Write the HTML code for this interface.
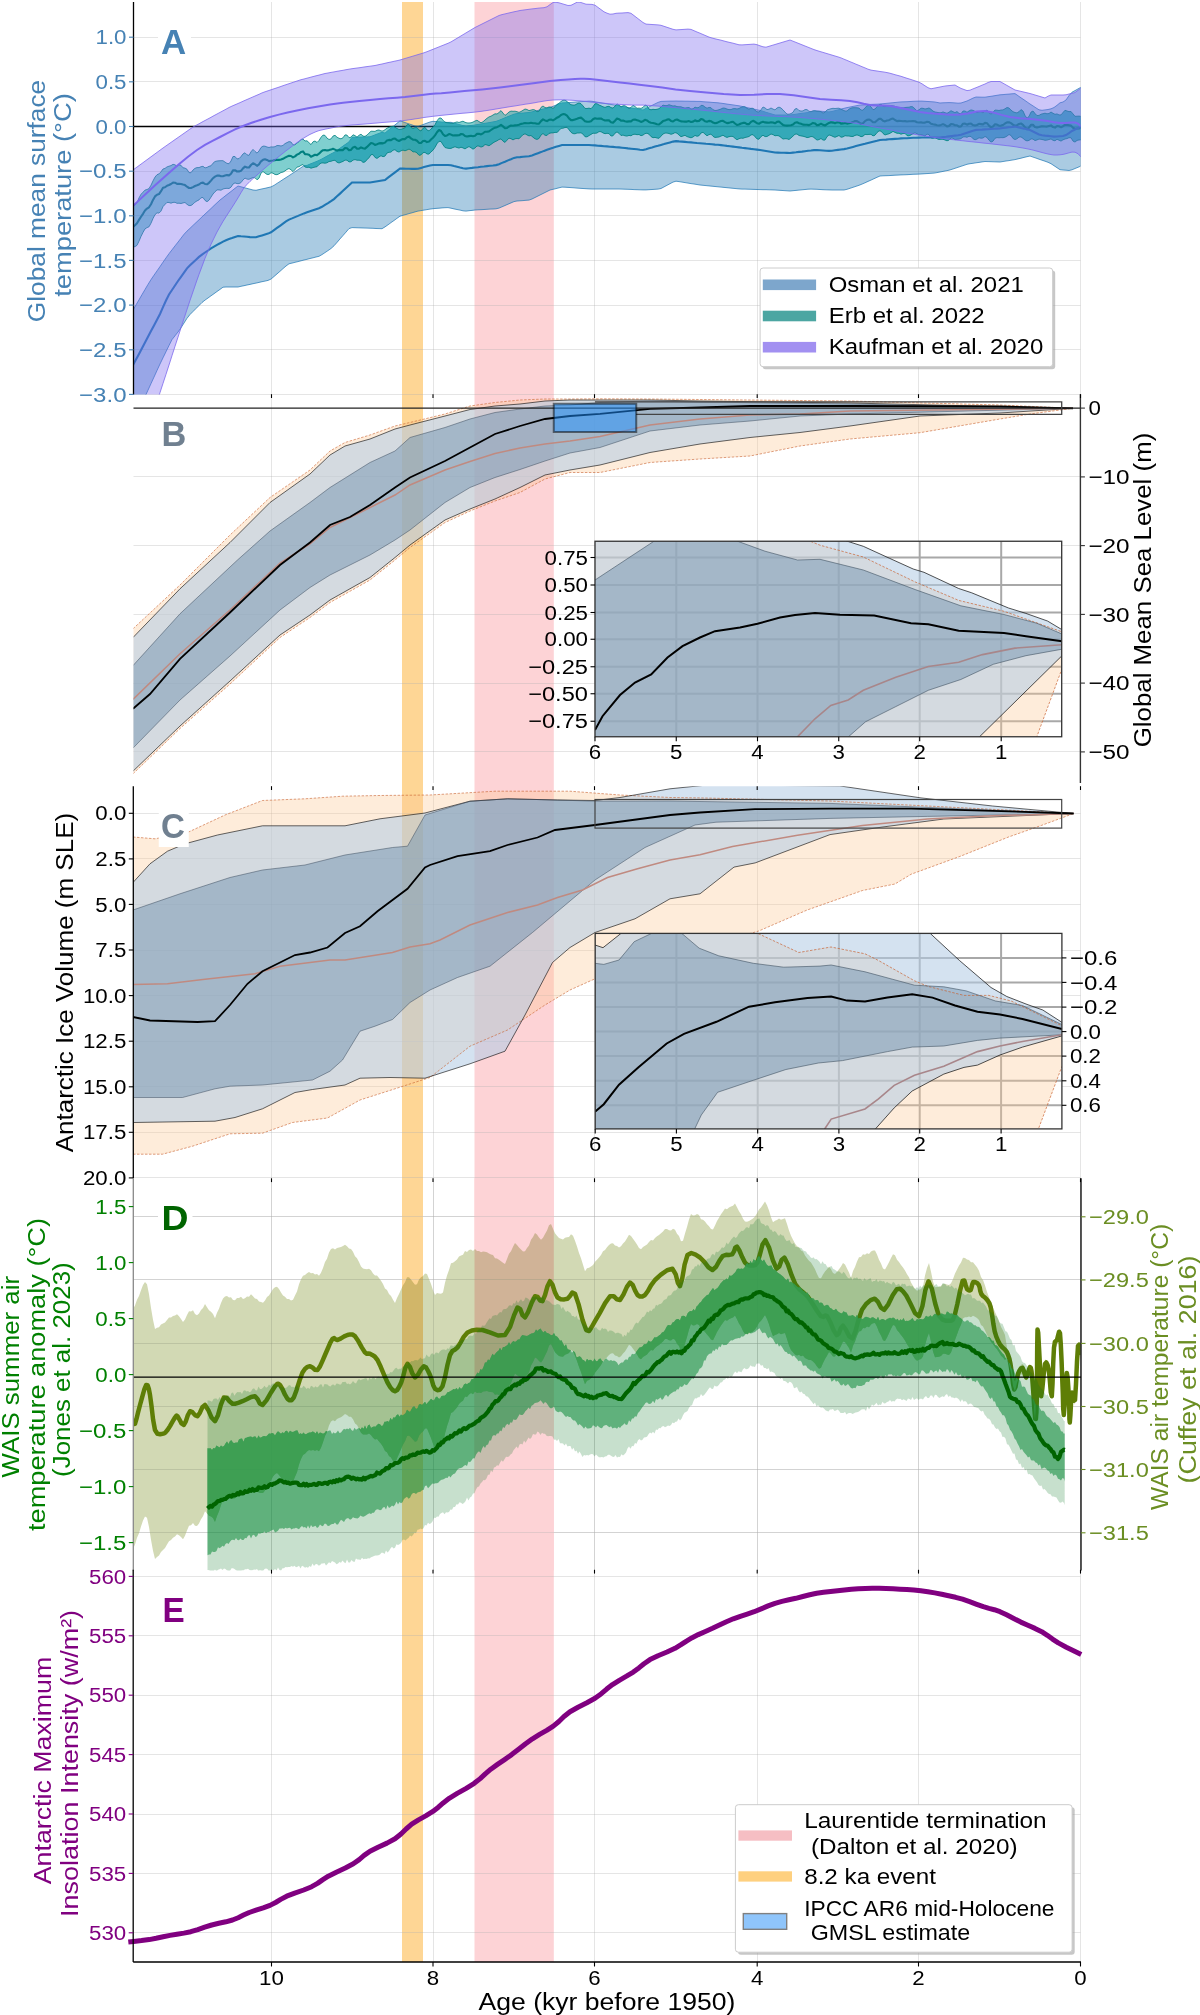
<!DOCTYPE html><html><head><meta charset="utf-8"><title>Holocene climate figure</title><style>html,body{margin:0;padding:0;background:#fff;overflow:hidden;}svg{display:block;will-change:transform;}text{font-family:'Liberation Sans', sans-serif;}</style></head><body>
<svg width="1200" height="2015" viewBox="0 0 1200 2015">
<rect width="1200" height="2015" fill="#fff"/>
<defs>
<clipPath id="clipA"><rect x="133.5" y="2" width="947.0" height="392.5"/></clipPath>
<clipPath id="clipB"><rect x="133.5" y="394.2" width="947.0" height="388.8"/></clipPath>
<clipPath id="clipC"><rect x="133.5" y="786.2" width="947.0" height="392.0999999999999"/></clipPath>
<clipPath id="clipD"><rect x="133.5" y="1178.3" width="947.0" height="392.20000000000005"/></clipPath>
<clipPath id="clipE"><rect x="133.5" y="1569.8" width="947.0" height="392.20000000000005"/></clipPath>
<clipPath id="clipBi"><rect x="595" y="541.25" width="466.7" height="195.5"/></clipPath>
<clipPath id="clipCi"><rect x="595.2" y="933.4" width="466.7" height="195.6"/></clipPath>
</defs>
<rect x="402" y="2" width="21" height="1960" fill="#fed695"/>
<rect x="474.5" y="2" width="79.3" height="1960" fill="#fdd3d6"/>
<line x1="133.5" y1="37.5" x2="1080.5" y2="37.5" stroke="#b0b0b0" stroke-opacity="0.33" stroke-width="1"/>
<line x1="133.5" y1="81.5" x2="1080.5" y2="81.5" stroke="#b0b0b0" stroke-opacity="0.33" stroke-width="1"/>
<line x1="133.5" y1="126.5" x2="1080.5" y2="126.5" stroke="#b0b0b0" stroke-opacity="0.33" stroke-width="1"/>
<line x1="133.5" y1="171.5" x2="1080.5" y2="171.5" stroke="#b0b0b0" stroke-opacity="0.33" stroke-width="1"/>
<line x1="133.5" y1="215.5" x2="1080.5" y2="215.5" stroke="#b0b0b0" stroke-opacity="0.33" stroke-width="1"/>
<line x1="133.5" y1="260.5" x2="1080.5" y2="260.5" stroke="#b0b0b0" stroke-opacity="0.33" stroke-width="1"/>
<line x1="133.5" y1="305.5" x2="1080.5" y2="305.5" stroke="#b0b0b0" stroke-opacity="0.33" stroke-width="1"/>
<line x1="133.5" y1="349.5" x2="1080.5" y2="349.5" stroke="#b0b0b0" stroke-opacity="0.33" stroke-width="1"/>
<line x1="133.5" y1="394.5" x2="1080.5" y2="394.5" stroke="#b0b0b0" stroke-opacity="0.33" stroke-width="1"/>
<line x1="271.5" y1="2" x2="271.5" y2="394.5" stroke="#b0b0b0" stroke-opacity="0.33" stroke-width="1"/>
<line x1="433.5" y1="2" x2="433.5" y2="394.5" stroke="#b0b0b0" stroke-opacity="0.33" stroke-width="1"/>
<line x1="594.5" y1="2" x2="594.5" y2="394.5" stroke="#b0b0b0" stroke-opacity="0.33" stroke-width="1"/>
<line x1="757.5" y1="2" x2="757.5" y2="394.5" stroke="#b0b0b0" stroke-opacity="0.33" stroke-width="1"/>
<line x1="918.5" y1="2" x2="918.5" y2="394.5" stroke="#b0b0b0" stroke-opacity="0.33" stroke-width="1"/>
<line x1="1080.5" y1="2" x2="1080.5" y2="394.5" stroke="#b0b0b0" stroke-opacity="0.33" stroke-width="1"/>
<g clip-path="url(#clipA)">
<line x1="133.5" y1="126.5" x2="1080.5" y2="126.5" stroke="#000" stroke-width="1.5"/>
<path d="M133,310 L136,304.9 L139,299.8 L142,294.6 L145,289.5 L148,284.4 L151,279.6 L154,275.2 L157,270.9 L160,266.6 L163,262.2 L166,257.9 L169,253.7 L172,249.8 L175,245.9 L178,242.1 L181,238.2 L184,234.3 L187,231.1 L190,228.3 L193,225.4 L196,222.6 L199,219.8 L202,216.9 L205,214.1 L208,211.3 L211,208.5 L214,205.6 L217,202.8 L220,200 L223,197.7 L226,195.3 L229,193 L232,190.7 L235,188.3 L238,186 L241,186.8 L244,187.6 L247,188.4 L250,189.2 L253,190 L256,190.3 L259,189.6 L262,188.9 L265,188.3 L268,187.6 L271,186.9 L274,185.4 L277,183.4 L280,181.5 L283,179.5 L286,177.6 L289,175.7 L292,173.7 L295,171.7 L298,169.7 L301,167.7 L304,165.7 L307,165.4 L310,164.1 L313,162.9 L316,161.7 L319,160.4 L322,158.9 L325,157.2 L328,155.6 L331,153.9 L334,152.4 L337,150.3 L340,148.2 L343,146.1 L346,144 L349,141.9 L352,137.4 L355,137.3 L358,137.2 L361,137.1 L364,137 L367,136.9 L370,136.8 L373,135.7 L376,134.5 L379,133.4 L382,132.3 L385,133.1 L388,130.6 L391,128.2 L394,125.7 L397,123.3 L400,120.8 L403,121.8 L406,122.9 L409,123.9 L412,124.9 L415,126 L418,126.3 L421,125.3 L424,124.2 L427,123.1 L430,122 L433,121.3 L436,121.6 L439,121.8 L442,122.1 L445,122.3 L448,122.4 L451,122.3 L454,123.1 L457,123.9 L460,124.8 L463,125.6 L466,126.1 L469,125.7 L472,125.4 L475,125 L478,124.5 L481,124 L484,123.5 L487,123 L490,122.5 L493,121.9 L496,121.4 L499,120.3 L502,119.1 L505,117.8 L508,116.6 L511,115.4 L514,114.2 L517,113.6 L520,113.3 L523,113.1 L526,112.8 L529,112.5 L532,111.9 L535,111.1 L538,110.4 L541,109.6 L544,108.9 L547,108.1 L550,107.4 L553,106.3 L556,105.1 L559,104 L562,102.9 L565,102.8 L568,102.6 L571,102.4 L574,102.2 L577,101.9 L580,101.7 L583,101.5 L586,101.3 L589,101.1 L592,101.3 L595,101.8 L598,102.3 L601,102.8 L604,103.3 L607,103.8 L610,104.3 L613,104.8 L616,105.3 L619,105.8 L622,106.4 L625,106.9 L628,107.4 L631,108 L634,108.5 L637,109 L640,109.5 L643,110.1 L646,108.4 L649,106.9 L652,105.4 L655,103.9 L658,102.4 L661,101.4 L664,101.3 L667,101.2 L670,101.1 L673,101.1 L676,101 L679,101.1 L682,101.1 L685,101.2 L688,101.2 L691,101.3 L694,101.3 L697,101.4 L700,101.4 L703,101.7 L706,101.9 L709,102.1 L712,102.4 L715,102.6 L718,102.8 L721,103.2 L724,103.6 L727,104.1 L730,104.5 L733,104.9 L736,105.4 L739,105.8 L742,106.4 L745,107.1 L748,107.8 L751,108.4 L754,109.1 L757,109.8 L760,110.4 L763,111.3 L766,112.3 L769,113.2 L772,114.1 L775,115 L778,115 L781,115 L784,115 L787,115 L790,115 L793,114.6 L796,114.2 L799,113.7 L802,113.3 L805,112.9 L808,112.5 L811,111.9 L814,111 L817,110.9 L820,111.2 L823,111.4 L826,111.7 L829,111.9 L832,111.5 L835,110.7 L838,109.9 L841,109.1 L844,108.3 L847,107.6 L850,107 L853,106.4 L856,105.8 L859,105.2 L862,104.9 L865,104.8 L868,104.6 L871,104.4 L874,104.3 L877,104.2 L880,104 L883,103.7 L886,103.4 L889,103.1 L892,102.8 L895,102.5 L898,102.2 L901,101.9 L904,101.8 L907,101.7 L910,101.5 L913,101.3 L916,101.2 L919,101.1 L922,101.1 L925,101.3 L928,101.5 L931,101.7 L934,101.9 L937,102.4 L940,103 L943,102.8 L946,102.7 L949,102.6 L952,102.7 L955,102.9 L958,103.2 L961,103 L964,102 L967,101 L970,99.6 L973,98.1 L976,97 L979,97.1 L982,97.2 L985,97.2 L988,96.7 L991,96.3 L994,95.8 L997,95.3 L1000,94.8 L1003,94.6 L1006,94.3 L1009,94.1 L1012,93.8 L1015,93.6 L1018,95.7 L1021,97.8 L1024,99.8 L1027,101.9 L1030,104 L1033,105.9 L1036,107.9 L1039,109.8 L1042,110.3 L1045,109.9 L1048,109.5 L1051,108.8 L1054,107.5 L1057,105.3 L1060,102.8 L1063,102 L1066,100 L1069,95.6 L1072,92.2 L1075,90.6 L1078,88.9 L1081,87.2 L1081,166 L1078,167.3 L1075,168.5 L1072,169.8 L1069,170.5 L1066,170.2 L1063,170 L1060,169.7 L1057,167.7 L1054,165.7 L1051,163.7 L1048,162.3 L1045,161.2 L1042,160.2 L1039,159.2 L1036,158.1 L1033,157.1 L1030,156 L1027,156.7 L1024,157.4 L1021,158.2 L1018,158.9 L1015,159.6 L1012,160.1 L1009,160.6 L1006,161 L1003,161.5 L1000,162 L997,161.9 L994,161.8 L991,161.7 L988,161.6 L985,161.5 L982,161.9 L979,162.4 L976,162.8 L973,163.3 L970,163.7 L967,164.3 L964,165.3 L961,166.3 L958,167.3 L955,168.3 L952,169.3 L949,170.2 L946,170.8 L943,171.4 L940,172 L937,172.6 L934,173.1 L931,173.3 L928,173.5 L925,173.7 L922,173.9 L919,174.1 L916,174.2 L913,174.3 L910,174.5 L907,174.7 L904,174.8 L901,174.9 L898,175.1 L895,175.2 L892,175.4 L889,175.6 L886,175.7 L883,175.8 L880,176 L877,177.3 L874,178.7 L871,180.1 L868,181.4 L865,182.8 L862,184.1 L859,185.3 L856,186.3 L853,187.3 L850,188.3 L847,189.3 L844,190 L841,190 L838,190 L835,190 L832,190 L829,189.9 L826,189.8 L823,189.7 L820,189.5 L817,189.3 L814,189.2 L811,189.1 L808,189.2 L805,189.5 L802,189.8 L799,190.1 L796,190.4 L793,190.7 L790,191 L787,190.8 L784,190.6 L781,190.4 L778,190.2 L775,190 L772,189.9 L769,189.8 L766,189.7 L763,189.7 L760,189.6 L757,189.5 L754,189.4 L751,189.3 L748,189.2 L745,189.1 L742,189.1 L739,188.9 L736,188.6 L733,188.3 L730,188 L727,187.7 L724,187.4 L721,187.1 L718,186.8 L715,186.5 L712,186.2 L709,185.9 L706,185.6 L703,185.3 L700,185 L697,184.5 L694,184 L691,183.6 L688,183.1 L685,182.6 L682,182.1 L679,181.6 L676,181.2 L673,182.1 L670,183.7 L667,185.3 L664,186.9 L661,188.5 L658,189.1 L655,189.3 L652,189.5 L649,189.7 L646,189.9 L643,189.9 L640,189.8 L637,189.7 L634,189.6 L631,189.4 L628,189.3 L625,189.2 L622,189.1 L619,189 L616,189 L613,189 L610,189 L607,189 L604,189 L601,189 L598,189 L595,189 L592,189 L589,188.9 L586,188.7 L583,188.5 L580,188.3 L577,188.1 L574,187.8 L571,187.6 L568,187.4 L565,187.2 L562,187.1 L559,187.8 L556,188.6 L553,189.3 L550,190 L547,191.5 L544,193 L541,194.5 L538,196 L535,197.5 L532,199 L529,200.1 L526,200.3 L523,200.6 L520,200.8 L517,201 L514,201.6 L511,202.9 L508,204.2 L505,205.5 L502,206.8 L499,208.1 L496,208.8 L493,209 L490,209.1 L487,209.3 L484,209.5 L481,209.7 L478,209.8 L475,210 L472,210.4 L469,210.7 L466,211.1 L463,210.8 L460,210.1 L457,209.5 L454,208.9 L451,208.2 L448,207.6 L445,207.7 L442,207.9 L439,208.2 L436,208.4 L433,208.7 L430,209.1 L427,209.6 L424,210.1 L421,210.6 L418,211.1 L415,211.9 L412,212.8 L409,213.6 L406,214.5 L403,215.3 L400,216.2 L397,218.3 L394,220.5 L391,222.6 L388,224.8 L385,226.9 L382,228.7 L379,228.6 L376,228.5 L373,228.3 L370,228.2 L367,228.1 L364,228 L361,227.9 L358,227.8 L355,227.7 L352,227.6 L349,228.6 L346,232.1 L343,235.5 L340,238.9 L337,242.4 L334,245.8 L331,248.5 L328,250.6 L325,252.6 L322,254.6 L319,256.3 L316,257 L313,257.8 L310,258.5 L307,259.3 L304,260 L301,260.8 L298,261.6 L295,262.3 L292,263.1 L289,263.8 L286,266 L283,268.6 L280,271.3 L277,273.9 L274,276.5 L271,279.1 L268,280.4 L265,281.1 L262,281.7 L259,282.4 L256,283.1 L253,283.7 L250,284.4 L247,285 L244,285.7 L241,286.3 L238,287 L235,287 L232,287 L229,287 L226,287 L223,287.2 L220,289.4 L217,291.5 L214,293.7 L211,295.8 L208,298 L205,300.1 L202,302.5 L199,305.5 L196,308.5 L193,311.5 L190,314.5 L187,318.3 L184,323 L181,327.8 L178,332 L175,335.8 L172,339.6 L169,345.5 L166,351.7 L163,357.8 L160,364 L157,370.5 L154,377.1 L151,383.6 L148,390.2 L145,396.7 L142,402.9 L139,409.1 L136,415.6 L133,422 Z" fill="#1f77b4" fill-opacity="0.38" stroke="#1f77b4" stroke-width="0.8" stroke-opacity="0.9"/>
<path d="M133,206 L135,205.1 L137,202.8 L139,197.9 L141,194.3 L143,192.2 L145,190.1 L147,189.5 L149,188.6 L151,185.2 L153,180.9 L155,177.1 L157,174.7 L159,173.9 L161,171.8 L163,169 L165,168.4 L167,166.9 L169,166.2 L171,165.6 L173,164.3 L175,164.8 L177,166.3 L179,164.8 L181,165.3 L183,167.8 L185,168.1 L187,169.3 L189,172.6 L191,172.7 L193,170 L195,168.3 L197,167.6 L199,167.6 L201,166.7 L203,166.3 L205,167.9 L207,167.4 L209,166.3 L211,165.8 L213,163.2 L215,161.5 L217,161 L219,160.8 L221,160.7 L223,160.7 L225,162.1 L227,163.4 L229,163.7 L231,161 L233,156.5 L235,156.5 L237,158.9 L239,158.6 L241,156.6 L243,153.9 L245,152.8 L247,154.8 L249,155.4 L251,151.8 L253,149.4 L255,151.4 L257,153.1 L259,151 L261,147.5 L263,146.1 L265,146.2 L267,147 L269,147.5 L271,146.9 L273,147 L275,146.7 L277,145.5 L279,145.6 L281,146 L283,145.4 L285,143.6 L287,142.6 L289,141.6 L291,142 L293,144.8 L295,144.8 L297,143 L299,141.7 L301,139.4 L303,139.1 L305,141 L307,140.8 L309,142.7 L311,144.6 L313,141.8 L315,141 L317,142.5 L319,140.5 L321,137.3 L323,135.1 L325,135.4 L327,138.1 L329,139.5 L331,138.9 L333,136.1 L335,135.3 L337,137.2 L339,138.3 L341,138.8 L343,137.8 L345,134.9 L347,135.1 L349,137.7 L351,137.2 L353,134.8 L355,135.6 L357,137.2 L359,135.3 L361,134.2 L363,136.1 L365,136.4 L367,135.1 L369,133.1 L371,131.2 L373,131.3 L375,131.4 L377,130.3 L379,130 L381,130.9 L383,131 L385,129.7 L387,128.2 L389,127.3 L391,126.6 L393,126.3 L395,127.2 L397,128.5 L399,129.4 L401,129.2 L403,128.7 L405,127.8 L407,124.8 L409,124.7 L411,127.4 L413,128.6 L415,127.6 L417,127.7 L419,130 L421,131 L423,128.3 L425,127.3 L427,130 L429,130.9 L431,128.9 L433,127.3 L435,124.7 L437,120.9 L439,118.2 L441,118 L443,120.2 L445,122.2 L447,122.7 L449,122.8 L451,123.2 L453,123.4 L455,122.5 L457,121.9 L459,122.5 L461,121.8 L463,121.2 L465,122.3 L467,122.9 L469,123 L471,122.8 L473,122.1 L475,121 L477,120.2 L479,121.6 L481,122.8 L483,121.8 L485,120 L487,118.3 L489,116.9 L491,116.2 L493,115 L495,113.8 L497,114 L499,112.5 L501,110.6 L503,113.1 L505,115.4 L507,113.9 L509,112 L511,111.1 L513,111.3 L515,111.2 L517,111.7 L519,112.4 L521,111.5 L523,110.3 L525,109 L527,109.5 L529,110.6 L531,110.1 L533,109.6 L535,110 L537,111.7 L539,111.2 L541,107.4 L543,106 L545,107.5 L547,107.9 L549,106.9 L551,107.3 L553,108.4 L555,106.7 L557,104.4 L559,103.3 L561,101.5 L563,100.3 L565,100.2 L567,101.3 L569,103.4 L571,104.7 L573,105.1 L575,105 L577,103.8 L579,103 L581,103.7 L583,105.9 L585,108.4 L587,108.5 L589,108.1 L591,108.7 L593,106.6 L595,103.8 L597,103.7 L599,105 L601,105.8 L603,106.8 L605,107.4 L607,106.6 L609,106.3 L611,107.6 L613,108.1 L615,106.1 L617,103.9 L619,105.2 L621,107 L623,105.7 L625,105.7 L627,107.2 L629,108.5 L631,107.5 L633,105.2 L635,106.5 L637,108.3 L639,108.1 L641,108.4 L643,107.4 L645,105.1 L647,105.7 L649,109.1 L651,109.8 L653,109.3 L655,109.6 L657,109.3 L659,108.7 L661,106.9 L663,105.1 L665,105.6 L667,105.6 L669,104.7 L671,105.4 L673,106 L675,105.8 L677,106.6 L679,106.8 L681,106.8 L683,107.6 L685,108.1 L687,107.7 L689,107.5 L691,109 L693,108.8 L695,107.1 L697,107.8 L699,107.4 L701,105.4 L703,105.5 L705,107.1 L707,108.2 L709,107.4 L711,107.7 L713,109.7 L715,110.5 L717,110.3 L719,109.7 L721,109 L723,108 L725,108.2 L727,109.1 L729,109.6 L731,109.6 L733,108.7 L735,108.6 L737,109 L739,108.5 L741,107.4 L743,106.7 L745,106.8 L747,108.4 L749,109.2 L751,108.3 L753,108.3 L755,110.2 L757,111.8 L759,112 L761,109.7 L763,107 L765,107.9 L767,109.6 L769,109.2 L771,108 L773,109.1 L775,109.9 L777,108 L779,107.1 L781,108 L783,109.9 L785,112.1 L787,114.1 L789,114.2 L791,113.6 L793,112.3 L795,109 L797,108.5 L799,110.6 L801,111.1 L803,110.9 L805,109.6 L807,109.6 L809,111.3 L811,111.6 L813,110.8 L815,110.7 L817,111.3 L819,111.3 L821,111.6 L823,113.1 L825,112.2 L827,109.9 L829,109.3 L831,108.7 L833,108.3 L835,108.5 L837,108.3 L839,108.2 L841,109.2 L843,110.1 L845,111 L847,111 L849,109.2 L851,108.1 L853,107.7 L855,107.7 L857,107.8 L859,108.1 L861,110 L863,110.2 L865,107.8 L867,105.9 L869,105 L871,106.9 L873,109.7 L875,109 L877,106.8 L879,104.8 L881,104.3 L883,106.2 L885,106.7 L887,105.9 L889,105.9 L891,105.7 L893,105.9 L895,106.3 L897,107.2 L899,107.5 L901,107.5 L903,107.9 L905,107.5 L907,107.3 L909,107.2 L911,106.6 L913,106.9 L915,109 L917,110.9 L919,109.8 L921,108.2 L923,108.3 L925,109 L927,108.6 L929,107.9 L931,109.3 L933,111.1 L935,112 L937,112.3 L939,112.8 L941,112.8 L943,111.9 L945,112.7 L947,113.3 L949,112.2 L951,110.7 L953,111.7 L955,112.6 L957,111.6 L959,113.4 L961,113.8 L963,111 L965,111 L967,112.3 L969,110.9 L971,109.9 L973,110.4 L975,111.3 L977,112.6 L979,111.8 L981,111.6 L983,112.9 L985,111 L987,110.1 L989,112.7 L991,114.1 L993,112.3 L995,110 L997,110.2 L999,110.5 L1001,110 L1003,109.9 L1005,108.8 L1007,107.5 L1009,108 L1011,110.1 L1013,111.7 L1015,112.5 L1017,112.9 L1019,111.7 L1021,109.6 L1023,111 L1025,115.5 L1027,118.2 L1029,116.4 L1031,112.1 L1033,111 L1035,113.5 L1037,115.6 L1039,115.4 L1041,114.2 L1043,113.7 L1045,113.2 L1047,113.8 L1049,113.5 L1051,112 L1053,113.3 L1055,114.3 L1057,113.9 L1059,114.9 L1061,114.9 L1063,112.5 L1065,110.3 L1067,111 L1069,111.6 L1071,111.5 L1073,113.9 L1075,116.3 L1077,116.2 L1079,116.1 L1081,116.4 L1081,140 L1079,139.9 L1077,140.4 L1075,142.1 L1073,141.1 L1071,137.8 L1069,137.7 L1067,138.6 L1065,139 L1063,139.8 L1061,141.1 L1059,140.2 L1057,139.2 L1055,140.8 L1053,140.3 L1051,138.9 L1049,139.5 L1047,140.1 L1045,140.3 L1043,139.7 L1041,139.3 L1039,139.1 L1037,139.9 L1035,140.6 L1033,139.1 L1031,138.9 L1029,140.4 L1027,140.9 L1025,140.1 L1023,138.3 L1021,136.9 L1019,137.1 L1017,138.8 L1015,139.6 L1013,138.4 L1011,135.5 L1009,134.5 L1007,136.1 L1005,137.2 L1003,137.7 L1001,137.6 L999,137.8 L997,137.6 L995,138.3 L993,141.2 L991,142.1 L989,140.2 L987,137.5 L985,136.5 L983,138 L981,138.2 L979,137.8 L977,139.1 L975,139.8 L973,138.7 L971,136.5 L969,136.3 L967,137.3 L965,136.8 L963,137 L961,138.6 L959,139.1 L957,139.2 L955,139.7 L953,138.2 L951,137.9 L949,140.1 L947,140.8 L945,140 L943,139.3 L941,139.3 L939,139.5 L937,138.8 L935,137.6 L933,138.2 L931,137.9 L929,134.7 L927,134.1 L925,135.9 L923,135.3 L921,134.6 L919,134.9 L917,133.8 L915,132.8 L913,133.7 L911,134.9 L909,135.9 L907,135.6 L905,133.3 L903,133.5 L901,134.2 L899,133.3 L897,133.3 L895,132.4 L893,131.4 L891,132.7 L889,133.8 L887,134.3 L885,135 L883,133.4 L881,131.1 L879,130.9 L877,132.6 L875,135.2 L873,135.9 L871,134.3 L869,134.4 L867,134.6 L865,134.4 L863,136.2 L861,136.7 L859,135.6 L857,134.9 L855,135.4 L853,136.5 L851,136.4 L849,136 L847,136 L845,135.7 L843,136.9 L841,137.2 L839,135.5 L837,136.4 L835,137.3 L833,136.5 L831,135.5 L829,134.9 L827,136.7 L825,140.1 L823,140.1 L821,138.5 L819,139.6 L817,140.1 L815,138.4 L813,136.8 L811,136.5 L809,137.3 L807,137.6 L805,136.8 L803,136.2 L801,135.9 L799,135.5 L797,134 L795,134.2 L793,136.1 L791,137.9 L789,139.5 L787,138.8 L785,138.7 L783,139.1 L781,137.4 L779,135.9 L777,135.5 L775,135.8 L773,134.6 L771,134 L769,135.3 L767,136.5 L765,136.6 L763,135.2 L761,136.6 L759,139.2 L757,138.9 L755,136.7 L753,134.7 L751,134.9 L749,136.5 L747,137.1 L745,137.5 L743,138.3 L741,138.1 L739,138.7 L737,139.8 L735,138.3 L733,136.5 L731,136.3 L729,136.7 L727,137.4 L725,136.6 L723,135.2 L721,136.1 L719,137 L717,137.2 L715,137.5 L713,136.3 L711,134.1 L709,134.6 L707,135.8 L705,134.1 L703,132.3 L701,133 L699,135.7 L697,136.3 L695,135.4 L693,137 L691,137.8 L689,137.2 L687,136.6 L685,135.3 L683,136 L681,136.7 L679,135 L677,133.2 L675,132.6 L673,133.7 L671,134.3 L669,133.5 L667,133.1 L665,133.1 L663,134 L661,136.2 L659,138.3 L657,138 L655,137.4 L653,137.7 L651,136.6 L649,134.2 L647,133.2 L645,133.6 L643,135.1 L641,135.7 L639,134.5 L637,134.7 L635,134.2 L633,134.5 L631,135.8 L629,135.4 L627,136.1 L625,135.8 L623,135.1 L621,135.5 L619,133.3 L617,131.9 L615,133.2 L613,135.8 L611,136 L609,133.6 L607,133.3 L605,133.7 L603,132.9 L601,131.7 L599,131.6 L597,133 L595,133.3 L593,133.2 L591,134.4 L589,135.6 L587,136.9 L585,136.7 L583,134.1 L581,132.8 L579,133 L577,133 L575,133.8 L573,133.6 L571,132.3 L569,129.7 L567,127.3 L565,127.5 L563,128.2 L561,128.3 L559,130.6 L557,132.4 L555,132.4 L553,132.9 L551,132.9 L549,133.4 L547,135.4 L545,135.3 L543,133.5 L541,135 L539,138.5 L537,139.4 L535,138.8 L533,137.2 L531,135.5 L529,135.9 L527,134.9 L525,133.8 L523,134.7 L521,136.7 L519,138.8 L517,138.5 L515,138.8 L513,139.9 L511,138.7 L509,138.2 L507,140.1 L505,142.4 L503,141.1 L501,138.9 L499,139.5 L497,140.8 L495,141.7 L493,142.9 L491,144.4 L489,145.8 L487,145 L485,144.5 L483,146.4 L481,147.1 L479,146.1 L477,146 L475,148 L473,149.2 L471,147.7 L469,146.6 L467,147.6 L465,148.9 L463,147.9 L461,147.2 L459,148.1 L457,147.5 L455,146.8 L453,147.5 L451,148.4 L449,148.4 L447,148.1 L445,147.5 L443,144.8 L441,141.5 L439,141.3 L437,143.7 L435,147.3 L433,150.2 L431,151.9 L429,154.1 L427,154 L425,152.4 L423,152.7 L421,154.9 L419,155.3 L417,152.9 L415,151.8 L413,151.9 L411,150.1 L409,149.1 L407,150 L405,150.8 L403,150.1 L401,150.8 L399,152.1 L397,151.4 L395,149.7 L393,150.2 L391,152.1 L389,152.3 L387,153 L385,156.1 L383,156.7 L381,155.7 L379,156.9 L377,158.4 L375,157.4 L373,154.6 L371,154.7 L369,157.7 L367,159.7 L365,161.9 L363,162.4 L361,160.5 L359,160.2 L357,160.2 L355,159.6 L353,160.1 L351,161.8 L349,161.9 L347,160.2 L345,160.1 L343,161.4 L341,162.2 L339,163 L337,162.2 L335,160.3 L333,160.5 L331,161.3 L329,161.5 L327,162.8 L325,163.2 L323,162.9 L321,163.1 L319,164.6 L317,166.7 L315,167.1 L313,167.6 L311,168.2 L309,167.2 L307,167.4 L305,167 L303,164.5 L301,165.3 L299,166.7 L297,167.1 L295,169.6 L293,171.6 L291,169.8 L289,168.5 L287,169.4 L285,170.9 L283,172.1 L281,172.5 L279,173.8 L277,174.7 L275,174.5 L273,173.2 L271,172.7 L269,174.4 L267,174.4 L265,173 L263,171.5 L261,173.1 L259,178.2 L257,179.8 L255,177.8 L253,177.5 L251,178.4 L249,179.3 L247,179.1 L245,178.1 L243,179.9 L241,182.6 L239,183.6 L237,183.6 L235,182.9 L233,184 L231,187.2 L229,188.5 L227,188.3 L225,188.5 L223,189 L221,190.2 L219,189.9 L217,189.9 L215,191.8 L213,194 L211,197.1 L209,200.2 L207,201.7 L205,200.4 L203,197.5 L201,197.8 L199,199.9 L197,200.9 L195,202.1 L193,204.1 L191,205.5 L189,205.6 L187,204.3 L185,202.5 L183,202.9 L181,203.5 L179,203.2 L177,203.3 L175,202.3 L173,202.4 L171,203.2 L169,202.5 L167,202.4 L165,204.4 L163,206.6 L161,211.1 L159,213.1 L157,212.8 L155,214.7 L153,218.5 L151,223.2 L149,226.8 L147,227.6 L145,228.9 L143,232.4 L141,236.4 L139,241.2 L137,245.3 L135,246.6 L133,247.1 Z" fill="#00a0a0" fill-opacity="0.5"/>
<clipPath id="osmanClip"><path d="M133,310 L136,304.9 L139,299.8 L142,294.6 L145,289.5 L148,284.4 L151,279.6 L154,275.2 L157,270.9 L160,266.6 L163,262.2 L166,257.9 L169,253.7 L172,249.8 L175,245.9 L178,242.1 L181,238.2 L184,234.3 L187,231.1 L190,228.3 L193,225.4 L196,222.6 L199,219.8 L202,216.9 L205,214.1 L208,211.3 L211,208.5 L214,205.6 L217,202.8 L220,200 L223,197.7 L226,195.3 L229,193 L232,190.7 L235,188.3 L238,186 L241,186.8 L244,187.6 L247,188.4 L250,189.2 L253,190 L256,190.3 L259,189.6 L262,188.9 L265,188.3 L268,187.6 L271,186.9 L274,185.4 L277,183.4 L280,181.5 L283,179.5 L286,177.6 L289,175.7 L292,173.7 L295,171.7 L298,169.7 L301,167.7 L304,165.7 L307,165.4 L310,164.1 L313,162.9 L316,161.7 L319,160.4 L322,158.9 L325,157.2 L328,155.6 L331,153.9 L334,152.4 L337,150.3 L340,148.2 L343,146.1 L346,144 L349,141.9 L352,137.4 L355,137.3 L358,137.2 L361,137.1 L364,137 L367,136.9 L370,136.8 L373,135.7 L376,134.5 L379,133.4 L382,132.3 L385,133.1 L388,130.6 L391,128.2 L394,125.7 L397,123.3 L400,120.8 L403,121.8 L406,122.9 L409,123.9 L412,124.9 L415,126 L418,126.3 L421,125.3 L424,124.2 L427,123.1 L430,122 L433,121.3 L436,121.6 L439,121.8 L442,122.1 L445,122.3 L448,122.4 L451,122.3 L454,123.1 L457,123.9 L460,124.8 L463,125.6 L466,126.1 L469,125.7 L472,125.4 L475,125 L478,124.5 L481,124 L484,123.5 L487,123 L490,122.5 L493,121.9 L496,121.4 L499,120.3 L502,119.1 L505,117.8 L508,116.6 L511,115.4 L514,114.2 L517,113.6 L520,113.3 L523,113.1 L526,112.8 L529,112.5 L532,111.9 L535,111.1 L538,110.4 L541,109.6 L544,108.9 L547,108.1 L550,107.4 L553,106.3 L556,105.1 L559,104 L562,102.9 L565,102.8 L568,102.6 L571,102.4 L574,102.2 L577,101.9 L580,101.7 L583,101.5 L586,101.3 L589,101.1 L592,101.3 L595,101.8 L598,102.3 L601,102.8 L604,103.3 L607,103.8 L610,104.3 L613,104.8 L616,105.3 L619,105.8 L622,106.4 L625,106.9 L628,107.4 L631,108 L634,108.5 L637,109 L640,109.5 L643,110.1 L646,108.4 L649,106.9 L652,105.4 L655,103.9 L658,102.4 L661,101.4 L664,101.3 L667,101.2 L670,101.1 L673,101.1 L676,101 L679,101.1 L682,101.1 L685,101.2 L688,101.2 L691,101.3 L694,101.3 L697,101.4 L700,101.4 L703,101.7 L706,101.9 L709,102.1 L712,102.4 L715,102.6 L718,102.8 L721,103.2 L724,103.6 L727,104.1 L730,104.5 L733,104.9 L736,105.4 L739,105.8 L742,106.4 L745,107.1 L748,107.8 L751,108.4 L754,109.1 L757,109.8 L760,110.4 L763,111.3 L766,112.3 L769,113.2 L772,114.1 L775,115 L778,115 L781,115 L784,115 L787,115 L790,115 L793,114.6 L796,114.2 L799,113.7 L802,113.3 L805,112.9 L808,112.5 L811,111.9 L814,111 L817,110.9 L820,111.2 L823,111.4 L826,111.7 L829,111.9 L832,111.5 L835,110.7 L838,109.9 L841,109.1 L844,108.3 L847,107.6 L850,107 L853,106.4 L856,105.8 L859,105.2 L862,104.9 L865,104.8 L868,104.6 L871,104.4 L874,104.3 L877,104.2 L880,104 L883,103.7 L886,103.4 L889,103.1 L892,102.8 L895,102.5 L898,102.2 L901,101.9 L904,101.8 L907,101.7 L910,101.5 L913,101.3 L916,101.2 L919,101.1 L922,101.1 L925,101.3 L928,101.5 L931,101.7 L934,101.9 L937,102.4 L940,103 L943,102.8 L946,102.7 L949,102.6 L952,102.7 L955,102.9 L958,103.2 L961,103 L964,102 L967,101 L970,99.6 L973,98.1 L976,97 L979,97.1 L982,97.2 L985,97.2 L988,96.7 L991,96.3 L994,95.8 L997,95.3 L1000,94.8 L1003,94.6 L1006,94.3 L1009,94.1 L1012,93.8 L1015,93.6 L1018,95.7 L1021,97.8 L1024,99.8 L1027,101.9 L1030,104 L1033,105.9 L1036,107.9 L1039,109.8 L1042,110.3 L1045,109.9 L1048,109.5 L1051,108.8 L1054,107.5 L1057,105.3 L1060,102.8 L1063,102 L1066,100 L1069,95.6 L1072,92.2 L1075,90.6 L1078,88.9 L1081,87.2 L1081,166 L1078,167.3 L1075,168.5 L1072,169.8 L1069,170.5 L1066,170.2 L1063,170 L1060,169.7 L1057,167.7 L1054,165.7 L1051,163.7 L1048,162.3 L1045,161.2 L1042,160.2 L1039,159.2 L1036,158.1 L1033,157.1 L1030,156 L1027,156.7 L1024,157.4 L1021,158.2 L1018,158.9 L1015,159.6 L1012,160.1 L1009,160.6 L1006,161 L1003,161.5 L1000,162 L997,161.9 L994,161.8 L991,161.7 L988,161.6 L985,161.5 L982,161.9 L979,162.4 L976,162.8 L973,163.3 L970,163.7 L967,164.3 L964,165.3 L961,166.3 L958,167.3 L955,168.3 L952,169.3 L949,170.2 L946,170.8 L943,171.4 L940,172 L937,172.6 L934,173.1 L931,173.3 L928,173.5 L925,173.7 L922,173.9 L919,174.1 L916,174.2 L913,174.3 L910,174.5 L907,174.7 L904,174.8 L901,174.9 L898,175.1 L895,175.2 L892,175.4 L889,175.6 L886,175.7 L883,175.8 L880,176 L877,177.3 L874,178.7 L871,180.1 L868,181.4 L865,182.8 L862,184.1 L859,185.3 L856,186.3 L853,187.3 L850,188.3 L847,189.3 L844,190 L841,190 L838,190 L835,190 L832,190 L829,189.9 L826,189.8 L823,189.7 L820,189.5 L817,189.3 L814,189.2 L811,189.1 L808,189.2 L805,189.5 L802,189.8 L799,190.1 L796,190.4 L793,190.7 L790,191 L787,190.8 L784,190.6 L781,190.4 L778,190.2 L775,190 L772,189.9 L769,189.8 L766,189.7 L763,189.7 L760,189.6 L757,189.5 L754,189.4 L751,189.3 L748,189.2 L745,189.1 L742,189.1 L739,188.9 L736,188.6 L733,188.3 L730,188 L727,187.7 L724,187.4 L721,187.1 L718,186.8 L715,186.5 L712,186.2 L709,185.9 L706,185.6 L703,185.3 L700,185 L697,184.5 L694,184 L691,183.6 L688,183.1 L685,182.6 L682,182.1 L679,181.6 L676,181.2 L673,182.1 L670,183.7 L667,185.3 L664,186.9 L661,188.5 L658,189.1 L655,189.3 L652,189.5 L649,189.7 L646,189.9 L643,189.9 L640,189.8 L637,189.7 L634,189.6 L631,189.4 L628,189.3 L625,189.2 L622,189.1 L619,189 L616,189 L613,189 L610,189 L607,189 L604,189 L601,189 L598,189 L595,189 L592,189 L589,188.9 L586,188.7 L583,188.5 L580,188.3 L577,188.1 L574,187.8 L571,187.6 L568,187.4 L565,187.2 L562,187.1 L559,187.8 L556,188.6 L553,189.3 L550,190 L547,191.5 L544,193 L541,194.5 L538,196 L535,197.5 L532,199 L529,200.1 L526,200.3 L523,200.6 L520,200.8 L517,201 L514,201.6 L511,202.9 L508,204.2 L505,205.5 L502,206.8 L499,208.1 L496,208.8 L493,209 L490,209.1 L487,209.3 L484,209.5 L481,209.7 L478,209.8 L475,210 L472,210.4 L469,210.7 L466,211.1 L463,210.8 L460,210.1 L457,209.5 L454,208.9 L451,208.2 L448,207.6 L445,207.7 L442,207.9 L439,208.2 L436,208.4 L433,208.7 L430,209.1 L427,209.6 L424,210.1 L421,210.6 L418,211.1 L415,211.9 L412,212.8 L409,213.6 L406,214.5 L403,215.3 L400,216.2 L397,218.3 L394,220.5 L391,222.6 L388,224.8 L385,226.9 L382,228.7 L379,228.6 L376,228.5 L373,228.3 L370,228.2 L367,228.1 L364,228 L361,227.9 L358,227.8 L355,227.7 L352,227.6 L349,228.6 L346,232.1 L343,235.5 L340,238.9 L337,242.4 L334,245.8 L331,248.5 L328,250.6 L325,252.6 L322,254.6 L319,256.3 L316,257 L313,257.8 L310,258.5 L307,259.3 L304,260 L301,260.8 L298,261.6 L295,262.3 L292,263.1 L289,263.8 L286,266 L283,268.6 L280,271.3 L277,273.9 L274,276.5 L271,279.1 L268,280.4 L265,281.1 L262,281.7 L259,282.4 L256,283.1 L253,283.7 L250,284.4 L247,285 L244,285.7 L241,286.3 L238,287 L235,287 L232,287 L229,287 L226,287 L223,287.2 L220,289.4 L217,291.5 L214,293.7 L211,295.8 L208,298 L205,300.1 L202,302.5 L199,305.5 L196,308.5 L193,311.5 L190,314.5 L187,318.3 L184,323 L181,327.8 L178,332 L175,335.8 L172,339.6 L169,345.5 L166,351.7 L163,357.8 L160,364 L157,370.5 L154,377.1 L151,383.6 L148,390.2 L145,396.7 L142,402.9 L139,409.1 L136,415.6 L133,422 Z"/></clipPath>
<path d="M133,206 L135,205.1 L137,202.8 L139,197.9 L141,194.3 L143,192.2 L145,190.1 L147,189.5 L149,188.6 L151,185.2 L153,180.9 L155,177.1 L157,174.7 L159,173.9 L161,171.8 L163,169 L165,168.4 L167,166.9 L169,166.2 L171,165.6 L173,164.3 L175,164.8 L177,166.3 L179,164.8 L181,165.3 L183,167.8 L185,168.1 L187,169.3 L189,172.6 L191,172.7 L193,170 L195,168.3 L197,167.6 L199,167.6 L201,166.7 L203,166.3 L205,167.9 L207,167.4 L209,166.3 L211,165.8 L213,163.2 L215,161.5 L217,161 L219,160.8 L221,160.7 L223,160.7 L225,162.1 L227,163.4 L229,163.7 L231,161 L233,156.5 L235,156.5 L237,158.9 L239,158.6 L241,156.6 L243,153.9 L245,152.8 L247,154.8 L249,155.4 L251,151.8 L253,149.4 L255,151.4 L257,153.1 L259,151 L261,147.5 L263,146.1 L265,146.2 L267,147 L269,147.5 L271,146.9 L273,147 L275,146.7 L277,145.5 L279,145.6 L281,146 L283,145.4 L285,143.6 L287,142.6 L289,141.6 L291,142 L293,144.8 L295,144.8 L297,143 L299,141.7 L301,139.4 L303,139.1 L305,141 L307,140.8 L309,142.7 L311,144.6 L313,141.8 L315,141 L317,142.5 L319,140.5 L321,137.3 L323,135.1 L325,135.4 L327,138.1 L329,139.5 L331,138.9 L333,136.1 L335,135.3 L337,137.2 L339,138.3 L341,138.8 L343,137.8 L345,134.9 L347,135.1 L349,137.7 L351,137.2 L353,134.8 L355,135.6 L357,137.2 L359,135.3 L361,134.2 L363,136.1 L365,136.4 L367,135.1 L369,133.1 L371,131.2 L373,131.3 L375,131.4 L377,130.3 L379,130 L381,130.9 L383,131 L385,129.7 L387,128.2 L389,127.3 L391,126.6 L393,126.3 L395,127.2 L397,128.5 L399,129.4 L401,129.2 L403,128.7 L405,127.8 L407,124.8 L409,124.7 L411,127.4 L413,128.6 L415,127.6 L417,127.7 L419,130 L421,131 L423,128.3 L425,127.3 L427,130 L429,130.9 L431,128.9 L433,127.3 L435,124.7 L437,120.9 L439,118.2 L441,118 L443,120.2 L445,122.2 L447,122.7 L449,122.8 L451,123.2 L453,123.4 L455,122.5 L457,121.9 L459,122.5 L461,121.8 L463,121.2 L465,122.3 L467,122.9 L469,123 L471,122.8 L473,122.1 L475,121 L477,120.2 L479,121.6 L481,122.8 L483,121.8 L485,120 L487,118.3 L489,116.9 L491,116.2 L493,115 L495,113.8 L497,114 L499,112.5 L501,110.6 L503,113.1 L505,115.4 L507,113.9 L509,112 L511,111.1 L513,111.3 L515,111.2 L517,111.7 L519,112.4 L521,111.5 L523,110.3 L525,109 L527,109.5 L529,110.6 L531,110.1 L533,109.6 L535,110 L537,111.7 L539,111.2 L541,107.4 L543,106 L545,107.5 L547,107.9 L549,106.9 L551,107.3 L553,108.4 L555,106.7 L557,104.4 L559,103.3 L561,101.5 L563,100.3 L565,100.2 L567,101.3 L569,103.4 L571,104.7 L573,105.1 L575,105 L577,103.8 L579,103 L581,103.7 L583,105.9 L585,108.4 L587,108.5 L589,108.1 L591,108.7 L593,106.6 L595,103.8 L597,103.7 L599,105 L601,105.8 L603,106.8 L605,107.4 L607,106.6 L609,106.3 L611,107.6 L613,108.1 L615,106.1 L617,103.9 L619,105.2 L621,107 L623,105.7 L625,105.7 L627,107.2 L629,108.5 L631,107.5 L633,105.2 L635,106.5 L637,108.3 L639,108.1 L641,108.4 L643,107.4 L645,105.1 L647,105.7 L649,109.1 L651,109.8 L653,109.3 L655,109.6 L657,109.3 L659,108.7 L661,106.9 L663,105.1 L665,105.6 L667,105.6 L669,104.7 L671,105.4 L673,106 L675,105.8 L677,106.6 L679,106.8 L681,106.8 L683,107.6 L685,108.1 L687,107.7 L689,107.5 L691,109 L693,108.8 L695,107.1 L697,107.8 L699,107.4 L701,105.4 L703,105.5 L705,107.1 L707,108.2 L709,107.4 L711,107.7 L713,109.7 L715,110.5 L717,110.3 L719,109.7 L721,109 L723,108 L725,108.2 L727,109.1 L729,109.6 L731,109.6 L733,108.7 L735,108.6 L737,109 L739,108.5 L741,107.4 L743,106.7 L745,106.8 L747,108.4 L749,109.2 L751,108.3 L753,108.3 L755,110.2 L757,111.8 L759,112 L761,109.7 L763,107 L765,107.9 L767,109.6 L769,109.2 L771,108 L773,109.1 L775,109.9 L777,108 L779,107.1 L781,108 L783,109.9 L785,112.1 L787,114.1 L789,114.2 L791,113.6 L793,112.3 L795,109 L797,108.5 L799,110.6 L801,111.1 L803,110.9 L805,109.6 L807,109.6 L809,111.3 L811,111.6 L813,110.8 L815,110.7 L817,111.3 L819,111.3 L821,111.6 L823,113.1 L825,112.2 L827,109.9 L829,109.3 L831,108.7 L833,108.3 L835,108.5 L837,108.3 L839,108.2 L841,109.2 L843,110.1 L845,111 L847,111 L849,109.2 L851,108.1 L853,107.7 L855,107.7 L857,107.8 L859,108.1 L861,110 L863,110.2 L865,107.8 L867,105.9 L869,105 L871,106.9 L873,109.7 L875,109 L877,106.8 L879,104.8 L881,104.3 L883,106.2 L885,106.7 L887,105.9 L889,105.9 L891,105.7 L893,105.9 L895,106.3 L897,107.2 L899,107.5 L901,107.5 L903,107.9 L905,107.5 L907,107.3 L909,107.2 L911,106.6 L913,106.9 L915,109 L917,110.9 L919,109.8 L921,108.2 L923,108.3 L925,109 L927,108.6 L929,107.9 L931,109.3 L933,111.1 L935,112 L937,112.3 L939,112.8 L941,112.8 L943,111.9 L945,112.7 L947,113.3 L949,112.2 L951,110.7 L953,111.7 L955,112.6 L957,111.6 L959,113.4 L961,113.8 L963,111 L965,111 L967,112.3 L969,110.9 L971,109.9 L973,110.4 L975,111.3 L977,112.6 L979,111.8 L981,111.6 L983,112.9 L985,111 L987,110.1 L989,112.7 L991,114.1 L993,112.3 L995,110 L997,110.2 L999,110.5 L1001,110 L1003,109.9 L1005,108.8 L1007,107.5 L1009,108 L1011,110.1 L1013,111.7 L1015,112.5 L1017,112.9 L1019,111.7 L1021,109.6 L1023,111 L1025,115.5 L1027,118.2 L1029,116.4 L1031,112.1 L1033,111 L1035,113.5 L1037,115.6 L1039,115.4 L1041,114.2 L1043,113.7 L1045,113.2 L1047,113.8 L1049,113.5 L1051,112 L1053,113.3 L1055,114.3 L1057,113.9 L1059,114.9 L1061,114.9 L1063,112.5 L1065,110.3 L1067,111 L1069,111.6 L1071,111.5 L1073,113.9 L1075,116.3 L1077,116.2 L1079,116.1 L1081,116.4 L1081,140 L1079,139.9 L1077,140.4 L1075,142.1 L1073,141.1 L1071,137.8 L1069,137.7 L1067,138.6 L1065,139 L1063,139.8 L1061,141.1 L1059,140.2 L1057,139.2 L1055,140.8 L1053,140.3 L1051,138.9 L1049,139.5 L1047,140.1 L1045,140.3 L1043,139.7 L1041,139.3 L1039,139.1 L1037,139.9 L1035,140.6 L1033,139.1 L1031,138.9 L1029,140.4 L1027,140.9 L1025,140.1 L1023,138.3 L1021,136.9 L1019,137.1 L1017,138.8 L1015,139.6 L1013,138.4 L1011,135.5 L1009,134.5 L1007,136.1 L1005,137.2 L1003,137.7 L1001,137.6 L999,137.8 L997,137.6 L995,138.3 L993,141.2 L991,142.1 L989,140.2 L987,137.5 L985,136.5 L983,138 L981,138.2 L979,137.8 L977,139.1 L975,139.8 L973,138.7 L971,136.5 L969,136.3 L967,137.3 L965,136.8 L963,137 L961,138.6 L959,139.1 L957,139.2 L955,139.7 L953,138.2 L951,137.9 L949,140.1 L947,140.8 L945,140 L943,139.3 L941,139.3 L939,139.5 L937,138.8 L935,137.6 L933,138.2 L931,137.9 L929,134.7 L927,134.1 L925,135.9 L923,135.3 L921,134.6 L919,134.9 L917,133.8 L915,132.8 L913,133.7 L911,134.9 L909,135.9 L907,135.6 L905,133.3 L903,133.5 L901,134.2 L899,133.3 L897,133.3 L895,132.4 L893,131.4 L891,132.7 L889,133.8 L887,134.3 L885,135 L883,133.4 L881,131.1 L879,130.9 L877,132.6 L875,135.2 L873,135.9 L871,134.3 L869,134.4 L867,134.6 L865,134.4 L863,136.2 L861,136.7 L859,135.6 L857,134.9 L855,135.4 L853,136.5 L851,136.4 L849,136 L847,136 L845,135.7 L843,136.9 L841,137.2 L839,135.5 L837,136.4 L835,137.3 L833,136.5 L831,135.5 L829,134.9 L827,136.7 L825,140.1 L823,140.1 L821,138.5 L819,139.6 L817,140.1 L815,138.4 L813,136.8 L811,136.5 L809,137.3 L807,137.6 L805,136.8 L803,136.2 L801,135.9 L799,135.5 L797,134 L795,134.2 L793,136.1 L791,137.9 L789,139.5 L787,138.8 L785,138.7 L783,139.1 L781,137.4 L779,135.9 L777,135.5 L775,135.8 L773,134.6 L771,134 L769,135.3 L767,136.5 L765,136.6 L763,135.2 L761,136.6 L759,139.2 L757,138.9 L755,136.7 L753,134.7 L751,134.9 L749,136.5 L747,137.1 L745,137.5 L743,138.3 L741,138.1 L739,138.7 L737,139.8 L735,138.3 L733,136.5 L731,136.3 L729,136.7 L727,137.4 L725,136.6 L723,135.2 L721,136.1 L719,137 L717,137.2 L715,137.5 L713,136.3 L711,134.1 L709,134.6 L707,135.8 L705,134.1 L703,132.3 L701,133 L699,135.7 L697,136.3 L695,135.4 L693,137 L691,137.8 L689,137.2 L687,136.6 L685,135.3 L683,136 L681,136.7 L679,135 L677,133.2 L675,132.6 L673,133.7 L671,134.3 L669,133.5 L667,133.1 L665,133.1 L663,134 L661,136.2 L659,138.3 L657,138 L655,137.4 L653,137.7 L651,136.6 L649,134.2 L647,133.2 L645,133.6 L643,135.1 L641,135.7 L639,134.5 L637,134.7 L635,134.2 L633,134.5 L631,135.8 L629,135.4 L627,136.1 L625,135.8 L623,135.1 L621,135.5 L619,133.3 L617,131.9 L615,133.2 L613,135.8 L611,136 L609,133.6 L607,133.3 L605,133.7 L603,132.9 L601,131.7 L599,131.6 L597,133 L595,133.3 L593,133.2 L591,134.4 L589,135.6 L587,136.9 L585,136.7 L583,134.1 L581,132.8 L579,133 L577,133 L575,133.8 L573,133.6 L571,132.3 L569,129.7 L567,127.3 L565,127.5 L563,128.2 L561,128.3 L559,130.6 L557,132.4 L555,132.4 L553,132.9 L551,132.9 L549,133.4 L547,135.4 L545,135.3 L543,133.5 L541,135 L539,138.5 L537,139.4 L535,138.8 L533,137.2 L531,135.5 L529,135.9 L527,134.9 L525,133.8 L523,134.7 L521,136.7 L519,138.8 L517,138.5 L515,138.8 L513,139.9 L511,138.7 L509,138.2 L507,140.1 L505,142.4 L503,141.1 L501,138.9 L499,139.5 L497,140.8 L495,141.7 L493,142.9 L491,144.4 L489,145.8 L487,145 L485,144.5 L483,146.4 L481,147.1 L479,146.1 L477,146 L475,148 L473,149.2 L471,147.7 L469,146.6 L467,147.6 L465,148.9 L463,147.9 L461,147.2 L459,148.1 L457,147.5 L455,146.8 L453,147.5 L451,148.4 L449,148.4 L447,148.1 L445,147.5 L443,144.8 L441,141.5 L439,141.3 L437,143.7 L435,147.3 L433,150.2 L431,151.9 L429,154.1 L427,154 L425,152.4 L423,152.7 L421,154.9 L419,155.3 L417,152.9 L415,151.8 L413,151.9 L411,150.1 L409,149.1 L407,150 L405,150.8 L403,150.1 L401,150.8 L399,152.1 L397,151.4 L395,149.7 L393,150.2 L391,152.1 L389,152.3 L387,153 L385,156.1 L383,156.7 L381,155.7 L379,156.9 L377,158.4 L375,157.4 L373,154.6 L371,154.7 L369,157.7 L367,159.7 L365,161.9 L363,162.4 L361,160.5 L359,160.2 L357,160.2 L355,159.6 L353,160.1 L351,161.8 L349,161.9 L347,160.2 L345,160.1 L343,161.4 L341,162.2 L339,163 L337,162.2 L335,160.3 L333,160.5 L331,161.3 L329,161.5 L327,162.8 L325,163.2 L323,162.9 L321,163.1 L319,164.6 L317,166.7 L315,167.1 L313,167.6 L311,168.2 L309,167.2 L307,167.4 L305,167 L303,164.5 L301,165.3 L299,166.7 L297,167.1 L295,169.6 L293,171.6 L291,169.8 L289,168.5 L287,169.4 L285,170.9 L283,172.1 L281,172.5 L279,173.8 L277,174.7 L275,174.5 L273,173.2 L271,172.7 L269,174.4 L267,174.4 L265,173 L263,171.5 L261,173.1 L259,178.2 L257,179.8 L255,177.8 L253,177.5 L251,178.4 L249,179.3 L247,179.1 L245,178.1 L243,179.9 L241,182.6 L239,183.6 L237,183.6 L235,182.9 L233,184 L231,187.2 L229,188.5 L227,188.3 L225,188.5 L223,189 L221,190.2 L219,189.9 L217,189.9 L215,191.8 L213,194 L211,197.1 L209,200.2 L207,201.7 L205,200.4 L203,197.5 L201,197.8 L199,199.9 L197,200.9 L195,202.1 L193,204.1 L191,205.5 L189,205.6 L187,204.3 L185,202.5 L183,202.9 L181,203.5 L179,203.2 L177,203.3 L175,202.3 L173,202.4 L171,203.2 L169,202.5 L167,202.4 L165,204.4 L163,206.6 L161,211.1 L159,213.1 L157,212.8 L155,214.7 L153,218.5 L151,223.2 L149,226.8 L147,227.6 L145,228.9 L143,232.4 L141,236.4 L139,241.2 L137,245.3 L135,246.6 L133,247.1 Z" fill="#2aa6b4" fill-opacity="0.75" clip-path="url(#osmanClip)"/>
<path d="M133,206 L135,205.1 L137,202.8 L139,197.9 L141,194.3 L143,192.2 L145,190.1 L147,189.5 L149,188.6 L151,185.2 L153,180.9 L155,177.1 L157,174.7 L159,173.9 L161,171.8 L163,169 L165,168.4 L167,166.9 L169,166.2 L171,165.6 L173,164.3 L175,164.8 L177,166.3 L179,164.8 L181,165.3 L183,167.8 L185,168.1 L187,169.3 L189,172.6 L191,172.7 L193,170 L195,168.3 L197,167.6 L199,167.6 L201,166.7 L203,166.3 L205,167.9 L207,167.4 L209,166.3 L211,165.8 L213,163.2 L215,161.5 L217,161 L219,160.8 L221,160.7 L223,160.7 L225,162.1 L227,163.4 L229,163.7 L231,161 L233,156.5 L235,156.5 L237,158.9 L239,158.6 L241,156.6 L243,153.9 L245,152.8 L247,154.8 L249,155.4 L251,151.8 L253,149.4 L255,151.4 L257,153.1 L259,151 L261,147.5 L263,146.1 L265,146.2 L267,147 L269,147.5 L271,146.9 L273,147 L275,146.7 L277,145.5 L279,145.6 L281,146 L283,145.4 L285,143.6 L287,142.6 L289,141.6 L291,142 L293,144.8 L295,144.8 L297,143 L299,141.7 L301,139.4 L303,139.1 L305,141 L307,140.8 L309,142.7 L311,144.6 L313,141.8 L315,141 L317,142.5 L319,140.5 L321,137.3 L323,135.1 L325,135.4 L327,138.1 L329,139.5 L331,138.9 L333,136.1 L335,135.3 L337,137.2 L339,138.3 L341,138.8 L343,137.8 L345,134.9 L347,135.1 L349,137.7 L351,137.2 L353,134.8 L355,135.6 L357,137.2 L359,135.3 L361,134.2 L363,136.1 L365,136.4 L367,135.1 L369,133.1 L371,131.2 L373,131.3 L375,131.4 L377,130.3 L379,130 L381,130.9 L383,131 L385,129.7 L387,128.2 L389,127.3 L391,126.6 L393,126.3 L395,127.2 L397,128.5 L399,129.4 L401,129.2 L403,128.7 L405,127.8 L407,124.8 L409,124.7 L411,127.4 L413,128.6 L415,127.6 L417,127.7 L419,130 L421,131 L423,128.3 L425,127.3 L427,130 L429,130.9 L431,128.9 L433,127.3 L435,124.7 L437,120.9 L439,118.2 L441,118 L443,120.2 L445,122.2 L447,122.7 L449,122.8 L451,123.2 L453,123.4 L455,122.5 L457,121.9 L459,122.5 L461,121.8 L463,121.2 L465,122.3 L467,122.9 L469,123 L471,122.8 L473,122.1 L475,121 L477,120.2 L479,121.6 L481,122.8 L483,121.8 L485,120 L487,118.3 L489,116.9 L491,116.2 L493,115 L495,113.8 L497,114 L499,112.5 L501,110.6 L503,113.1 L505,115.4 L507,113.9 L509,112 L511,111.1 L513,111.3 L515,111.2 L517,111.7 L519,112.4 L521,111.5 L523,110.3 L525,109 L527,109.5 L529,110.6 L531,110.1 L533,109.6 L535,110 L537,111.7 L539,111.2 L541,107.4 L543,106 L545,107.5 L547,107.9 L549,106.9 L551,107.3 L553,108.4 L555,106.7 L557,104.4 L559,103.3 L561,101.5 L563,100.3 L565,100.2 L567,101.3 L569,103.4 L571,104.7 L573,105.1 L575,105 L577,103.8 L579,103 L581,103.7 L583,105.9 L585,108.4 L587,108.5 L589,108.1 L591,108.7 L593,106.6 L595,103.8 L597,103.7 L599,105 L601,105.8 L603,106.8 L605,107.4 L607,106.6 L609,106.3 L611,107.6 L613,108.1 L615,106.1 L617,103.9 L619,105.2 L621,107 L623,105.7 L625,105.7 L627,107.2 L629,108.5 L631,107.5 L633,105.2 L635,106.5 L637,108.3 L639,108.1 L641,108.4 L643,107.4 L645,105.1 L647,105.7 L649,109.1 L651,109.8 L653,109.3 L655,109.6 L657,109.3 L659,108.7 L661,106.9 L663,105.1 L665,105.6 L667,105.6 L669,104.7 L671,105.4 L673,106 L675,105.8 L677,106.6 L679,106.8 L681,106.8 L683,107.6 L685,108.1 L687,107.7 L689,107.5 L691,109 L693,108.8 L695,107.1 L697,107.8 L699,107.4 L701,105.4 L703,105.5 L705,107.1 L707,108.2 L709,107.4 L711,107.7 L713,109.7 L715,110.5 L717,110.3 L719,109.7 L721,109 L723,108 L725,108.2 L727,109.1 L729,109.6 L731,109.6 L733,108.7 L735,108.6 L737,109 L739,108.5 L741,107.4 L743,106.7 L745,106.8 L747,108.4 L749,109.2 L751,108.3 L753,108.3 L755,110.2 L757,111.8 L759,112 L761,109.7 L763,107 L765,107.9 L767,109.6 L769,109.2 L771,108 L773,109.1 L775,109.9 L777,108 L779,107.1 L781,108 L783,109.9 L785,112.1 L787,114.1 L789,114.2 L791,113.6 L793,112.3 L795,109 L797,108.5 L799,110.6 L801,111.1 L803,110.9 L805,109.6 L807,109.6 L809,111.3 L811,111.6 L813,110.8 L815,110.7 L817,111.3 L819,111.3 L821,111.6 L823,113.1 L825,112.2 L827,109.9 L829,109.3 L831,108.7 L833,108.3 L835,108.5 L837,108.3 L839,108.2 L841,109.2 L843,110.1 L845,111 L847,111 L849,109.2 L851,108.1 L853,107.7 L855,107.7 L857,107.8 L859,108.1 L861,110 L863,110.2 L865,107.8 L867,105.9 L869,105 L871,106.9 L873,109.7 L875,109 L877,106.8 L879,104.8 L881,104.3 L883,106.2 L885,106.7 L887,105.9 L889,105.9 L891,105.7 L893,105.9 L895,106.3 L897,107.2 L899,107.5 L901,107.5 L903,107.9 L905,107.5 L907,107.3 L909,107.2 L911,106.6 L913,106.9 L915,109 L917,110.9 L919,109.8 L921,108.2 L923,108.3 L925,109 L927,108.6 L929,107.9 L931,109.3 L933,111.1 L935,112 L937,112.3 L939,112.8 L941,112.8 L943,111.9 L945,112.7 L947,113.3 L949,112.2 L951,110.7 L953,111.7 L955,112.6 L957,111.6 L959,113.4 L961,113.8 L963,111 L965,111 L967,112.3 L969,110.9 L971,109.9 L973,110.4 L975,111.3 L977,112.6 L979,111.8 L981,111.6 L983,112.9 L985,111 L987,110.1 L989,112.7 L991,114.1 L993,112.3 L995,110 L997,110.2 L999,110.5 L1001,110 L1003,109.9 L1005,108.8 L1007,107.5 L1009,108 L1011,110.1 L1013,111.7 L1015,112.5 L1017,112.9 L1019,111.7 L1021,109.6 L1023,111 L1025,115.5 L1027,118.2 L1029,116.4 L1031,112.1 L1033,111 L1035,113.5 L1037,115.6 L1039,115.4 L1041,114.2 L1043,113.7 L1045,113.2 L1047,113.8 L1049,113.5 L1051,112 L1053,113.3 L1055,114.3 L1057,113.9 L1059,114.9 L1061,114.9 L1063,112.5 L1065,110.3 L1067,111 L1069,111.6 L1071,111.5 L1073,113.9 L1075,116.3 L1077,116.2 L1079,116.1 L1081,116.4 L1081,140 L1079,139.9 L1077,140.4 L1075,142.1 L1073,141.1 L1071,137.8 L1069,137.7 L1067,138.6 L1065,139 L1063,139.8 L1061,141.1 L1059,140.2 L1057,139.2 L1055,140.8 L1053,140.3 L1051,138.9 L1049,139.5 L1047,140.1 L1045,140.3 L1043,139.7 L1041,139.3 L1039,139.1 L1037,139.9 L1035,140.6 L1033,139.1 L1031,138.9 L1029,140.4 L1027,140.9 L1025,140.1 L1023,138.3 L1021,136.9 L1019,137.1 L1017,138.8 L1015,139.6 L1013,138.4 L1011,135.5 L1009,134.5 L1007,136.1 L1005,137.2 L1003,137.7 L1001,137.6 L999,137.8 L997,137.6 L995,138.3 L993,141.2 L991,142.1 L989,140.2 L987,137.5 L985,136.5 L983,138 L981,138.2 L979,137.8 L977,139.1 L975,139.8 L973,138.7 L971,136.5 L969,136.3 L967,137.3 L965,136.8 L963,137 L961,138.6 L959,139.1 L957,139.2 L955,139.7 L953,138.2 L951,137.9 L949,140.1 L947,140.8 L945,140 L943,139.3 L941,139.3 L939,139.5 L937,138.8 L935,137.6 L933,138.2 L931,137.9 L929,134.7 L927,134.1 L925,135.9 L923,135.3 L921,134.6 L919,134.9 L917,133.8 L915,132.8 L913,133.7 L911,134.9 L909,135.9 L907,135.6 L905,133.3 L903,133.5 L901,134.2 L899,133.3 L897,133.3 L895,132.4 L893,131.4 L891,132.7 L889,133.8 L887,134.3 L885,135 L883,133.4 L881,131.1 L879,130.9 L877,132.6 L875,135.2 L873,135.9 L871,134.3 L869,134.4 L867,134.6 L865,134.4 L863,136.2 L861,136.7 L859,135.6 L857,134.9 L855,135.4 L853,136.5 L851,136.4 L849,136 L847,136 L845,135.7 L843,136.9 L841,137.2 L839,135.5 L837,136.4 L835,137.3 L833,136.5 L831,135.5 L829,134.9 L827,136.7 L825,140.1 L823,140.1 L821,138.5 L819,139.6 L817,140.1 L815,138.4 L813,136.8 L811,136.5 L809,137.3 L807,137.6 L805,136.8 L803,136.2 L801,135.9 L799,135.5 L797,134 L795,134.2 L793,136.1 L791,137.9 L789,139.5 L787,138.8 L785,138.7 L783,139.1 L781,137.4 L779,135.9 L777,135.5 L775,135.8 L773,134.6 L771,134 L769,135.3 L767,136.5 L765,136.6 L763,135.2 L761,136.6 L759,139.2 L757,138.9 L755,136.7 L753,134.7 L751,134.9 L749,136.5 L747,137.1 L745,137.5 L743,138.3 L741,138.1 L739,138.7 L737,139.8 L735,138.3 L733,136.5 L731,136.3 L729,136.7 L727,137.4 L725,136.6 L723,135.2 L721,136.1 L719,137 L717,137.2 L715,137.5 L713,136.3 L711,134.1 L709,134.6 L707,135.8 L705,134.1 L703,132.3 L701,133 L699,135.7 L697,136.3 L695,135.4 L693,137 L691,137.8 L689,137.2 L687,136.6 L685,135.3 L683,136 L681,136.7 L679,135 L677,133.2 L675,132.6 L673,133.7 L671,134.3 L669,133.5 L667,133.1 L665,133.1 L663,134 L661,136.2 L659,138.3 L657,138 L655,137.4 L653,137.7 L651,136.6 L649,134.2 L647,133.2 L645,133.6 L643,135.1 L641,135.7 L639,134.5 L637,134.7 L635,134.2 L633,134.5 L631,135.8 L629,135.4 L627,136.1 L625,135.8 L623,135.1 L621,135.5 L619,133.3 L617,131.9 L615,133.2 L613,135.8 L611,136 L609,133.6 L607,133.3 L605,133.7 L603,132.9 L601,131.7 L599,131.6 L597,133 L595,133.3 L593,133.2 L591,134.4 L589,135.6 L587,136.9 L585,136.7 L583,134.1 L581,132.8 L579,133 L577,133 L575,133.8 L573,133.6 L571,132.3 L569,129.7 L567,127.3 L565,127.5 L563,128.2 L561,128.3 L559,130.6 L557,132.4 L555,132.4 L553,132.9 L551,132.9 L549,133.4 L547,135.4 L545,135.3 L543,133.5 L541,135 L539,138.5 L537,139.4 L535,138.8 L533,137.2 L531,135.5 L529,135.9 L527,134.9 L525,133.8 L523,134.7 L521,136.7 L519,138.8 L517,138.5 L515,138.8 L513,139.9 L511,138.7 L509,138.2 L507,140.1 L505,142.4 L503,141.1 L501,138.9 L499,139.5 L497,140.8 L495,141.7 L493,142.9 L491,144.4 L489,145.8 L487,145 L485,144.5 L483,146.4 L481,147.1 L479,146.1 L477,146 L475,148 L473,149.2 L471,147.7 L469,146.6 L467,147.6 L465,148.9 L463,147.9 L461,147.2 L459,148.1 L457,147.5 L455,146.8 L453,147.5 L451,148.4 L449,148.4 L447,148.1 L445,147.5 L443,144.8 L441,141.5 L439,141.3 L437,143.7 L435,147.3 L433,150.2 L431,151.9 L429,154.1 L427,154 L425,152.4 L423,152.7 L421,154.9 L419,155.3 L417,152.9 L415,151.8 L413,151.9 L411,150.1 L409,149.1 L407,150 L405,150.8 L403,150.1 L401,150.8 L399,152.1 L397,151.4 L395,149.7 L393,150.2 L391,152.1 L389,152.3 L387,153 L385,156.1 L383,156.7 L381,155.7 L379,156.9 L377,158.4 L375,157.4 L373,154.6 L371,154.7 L369,157.7 L367,159.7 L365,161.9 L363,162.4 L361,160.5 L359,160.2 L357,160.2 L355,159.6 L353,160.1 L351,161.8 L349,161.9 L347,160.2 L345,160.1 L343,161.4 L341,162.2 L339,163 L337,162.2 L335,160.3 L333,160.5 L331,161.3 L329,161.5 L327,162.8 L325,163.2 L323,162.9 L321,163.1 L319,164.6 L317,166.7 L315,167.1 L313,167.6 L311,168.2 L309,167.2 L307,167.4 L305,167 L303,164.5 L301,165.3 L299,166.7 L297,167.1 L295,169.6 L293,171.6 L291,169.8 L289,168.5 L287,169.4 L285,170.9 L283,172.1 L281,172.5 L279,173.8 L277,174.7 L275,174.5 L273,173.2 L271,172.7 L269,174.4 L267,174.4 L265,173 L263,171.5 L261,173.1 L259,178.2 L257,179.8 L255,177.8 L253,177.5 L251,178.4 L249,179.3 L247,179.1 L245,178.1 L243,179.9 L241,182.6 L239,183.6 L237,183.6 L235,182.9 L233,184 L231,187.2 L229,188.5 L227,188.3 L225,188.5 L223,189 L221,190.2 L219,189.9 L217,189.9 L215,191.8 L213,194 L211,197.1 L209,200.2 L207,201.7 L205,200.4 L203,197.5 L201,197.8 L199,199.9 L197,200.9 L195,202.1 L193,204.1 L191,205.5 L189,205.6 L187,204.3 L185,202.5 L183,202.9 L181,203.5 L179,203.2 L177,203.3 L175,202.3 L173,202.4 L171,203.2 L169,202.5 L167,202.4 L165,204.4 L163,206.6 L161,211.1 L159,213.1 L157,212.8 L155,214.7 L153,218.5 L151,223.2 L149,226.8 L147,227.6 L145,228.9 L143,232.4 L141,236.4 L139,241.2 L137,245.3 L135,246.6 L133,247.1 Z" fill="none" stroke="#008080" stroke-width="0.8"/>
<path d="M133,226.9 L135,225.3 L137,223.3 L139,219.9 L141,216.8 L143,213.8 L145,210.5 L147,208.6 L149,207.3 L151,204.2 L153,199.9 L155,196.4 L157,194.7 L159,194.1 L161,191.2 L163,187.8 L165,187.3 L167,185.7 L169,185 L171,184 L173,182.6 L175,182.7 L177,183.9 L179,183.8 L181,184 L183,184.6 L185,185.1 L187,186.7 L189,188 L191,188 L193,187.1 L195,186 L197,185.3 L199,184.5 L201,183 L203,182.6 L205,184 L207,184.3 L209,182.8 L211,180.6 L213,178.2 L215,176.6 L217,175.6 L219,175.5 L221,176.2 L223,176.2 L225,175.6 L227,175.1 L229,175.4 L231,173.8 L233,170.4 L235,170.2 L237,171.5 L239,171.4 L241,170.8 L243,168.4 L245,166.6 L247,167.5 L249,167.5 L251,165 L253,163.2 L255,164.2 L257,165.8 L259,164.4 L261,161.3 L263,159.8 L265,159.2 L267,159.9 L269,161.1 L271,160.7 L273,160.5 L275,160.1 L277,159.8 L279,159.9 L281,159.5 L283,158.8 L285,157.6 L287,156.6 L289,155.7 L291,156 L293,157.4 L295,156.4 L297,154.6 L299,153.8 L301,152 L303,151.4 L305,154.1 L307,154.3 L309,154.7 L311,156.7 L313,155.8 L315,154.8 L317,155.1 L319,153.7 L321,151.7 L323,150.2 L325,150 L327,150.5 L329,150.1 L331,149.6 L333,148.8 L335,149.6 L337,150.7 L339,150.1 L341,150.1 L343,150.1 L345,148.1 L347,148.2 L349,150.2 L351,149.9 L353,147.4 L355,146.8 L357,148.6 L359,148.7 L361,147.4 L363,148.3 L365,148.6 L367,146.9 L369,144.9 L371,143 L373,143.5 L375,144.9 L377,144.3 L379,143.4 L381,143.1 L383,143.4 L385,142.6 L387,140.4 L389,139.9 L391,140.1 L393,138.8 L395,138.5 L397,140.1 L399,141 L401,139.8 L403,139 L405,139.1 L407,137.2 L409,136.6 L411,138.4 L413,139.7 L415,139.7 L417,140.7 L419,142.9 L421,143 L423,141 L425,140.8 L427,142.1 L429,141.6 L431,139.5 L433,137.7 L435,135.4 L437,132.3 L439,130 L441,131 L443,134.2 L445,136 L447,135.4 L449,134.1 L451,134.6 L453,135.5 L455,135.3 L457,135.4 L459,135.3 L461,134 L463,134.3 L465,136 L467,136.5 L469,136.1 L471,135.8 L473,136.2 L475,135.7 L477,133.9 L479,133.8 L481,134.4 L483,133.3 L485,131.7 L487,131.7 L489,131.4 L491,130 L493,128.6 L495,127.6 L497,127.2 L499,126.1 L501,124.9 L503,126.4 L505,128.2 L507,128 L509,126.5 L511,125.5 L513,125.7 L515,125.4 L517,125.2 L519,124.8 L521,123.9 L523,123.5 L525,123 L527,123.3 L529,123.2 L531,122.7 L533,123.3 L535,123.3 L537,123.7 L539,123.6 L541,121.1 L543,119.4 L545,120.4 L547,121.1 L549,119.8 L551,119.5 L553,120.4 L555,119.2 L557,117.7 L559,116.7 L561,115 L563,114.1 L565,114.3 L567,115.7 L569,118.4 L571,120.1 L573,120.1 L575,119.4 L577,118.8 L579,118 L581,117.6 L583,119.3 L585,121.2 L587,121.6 L589,121.7 L591,121.2 L593,119.2 L595,118.2 L597,118.7 L599,118.6 L601,118.5 L603,119.6 L605,120.5 L607,120.2 L609,120.4 L611,122.2 L613,122.8 L615,120.7 L617,118.5 L619,119.2 L621,120.7 L623,120.6 L625,121.3 L627,121.6 L629,121.4 L631,121.4 L633,119.8 L635,119.6 L637,120.2 L639,120.8 L641,121.9 L643,121.2 L645,119.8 L647,120.4 L649,122 L651,122.7 L653,123 L655,123.6 L657,124.3 L659,124.5 L661,122.9 L663,121.1 L665,120.6 L667,119.6 L669,119.2 L671,120.9 L673,121.5 L675,120.1 L677,119.5 L679,120.5 L681,121.4 L683,121.5 L685,121.6 L687,121.6 L689,121.1 L691,122 L693,121.6 L695,120.3 L697,121.3 L699,120.9 L701,119.1 L703,119.6 L705,121.3 L707,121.8 L709,120.9 L711,121.2 L713,122.6 L715,123.2 L717,122.9 L719,121.9 L721,121 L723,120.8 L725,122.1 L727,123.1 L729,122.9 L731,122.1 L733,121.7 L735,123.5 L737,125 L739,124.5 L741,123.5 L743,122.9 L745,122.8 L747,124.1 L749,124.1 L751,121.9 L753,120.8 L755,121.8 L757,123.2 L759,123.8 L761,122.4 L763,121.8 L765,122.4 L767,122.6 L769,122.8 L771,122.2 L773,122.5 L775,123.3 L777,121.9 L779,121.5 L781,123.3 L783,124.9 L785,125.5 L787,125.6 L789,125.5 L791,125.3 L793,124.6 L795,122.7 L797,122.3 L799,123.2 L801,123.7 L803,124.6 L805,124.8 L807,124.7 L809,125.1 L811,124.1 L813,122.9 L815,123.4 L817,125.2 L819,124.9 L821,123.7 L823,124.8 L825,125.5 L827,124.2 L829,122.9 L831,122.2 L833,122.6 L835,123.2 L837,122.4 L839,122.2 L841,123.6 L843,123.4 L845,122.9 L847,123.6 L849,123.3 L851,122.8 L853,122.1 L855,121 L857,121.1 L859,122.3 L861,123.8 L863,123.3 L865,121.1 L867,119.9 L869,119.5 L871,120.4 L873,122.3 L875,122.3 L877,120.5 L879,118.9 L881,118.9 L883,120.8 L885,121.4 L887,120.5 L889,120.2 L891,119.1 L893,118.6 L895,120 L897,121.1 L899,120.9 L901,121 L903,121.2 L905,121.1 L907,121.5 L909,121.3 L911,121.3 L913,121.1 L915,121.2 L917,122.2 L919,122.5 L921,122.4 L923,122.7 L925,122.6 L927,121.7 L929,122 L931,123.7 L933,124.3 L935,124.6 L937,125.2 L939,125.5 L941,124.9 L943,124.1 L945,125 L947,126.4 L949,125.9 L951,124.1 L953,124.3 L955,125.2 L957,125.3 L959,126.7 L961,126.4 L963,123.7 L965,123.6 L967,124.7 L969,123.7 L971,123.6 L973,125.1 L975,125.6 L977,125 L979,123.8 L981,124.1 L983,124.4 L985,122.9 L987,123.2 L989,125.6 L991,127.4 L993,126.5 L995,124.3 L997,124.6 L999,125.7 L1001,125.6 L1003,125 L1005,123.5 L1007,122.4 L1009,122.3 L1011,123.1 L1013,124.8 L1015,125.7 L1017,125.2 L1019,124 L1021,123.5 L1023,124.8 L1025,127.4 L1027,129.1 L1029,127.7 L1031,124.8 L1033,124.8 L1035,127.1 L1037,127.6 L1039,127.1 L1041,126.4 L1043,126.2 L1045,126.5 L1047,126.6 L1049,126 L1051,125.4 L1053,127.1 L1055,127.6 L1057,126 L1059,126.3 L1061,127.2 L1063,126.2 L1065,124.8 L1067,124.9 L1069,125.2 L1071,125.6 L1073,127.7 L1075,128.7 L1077,128.5 L1079,128.4 L1081,127.9" fill="none" stroke="#008080" stroke-width="2.1" stroke-linejoin="round"/>
<path d="M133,365 L136,359.4 L139,353.9 L142,348.2 L145,342.5 L148,336.8 L151,331.1 L154,325.4 L157,319.7 L160,314 L163,307.2 L166,300.5 L169,294.5 L172,290 L175,285.5 L178,281 L181,276.8 L184,272.6 L187,268.4 L190,265.2 L193,262.4 L196,259.7 L199,256.9 L202,254.6 L205,252.5 L208,250.5 L211,248.4 L214,246.6 L217,244.9 L220,243.3 L223,241.6 L226,240.2 L229,239.1 L232,238.1 L235,237 L238,236 L241,236.3 L244,236.5 L247,236.8 L250,237.1 L253,237.3 L256,237.2 L259,236.3 L262,235.4 L265,234.5 L268,233.6 L271,232.3 L274,230.1 L277,227.9 L280,225.8 L283,223.6 L286,221.4 L289,219.6 L292,218.4 L295,217.1 L298,215.9 L301,214.6 L304,213.4 L307,212.3 L310,211.3 L313,210.3 L316,209.3 L319,208.3 L322,206.8 L325,204.9 L328,203.1 L331,201.2 L334,199.1 L337,196.3 L340,193.6 L343,190.8 L346,188 L349,185.3 L352,182.5 L355,182.5 L358,182.5 L361,182.5 L364,182.5 L367,182.5 L370,182.5 L373,182 L376,181.5 L379,181 L382,180.5 L385,180 L388,177.7 L391,175.4 L394,173.1 L397,170.8 L400,168.5 L403,168.6 L406,168.7 L409,168.8 L412,168.9 L415,168.9 L418,168.7 L421,167.9 L424,167.1 L427,166.3 L430,165.5 L433,165 L436,165 L439,165 L442,165 L445,165 L448,165 L451,165.2 L454,166 L457,166.7 L460,167.5 L463,168.2 L466,168.6 L469,168.2 L472,167.9 L475,167.5 L478,167.2 L481,166.8 L484,166.5 L487,166.1 L490,165.8 L493,165.5 L496,165.1 L499,164.2 L502,162.9 L505,161.7 L508,160.4 L511,159.2 L514,157.9 L517,157.3 L520,157.1 L523,156.8 L526,156.5 L529,156.3 L532,155.4 L535,154.3 L538,153.2 L541,152.1 L544,150.9 L547,149.8 L550,148.7 L553,147.8 L556,146.8 L559,145.9 L562,145 L565,145 L568,145 L571,145 L574,145 L577,145 L580,145 L583,145 L586,145 L589,145 L592,145.2 L595,145.4 L598,145.7 L601,145.9 L604,146.2 L607,146.4 L610,146.7 L613,146.9 L616,147.2 L619,147.4 L622,147.7 L625,148 L628,148.4 L631,148.7 L634,149 L637,149.3 L640,149.7 L643,150 L646,149.2 L649,148.3 L652,147.5 L655,146.6 L658,145.8 L661,144.9 L664,144.1 L667,143.2 L670,142.4 L673,141.6 L676,141.1 L679,141.4 L682,141.6 L685,141.9 L688,142.2 L691,142.4 L694,142.7 L697,143 L700,143.2 L703,143.5 L706,143.8 L709,144 L712,144.3 L715,144.6 L718,144.8 L721,145.1 L724,145.5 L727,145.9 L730,146.2 L733,146.6 L736,147 L739,147.4 L742,147.8 L745,148.1 L748,148.5 L751,148.9 L754,149.2 L757,149.6 L760,150 L763,150.5 L766,151 L769,151.5 L772,152 L775,152.5 L778,152.6 L781,152.7 L784,152.8 L787,152.9 L790,153 L793,152.6 L796,152.3 L799,151.9 L802,151.6 L805,151.2 L808,150.8 L811,150.5 L814,150.1 L817,150.1 L820,150.3 L823,150.5 L826,150.7 L829,150.9 L832,150.7 L835,150.3 L838,149.9 L841,149.5 L844,149.1 L847,148.5 L850,147.7 L853,146.9 L856,146.1 L859,145.3 L862,144.5 L865,143.8 L868,143 L871,142.2 L874,141.5 L877,140.8 L880,140 L883,139.8 L886,139.6 L889,139.3 L892,139.1 L895,138.9 L898,138.7 L901,138.4 L904,138.3 L907,138.2 L910,138 L913,137.8 L916,137.7 L919,137.6 L922,137.5 L925,137.5 L928,137.5 L931,137.5 L934,137.5 L937,137.5 L940,137.5 L943,137.1 L946,136.8 L949,136.4 L952,136 L955,135.6 L958,135.2 L961,134.7 L964,133.7 L967,132.7 L970,131.7 L973,130.7 L976,129.9 L979,129.7 L982,129.6 L985,129.4 L988,129.2 L991,129 L994,128.8 L997,128.6 L1000,128.4 L1003,128 L1006,127.7 L1009,127.3 L1012,127 L1015,126.6 L1018,127.3 L1021,128 L1024,128.6 L1027,129.3 L1030,130 L1033,131.5 L1036,133 L1039,134.5 L1042,135.2 L1045,135.6 L1048,135.9 L1051,136.2 L1054,136.6 L1057,136.5 L1060,136.2 L1063,136 L1066,135.1 L1069,133.1 L1072,131 L1075,129.5 L1078,128.1 L1081,126.6" fill="none" stroke="#1f77b4" stroke-width="2.1"/>
<path d="M133,170 L136,167.8 L139,165.6 L142,163.4 L145,161.2 L148,159 L151,156.8 L154,154.6 L157,152.4 L160,150.2 L163,148 L166,145.9 L169,143.8 L172,141.7 L175,139.6 L178,137.5 L181,135.4 L184,133.3 L187,131.2 L190,129.1 L193,127 L196,125.4 L199,123.8 L202,122.1 L205,120.5 L208,118.9 L211,117.3 L214,115.6 L217,114 L220,112.4 L223,110.8 L226,109.2 L229,107.5 L232,106.1 L235,104.8 L238,103.5 L241,102.2 L244,100.8 L247,99.5 L250,98.2 L253,96.9 L256,95.6 L259,94.3 L262,92.9 L265,91.8 L268,90.8 L271,89.8 L274,88.8 L277,87.8 L280,86.8 L283,85.7 L286,84.7 L289,83.7 L292,82.7 L295,81.7 L298,80.7 L301,79.7 L304,79 L307,78.2 L310,77.4 L313,76.6 L316,75.8 L319,75.1 L322,74.3 L325,73.5 L328,73 L331,72.4 L334,71.9 L337,71.3 L340,70.8 L343,70.3 L346,69.7 L349,69.2 L352,68.7 L355,68.3 L358,67.9 L361,67.5 L364,67 L367,66.6 L370,66.2 L373,65.8 L376,65.3 L379,64.6 L382,64 L385,63.3 L388,62.6 L391,62 L394,61.3 L397,60.7 L400,60 L403,59.1 L406,58.2 L409,57.3 L412,56.4 L415,55.5 L418,54.6 L421,53.7 L424,52.8 L427,51.7 L430,50.5 L433,49.3 L436,48.1 L439,46.9 L442,45.7 L445,44.5 L448,43.3 L451,41.9 L454,40.1 L457,38.3 L460,36.5 L463,34.7 L466,32.9 L469,31.1 L472,29.3 L475,27.5 L478,26 L481,24.5 L484,23 L487,21.5 L490,20 L493,18.5 L496,17 L499,15.5 L502,14.6 L505,13.9 L508,13.2 L511,12.5 L514,11.8 L517,11.2 L520,10.5 L523,10.1 L526,9.7 L529,9.3 L532,8.9 L535,8.6 L538,8.2 L541,7.9 L544,7.7 L547,6.8 L550,4.6 L553,2.5 L556,2.3 L559,2.8 L562,3.7 L565,4.6 L568,5.5 L571,5.3 L574,3.8 L577,2.2 L580,2.2 L583,3.2 L586,4.2 L589,4.3 L592,4.4 L595,5.2 L598,7.4 L601,9.6 L604,11.8 L607,13.2 L610,14.2 L613,14 L616,13.3 L619,13.1 L622,13 L625,12.8 L628,12.6 L631,13.3 L634,15.6 L637,17.9 L640,20.2 L643,22.5 L646,24.1 L649,24.3 L652,24.5 L655,24.7 L658,24.9 L661,25.3 L664,26.3 L667,27.3 L670,28.3 L673,29.3 L676,29.9 L679,29.7 L682,29.5 L685,29.3 L688,29.1 L691,29.4 L694,30.7 L697,32 L700,33.2 L703,34.5 L706,35.8 L709,37.1 L712,38 L715,38.8 L718,39.5 L721,40.2 L724,41 L727,41.8 L730,42.5 L733,43.2 L736,44 L739,44.8 L742,44.9 L745,44.7 L748,44.5 L751,44.3 L754,44.1 L757,44.7 L760,45.8 L763,46.8 L766,47.2 L769,46.3 L772,45.4 L775,44.5 L778,43.6 L781,42.7 L784,41.8 L787,40.9 L790,40 L793,41.2 L796,42.4 L799,43.6 L802,44.8 L805,46 L808,47.2 L811,48.4 L814,49.6 L817,50.6 L820,51.5 L823,52.4 L826,53.3 L829,54.2 L832,55.1 L835,56 L838,56.9 L841,57.9 L844,59.2 L847,60.4 L850,61.7 L853,62.9 L856,64.2 L859,65.4 L862,66.7 L865,67.9 L868,69.2 L871,70.1 L874,70.6 L877,71 L880,71.5 L883,71.9 L886,72.4 L889,73 L892,73.8 L895,74.7 L898,75.5 L901,76.3 L904,77.3 L907,78.3 L910,79.2 L913,80.2 L916,81.2 L919,82.2 L922,83.8 L925,85.8 L928,87.7 L931,88.8 L934,88.2 L937,87.6 L940,87 L943,86.4 L946,85.9 L949,85.6 L952,85.3 L955,85 L958,86.8 L961,88.4 L964,89.5 L967,90.6 L970,90.2 L973,88.9 L976,87.7 L979,86.5 L982,85.2 L985,84 L988,82.5 L991,81.5 L994,81.5 L997,81.5 L1000,81.5 L1003,83.2 L1006,84.9 L1009,86.6 L1012,88.3 L1015,90 L1018,90.7 L1021,91.4 L1024,92.1 L1027,92.8 L1030,93.5 L1033,94.4 L1036,95.3 L1039,96.2 L1042,97.1 L1045,98 L1048,96.2 L1051,95 L1054,95 L1057,95 L1060,95 L1063,95 L1066,94.8 L1069,94 L1072,93.3 L1075,92.6 L1078,90.3 L1081,88 L1081,157 L1078,153.7 L1075,152.2 L1072,152.1 L1069,152.8 L1066,153.7 L1063,154.4 L1060,154.8 L1057,155 L1054,155 L1051,154.6 L1048,154 L1045,153.3 L1042,152.5 L1039,151.7 L1036,150.9 L1033,150.1 L1030,149.4 L1027,148.8 L1024,148.2 L1021,147.7 L1018,147.2 L1015,146.7 L1012,146.3 L1009,145.9 L1006,145.6 L1003,145.2 L1000,144.9 L997,144.5 L994,144.2 L991,143.8 L988,143.5 L985,143.2 L982,142.9 L979,142.5 L976,142.2 L973,141.9 L970,141.6 L967,141.3 L964,140.9 L961,140.6 L958,140.3 L955,139.9 L952,139.6 L949,139.3 L946,138.9 L943,138.5 L940,138.1 L937,137.8 L934,137.4 L931,136.9 L928,136.5 L925,136 L922,135.5 L919,135.1 L916,134.6 L913,134.1 L910,133.5 L907,133 L904,132.5 L901,131.9 L898,131.3 L895,130.8 L892,130.2 L889,129.7 L886,129.1 L883,128.5 L880,128 L877,127.4 L874,126.9 L871,126.3 L868,125.7 L865,125 L862,124.4 L859,123.9 L856,123.4 L853,122.9 L850,122.5 L847,122.1 L844,121.8 L841,121.4 L838,121.1 L835,120.7 L832,120.4 L829,120.1 L826,119.8 L823,119.5 L820,119.2 L817,118.9 L814,118.7 L811,118.4 L808,118.1 L805,117.9 L802,117.7 L799,117.4 L796,117.2 L793,117.1 L790,116.9 L787,116.7 L784,116.6 L781,116.5 L778,116.4 L775,116.2 L772,116.1 L769,116 L766,115.9 L763,115.8 L760,115.6 L757,115.4 L754,115.3 L751,115.1 L748,114.8 L745,114.6 L742,114.3 L739,114 L736,113.8 L733,113.5 L730,113.1 L727,112.8 L724,112.5 L721,112.2 L718,111.9 L715,111.5 L712,111.2 L709,110.9 L706,110.6 L703,110.3 L700,110 L697,109.7 L694,109.4 L691,109.1 L688,108.9 L685,108.6 L682,108.3 L679,108 L676,107.7 L673,107.5 L670,107.2 L667,106.9 L664,106.6 L661,106.4 L658,106.1 L655,105.9 L652,105.7 L649,105.4 L646,105.3 L643,105.1 L640,105.1 L637,105.1 L634,105.1 L631,105 L628,104.9 L625,104.7 L622,104.5 L619,104.4 L616,104.2 L613,104 L610,103.8 L607,103.5 L604,103.3 L601,103.1 L598,102.8 L595,102.5 L592,102.2 L589,101.9 L586,101.5 L583,101.2 L580,100.9 L577,100.7 L574,100.4 L571,100.2 L568,100.1 L565,99.9 L562,99.8 L559,99.8 L556,99.9 L553,100 L550,100.3 L547,100.6 L544,101.1 L541,101.6 L538,102.1 L535,102.7 L532,103.2 L529,103.7 L526,104.1 L523,104.6 L520,105.1 L517,105.6 L514,106.1 L511,106.5 L508,107 L505,107.5 L502,108 L499,108.5 L496,109 L493,109.5 L490,110 L487,110.5 L484,110.9 L481,111.4 L478,111.7 L475,112.1 L472,112.4 L469,112.7 L466,113 L463,113.2 L460,113.5 L457,113.8 L454,114.1 L451,114.4 L448,114.7 L445,115 L442,115.3 L439,115.6 L436,116 L433,116.3 L430,116.7 L427,117.1 L424,117.5 L421,118 L418,118.5 L415,118.9 L412,119.4 L409,119.8 L406,120.3 L403,120.6 L400,121 L397,121.3 L394,121.6 L391,121.8 L388,122.1 L385,122.3 L382,122.5 L379,122.8 L376,123.1 L373,123.3 L370,123.6 L367,123.8 L364,124.1 L361,124.3 L358,124.5 L355,124.8 L352,125 L349,125.3 L346,125.6 L343,126 L340,126.3 L337,126.8 L334,127.4 L331,128 L328,128.6 L325,129.2 L322,129.9 L319,130.6 L316,131.7 L313,133 L310,134.4 L307,136.1 L304,137.9 L301,139.9 L298,141.9 L295,144 L292,146.3 L289,148.6 L286,150.8 L283,153.2 L280,155.6 L277,158 L274,160.5 L271,163 L268,165.4 L265,168 L262,170.6 L259,173.2 L256,175.9 L253,178.6 L250,181.4 L247,184.4 L244,187.8 L241,192.7 L238,197.8 L235,202.7 L232,207.4 L229,212 L226,216.7 L223,221.4 L220,226.7 L217,232 L214,238.1 L211,244.3 L208,251.3 L205,258.3 L202,266.4 L199,274.4 L196,282.9 L193,291.7 L190,300.4 L187,309.5 L184,318.6 L181,327.8 L178,337.1 L175,346.3 L172,355.6 L169,365 L166,374.3 L163,383.4 L160,392.6 L157,401.6 L154,410.5 L151,419.4 L148,428.4 L145,437.3 L142,446.2 L139,455.2 L136,464.1 L133,473 Z" fill="#7b68ee" fill-opacity="0.38" stroke="#7b68ee" stroke-width="0.8"/>
<path d="M133,206 L137.3,201.9 L143.5,196.1 L150,190 L156.2,184.3 L162.7,178.4 L170,172 L178.6,164.6 L188,156.8 L197,150 L205,144.9 L212.5,140.9 L220,137 L227.5,133.1 L235,129.4 L243,126 L251.7,122.8 L260.9,119.7 L270,117 L278.8,114.6 L287.6,112.5 L297,110.5 L308,108.3 L319.7,106.2 L330,104.5 L337.3,103.4 L343.1,102.7 L350,102 L359.4,101 L370,99.9 L380,99 L388.7,98.3 L396.9,97.7 L405,97 L413.5,96 L422,94.9 L430,94 L435.9,93.5 L441.3,93.2 L450,92.5 L464.4,91.1 L482.2,89.4 L500,87.5 L517.6,85.3 L535.2,82.9 L550,81 L560.6,79.9 L568.3,79.4 L575,79 L580.2,78.7 L584.3,78.7 L590,79 L598.9,79.9 L609.4,81.2 L620,82.5 L629.6,83.6 L639.3,84.7 L650,86 L662.2,87.6 L675.6,89.4 L690,91 L706.3,92.6 L723.7,94.1 L740,95 L754.1,94.8 L767,94.1 L780,94 L793.7,95.3 L807.4,97.3 L820,99 L831.1,99.8 L841.1,100.3 L850,101 L857.4,102.3 L863.7,103.8 L870,105 L876.3,105.4 L882.6,105.4 L890,106 L899.6,107.8 L910.4,110.1 L920,112 L927.4,113 L933.7,113.6 L940,114 L946.5,114.5 L953,114.8 L960,114.6 L968,113.4 L976.5,111.6 L985,111 L993.1,112.4 L1001.3,114.9 L1010,117 L1020,118.2 L1030.6,119.1 L1040,120 L1047.6,121.1 L1054.1,122.3 L1060,123 L1065.7,122.9 L1070.9,122.5 L1075,122.5 L1077.9,123.6 L1079.8,125.3 L1081,126.5" fill="none" stroke="#7b68ee" stroke-width="2.0"/>
</g>
<line x1="133.5" y1="2" x2="133.5" y2="394.5" stroke="#000" stroke-width="1.3"/>
<line x1="129.0" y1="37.2" x2="133.5" y2="37.2" stroke="#4682b4" stroke-width="1.1"/>
<text x="126.5" y="44.3" font-size="20.67" fill="#4682b4" text-anchor="end" textLength="31.0" lengthAdjust="spacingAndGlyphs">1.0</text>
<line x1="129.0" y1="81.8" x2="133.5" y2="81.8" stroke="#4682b4" stroke-width="1.1"/>
<text x="126.5" y="88.9" font-size="20.67" fill="#4682b4" text-anchor="end" textLength="31.0" lengthAdjust="spacingAndGlyphs">0.5</text>
<line x1="129.0" y1="126.5" x2="133.5" y2="126.5" stroke="#4682b4" stroke-width="1.1"/>
<text x="126.5" y="133.6" font-size="20.67" fill="#4682b4" text-anchor="end" textLength="31.0" lengthAdjust="spacingAndGlyphs">0.0</text>
<line x1="129.0" y1="171.2" x2="133.5" y2="171.2" stroke="#4682b4" stroke-width="1.1"/>
<text x="126.5" y="178.2" font-size="20.67" fill="#4682b4" text-anchor="end" textLength="47.4" lengthAdjust="spacingAndGlyphs">−0.5</text>
<line x1="129.0" y1="215.8" x2="133.5" y2="215.8" stroke="#4682b4" stroke-width="1.1"/>
<text x="126.5" y="222.9" font-size="20.67" fill="#4682b4" text-anchor="end" textLength="47.4" lengthAdjust="spacingAndGlyphs">−1.0</text>
<line x1="129.0" y1="260.4" x2="133.5" y2="260.4" stroke="#4682b4" stroke-width="1.1"/>
<text x="126.5" y="267.6" font-size="20.67" fill="#4682b4" text-anchor="end" textLength="47.4" lengthAdjust="spacingAndGlyphs">−1.5</text>
<line x1="129.0" y1="305.1" x2="133.5" y2="305.1" stroke="#4682b4" stroke-width="1.1"/>
<text x="126.5" y="312.2" font-size="20.67" fill="#4682b4" text-anchor="end" textLength="47.4" lengthAdjust="spacingAndGlyphs">−2.0</text>
<line x1="129.0" y1="349.8" x2="133.5" y2="349.8" stroke="#4682b4" stroke-width="1.1"/>
<text x="126.5" y="356.9" font-size="20.67" fill="#4682b4" text-anchor="end" textLength="47.4" lengthAdjust="spacingAndGlyphs">−2.5</text>
<line x1="129.0" y1="394.4" x2="133.5" y2="394.4" stroke="#4682b4" stroke-width="1.1"/>
<text x="126.5" y="401.5" font-size="20.67" fill="#4682b4" text-anchor="end" textLength="47.4" lengthAdjust="spacingAndGlyphs">−3.0</text>
<rect x="158" y="26" width="33" height="34" fill="#fff"/>
<text x="161" y="54.2" font-size="34.45" fill="#4682b4" text-anchor="start" font-weight="bold" textLength="25.2" lengthAdjust="spacingAndGlyphs">A</text>
<text x="44.7" y="201" font-size="24.80" fill="#4682b4" text-anchor="middle" textLength="242.4" lengthAdjust="spacingAndGlyphs" transform="rotate(-90 44.7 201)">Global mean surface</text>
<text x="70.5" y="195" font-size="24.80" fill="#4682b4" text-anchor="middle" textLength="203.6" lengthAdjust="spacingAndGlyphs" transform="rotate(-90 70.5 195)">temperature (°C)</text>
<rect x="762.6" y="270.5" width="292.6" height="98.7" rx="3" fill="#999" fill-opacity="0.55"/>
<rect x="760.1" y="268" width="292.6" height="98.7" rx="3" fill="#fff" stroke="#ccc" stroke-width="1"/>
<rect x="762.8" y="279.5" width="53.3" height="10.6" fill="#7da6cc"/>
<text x="828.7" y="292" font-size="22.37" fill="#000" text-anchor="start" textLength="195.0" lengthAdjust="spacingAndGlyphs">Osman et al. 2021</text>
<rect x="762.8" y="310.7" width="53.3" height="10.6" fill="#4ca6a2"/>
<text x="828.7" y="322.7" font-size="22.37" fill="#000" text-anchor="start" textLength="156.0" lengthAdjust="spacingAndGlyphs">Erb et al. 2022</text>
<rect x="762.8" y="341.9" width="53.3" height="10.6" fill="#a290f1"/>
<text x="828.7" y="353.9" font-size="22.37" fill="#000" text-anchor="start" textLength="214.6" lengthAdjust="spacingAndGlyphs">Kaufman et al. 2020</text>
<line x1="133.5" y1="476.5" x2="1080.5" y2="476.5" stroke="#b0b0b0" stroke-opacity="0.33" stroke-width="1"/>
<line x1="133.5" y1="545.5" x2="1080.5" y2="545.5" stroke="#b0b0b0" stroke-opacity="0.33" stroke-width="1"/>
<line x1="133.5" y1="614.5" x2="1080.5" y2="614.5" stroke="#b0b0b0" stroke-opacity="0.33" stroke-width="1"/>
<line x1="133.5" y1="683.5" x2="1080.5" y2="683.5" stroke="#b0b0b0" stroke-opacity="0.33" stroke-width="1"/>
<line x1="133.5" y1="751.5" x2="1080.5" y2="751.5" stroke="#b0b0b0" stroke-opacity="0.33" stroke-width="1"/>
<line x1="271.5" y1="394.2" x2="271.5" y2="783" stroke="#b0b0b0" stroke-opacity="0.33" stroke-width="1"/>
<line x1="433.5" y1="394.2" x2="433.5" y2="783" stroke="#b0b0b0" stroke-opacity="0.33" stroke-width="1"/>
<line x1="594.5" y1="394.2" x2="594.5" y2="783" stroke="#b0b0b0" stroke-opacity="0.33" stroke-width="1"/>
<line x1="757.5" y1="394.2" x2="757.5" y2="783" stroke="#b0b0b0" stroke-opacity="0.33" stroke-width="1"/>
<line x1="918.5" y1="394.2" x2="918.5" y2="783" stroke="#b0b0b0" stroke-opacity="0.33" stroke-width="1"/>
<line x1="1080.5" y1="394.2" x2="1080.5" y2="783" stroke="#b0b0b0" stroke-opacity="0.33" stroke-width="1"/>
<g clip-path="url(#clipB)">
<path d="M133,628.8 L180,585 L230,535 L270,497.5 L310,470 L330,451 L345,442.5 L370,435 L395,426 L410,422.5 L445,414 L470,406 L495,402.5 L520,400 L545,399 L570,399 L600,398.8 L650,399 L700,399.5 L850,401 L1000,405 L1073,408.3 L1073,408.3 L1030,414 L1000,419 L920,432.7 L850,439 L800,446 L750,456 L700,459 L650,462.5 L600,472.5 L570,472.5 L545,479 L520,492.5 L495,501 L470,511 L445,522.5 L410,547.5 L395,560 L370,580 L330,602.5 L310,617.5 L280,637.5 L230,684 L180,728.5 L133,773.8 Z" fill="#fbc896" fill-opacity="0.35"/>
<path d="M133,637.5 L180,588.8 L230,542.5 L270,502.5 L310,474 L330,455 L345,446 L370,439 L395,429 L410,425 L445,416 L470,409.5 L495,406 L520,404 L545,401 L570,400 L600,400 L650,400 L700,401 L850,403 L1073,408.3 L1073,408.3 L1000,413 L920,416 L850,426 L800,432.5 L750,437.5 L700,444 L650,452.5 L600,465 L570,470 L545,475 L520,487.5 L495,499 L470,509 L445,520 L410,545 L395,557.5 L370,577.5 L330,600 L310,615 L280,635 L230,681 L180,726 L133,771.2 Z" fill="#b2cbe4" fill-opacity="0.56"/>
<path d="M133,665.6 L180,613.8 L237.5,560 L270,531 L310,502.5 L330,487.5 L370,462.5 L395,451 L410,437.5 L445,427.5 L470,419 L495,412.5 L520,409 L545,406 L570,405 L600,402.5 L650,401 L700,402 L850,404 L1073,408.3 L1073,408.3 L850,414 L800,416 L750,421 L700,425 L650,431 L600,447.5 L570,453 L545,461 L520,469.5 L495,477.5 L470,487.5 L445,502.5 L410,530 L395,540 L370,555 L330,575 L310,587.5 L280,610 L230,656 L180,700 L133,748.1 Z" fill="#7393b0" fill-opacity="0.5"/>
<path d="M133,628.8 L180,585 L230,535 L270,497.5 L310,470 L330,451 L345,442.5 L370,435 L395,426 L410,422.5 L445,414 L470,406 L495,402.5 L520,400 L545,399 L570,399 L600,398.8 L650,399 L700,399.5 L850,401 L1000,405 L1073,408.3" fill="none" stroke="#c8602e" stroke-width="0.6000000000000001" stroke-dasharray="2.5,1.5"/>
<path d="M133,773.8 L180,728.5 L230,684 L280,637.5 L310,617.5 L330,602.5 L370,580 L395,560 L410,547.5 L445,522.5 L470,511 L495,501 L520,492.5 L545,479 L570,472.5 L600,472.5 L650,462.5 L700,459 L750,456 L800,446 L850,439 L920,432.7 L1000,419 L1030,414 L1073,408.3" fill="none" stroke="#c8602e" stroke-width="0.6000000000000001" stroke-dasharray="2.5,1.5"/>
<path d="M133,637.5 L180,588.8 L230,542.5 L270,502.5 L310,474 L330,455 L345,446 L370,439 L395,429 L410,425 L445,416 L470,409.5 L495,406 L520,404 L545,401 L570,400 L600,400 L650,400 L700,401 L850,403 L1073,408.3" fill="none" stroke="#000" stroke-width="0.6000000000000001"/>
<path d="M133,771.2 L180,726 L230,681 L280,635 L310,615 L330,600 L370,577.5 L395,557.5 L410,545 L445,520 L470,509 L495,499 L520,487.5 L545,475 L570,470 L600,465 L650,452.5 L700,444 L750,437.5 L800,432.5 L850,426 L920,416 L1000,413 L1073,408.3" fill="none" stroke="#000" stroke-width="0.6000000000000001"/>
<path d="M133,665.6 L180,613.8 L237.5,560 L270,531 L310,502.5 L330,487.5 L370,462.5 L395,451 L410,437.5 L445,427.5 L470,419 L495,412.5 L520,409 L545,406 L570,405 L600,402.5 L650,401 L700,402 L850,404 L1073,408.3" fill="none" stroke="#3c4c5c" stroke-width="0.6400000000000001" stroke-opacity="0.8"/>
<path d="M133,748.1 L180,700 L230,656 L280,610 L310,587.5 L330,575 L370,555 L395,540 L410,530 L445,502.5 L470,487.5 L495,477.5 L520,469.5 L545,461 L570,453 L600,447.5 L650,431 L700,425 L750,421 L800,416 L850,414 L1073,408.3" fill="none" stroke="#3c4c5c" stroke-width="0.6400000000000001" stroke-opacity="0.8"/>
<path d="M133,699.4 L180,653.8 L230,610 L280,563 L310,544 L330,527.5 L370,507.5 L395,495 L410,485 L445,470 L470,461.5 L495,453.5 L520,448 L545,444 L570,441 L600,436.5 L650,425 L700,419 L750,415 L800,414 L850,411 L1073,408.3" fill="none" stroke="#c08a80" stroke-width="1.5"/>
<path d="M133,708.8 L150,694 L180,658.8 L230,612.5 L280,565 L310,542.5 L330,525 L350,517 L370,505 L395,487.5 L410,477.5 L445,461 L470,447.5 L495,434 L520,426 L545,419 L570,416 L600,413.8 L650,408.8 L700,407.5 L750,406 L850,406 L1000,406.5 L1073,408.3" fill="none" stroke="#000" stroke-width="1.8"/>
</g>
<line x1="133.5" y1="408.2" x2="1080.5" y2="408.2" stroke="#222" stroke-width="1.2"/>
<path d="M595,401.9 L1061.7,401.9 L1061.7,414.4 L636,414.4" fill="none" stroke="#444" stroke-width="1.3"/>
<rect x="553.75" y="403.75" width="82.5" height="28.25" fill="#1e90ff" fill-opacity="0.5" stroke="#000" stroke-opacity="0.5" stroke-width="2"/>
<line x1="1080.4" y1="394.2" x2="1080.4" y2="783" stroke="#333" stroke-width="1.4"/>
<line x1="1080.4" y1="408.1" x2="1084.9" y2="408.1" stroke="#333" stroke-width="1.1"/>
<text x="1088.4" y="415.2" font-size="20.67" fill="#000" text-anchor="start" textLength="12.4" lengthAdjust="spacingAndGlyphs">0</text>
<line x1="1080.4" y1="476.9" x2="1084.9" y2="476.9" stroke="#333" stroke-width="1.1"/>
<text x="1088.4" y="484" font-size="20.67" fill="#000" text-anchor="start" textLength="41.2" lengthAdjust="spacingAndGlyphs">−10</text>
<line x1="1080.4" y1="545.6" x2="1084.9" y2="545.6" stroke="#333" stroke-width="1.1"/>
<text x="1088.4" y="552.7" font-size="20.67" fill="#000" text-anchor="start" textLength="41.2" lengthAdjust="spacingAndGlyphs">−20</text>
<line x1="1080.4" y1="614.4" x2="1084.9" y2="614.4" stroke="#333" stroke-width="1.1"/>
<text x="1088.4" y="621.5" font-size="20.67" fill="#000" text-anchor="start" textLength="41.2" lengthAdjust="spacingAndGlyphs">−30</text>
<line x1="1080.4" y1="683.1" x2="1084.9" y2="683.1" stroke="#333" stroke-width="1.1"/>
<text x="1088.4" y="690.2" font-size="20.67" fill="#000" text-anchor="start" textLength="41.2" lengthAdjust="spacingAndGlyphs">−40</text>
<line x1="1080.4" y1="751.9" x2="1084.9" y2="751.9" stroke="#333" stroke-width="1.1"/>
<text x="1088.4" y="759" font-size="20.67" fill="#000" text-anchor="start" textLength="41.2" lengthAdjust="spacingAndGlyphs">−50</text>
<text x="161.5" y="445.5" font-size="34.45" fill="#708090" text-anchor="start" font-weight="bold" textLength="24.8" lengthAdjust="spacingAndGlyphs">B</text>
<text x="1150.5" y="590" font-size="24.80" fill="#000" text-anchor="middle" textLength="314.6" lengthAdjust="spacingAndGlyphs" transform="rotate(-90 1150.5 590)">Global Mean Sea Level (m)</text>
<rect x="595" y="541.25" width="466.70000000000005" height="195.5" fill="#fff"/>
<g clip-path="url(#clipBi)">
<line x1="595" y1="557.5" x2="1061.7" y2="557.5" stroke="#a8a8a8" stroke-width="2"/>
<line x1="595" y1="585" x2="1061.7" y2="585" stroke="#a8a8a8" stroke-width="2"/>
<line x1="595" y1="612.5" x2="1061.7" y2="612.5" stroke="#a8a8a8" stroke-width="2"/>
<line x1="595" y1="639.25" x2="1061.7" y2="639.25" stroke="#a8a8a8" stroke-width="2"/>
<line x1="595" y1="666.75" x2="1061.7" y2="666.75" stroke="#a8a8a8" stroke-width="2"/>
<line x1="595" y1="693.75" x2="1061.7" y2="693.75" stroke="#a8a8a8" stroke-width="2"/>
<line x1="595" y1="721.25" x2="1061.7" y2="721.25" stroke="#a8a8a8" stroke-width="2"/>
<line x1="676.25" y1="541.25" x2="676.25" y2="736.75" stroke="#a8a8a8" stroke-width="2"/>
<line x1="757.5" y1="541.25" x2="757.5" y2="736.75" stroke="#a8a8a8" stroke-width="2"/>
<line x1="838.75" y1="541.25" x2="838.75" y2="736.75" stroke="#a8a8a8" stroke-width="2"/>
<line x1="919.7" y1="541.25" x2="919.7" y2="736.75" stroke="#a8a8a8" stroke-width="2"/>
<line x1="1001.2" y1="541.25" x2="1001.2" y2="736.75" stroke="#a8a8a8" stroke-width="2"/>
<path d="M595,500 L780,520 L800,537 L820,545.2 L863.3,557 L915.3,582 L958.7,600.4 L1004,611.3 L1062,631.8 L1062,668.7 L1036.7,737 L1030,760 L595,900 Z" fill="#fbc896" fill-opacity="0.35"/>
<path d="M595,500 L820,515 L846,540.8 L863.3,546.3 L889.3,558.2 L913.2,569 L924,572.3 L958.7,588.5 L971.7,592.8 L1008.5,608 L1025.9,613.4 L1047.5,621 L1062,629.7 L1062,655.7 L979.3,737 L960,760 L595,900 Z" fill="#b2cbe4" fill-opacity="0.56"/>
<path d="M595,580 L654,541.2 L670,520 L720,520 L737.5,541.2 L765,551.2 L797.5,560 L820,559.3 L863.3,570 L915.3,589.6 L960.8,605.8 L1004,614.5 L1036.7,623.2 L1062,634 L1062,649.2 L1025.9,655.7 L993.3,664.3 L960.8,679.5 L928.3,690.3 L895.8,706.6 L865.5,721.8 L848.2,737 L830,760 L595,800 Z" fill="#7393b0" fill-opacity="0.5"/>
<path d="M595,500 L780,520 L800,537 L820,545.2 L863.3,557 L915.3,582 L958.7,600.4 L1004,611.3 L1062,631.8" fill="none" stroke="#c8602e" stroke-width="0.675" stroke-dasharray="2.5,1.5"/>
<path d="M595,900 L1030,760 L1036.7,737 L1062,668.7" fill="none" stroke="#c8602e" stroke-width="0.675" stroke-dasharray="2.5,1.5"/>
<path d="M595,500 L820,515 L846,540.8 L863.3,546.3 L889.3,558.2 L913.2,569 L924,572.3 L958.7,588.5 L971.7,592.8 L1008.5,608 L1025.9,613.4 L1047.5,621 L1062,629.7" fill="none" stroke="#000" stroke-width="0.675"/>
<path d="M595,900 L960,760 L979.3,737 L1062,655.7" fill="none" stroke="#000" stroke-width="0.675"/>
<path d="M595,580 L654,541.2 L670,520 L720,520 L737.5,541.2 L765,551.2 L797.5,560 L820,559.3 L863.3,570 L915.3,589.6 L960.8,605.8 L1004,614.5 L1036.7,623.2 L1062,634" fill="none" stroke="#3c4c5c" stroke-width="0.7200000000000001" stroke-opacity="0.8"/>
<path d="M595,800 L830,760 L848.2,737 L865.5,721.8 L895.8,706.6 L928.3,690.3 L960.8,679.5 L993.3,664.3 L1025.9,655.7 L1062,649.2" fill="none" stroke="#3c4c5c" stroke-width="0.7200000000000001" stroke-opacity="0.8"/>
<path d="M595,800 L780,760 L797.5,736.8 L815,718.8 L830.8,705.5 L848.2,700 L863.3,690.3 L895.8,677.3 L928.3,666.5 L958.7,662.2 L982.5,654.6 L1015,648.1 L1062,644.8" fill="none" stroke="#a8868a" stroke-width="1.6"/>
<path d="M595,730 L602.5,716.2 L620,695 L635,682.5 L651.2,674.5 L667.5,657.5 L682.5,646.2 L700,637.5 L715,631.2 L740,627.5 L757.5,623.8 L780,617.5 L795,615 L815,613 L840,614.8 L874.2,615.6 L911,623.2 L928.3,624.3 L958.7,630.8 L1004,633 L1025.9,636.2 L1062,641.2" fill="none" stroke="#000" stroke-width="2.0"/>
</g>
<rect x="595" y="541.25" width="466.70000000000005" height="195.5" fill="none" stroke="#333" stroke-width="1.3"/>
<line x1="590.5" y1="557.5" x2="595" y2="557.5" stroke="#000" stroke-width="1.1"/>
<text x="588" y="564.6" font-size="20.67" fill="#000" text-anchor="end" textLength="43.4" lengthAdjust="spacingAndGlyphs">0.75</text>
<line x1="590.5" y1="585" x2="595" y2="585" stroke="#000" stroke-width="1.1"/>
<text x="588" y="592.1" font-size="20.67" fill="#000" text-anchor="end" textLength="43.4" lengthAdjust="spacingAndGlyphs">0.50</text>
<line x1="590.5" y1="612.5" x2="595" y2="612.5" stroke="#000" stroke-width="1.1"/>
<text x="588" y="619.6" font-size="20.67" fill="#000" text-anchor="end" textLength="43.4" lengthAdjust="spacingAndGlyphs">0.25</text>
<line x1="590.5" y1="639.25" x2="595" y2="639.25" stroke="#000" stroke-width="1.1"/>
<text x="588" y="646.4" font-size="20.67" fill="#000" text-anchor="end" textLength="43.4" lengthAdjust="spacingAndGlyphs">0.00</text>
<line x1="590.5" y1="666.75" x2="595" y2="666.75" stroke="#000" stroke-width="1.1"/>
<text x="588" y="673.9" font-size="20.67" fill="#000" text-anchor="end" textLength="59.8" lengthAdjust="spacingAndGlyphs">−0.25</text>
<line x1="590.5" y1="693.75" x2="595" y2="693.75" stroke="#000" stroke-width="1.1"/>
<text x="588" y="700.9" font-size="20.67" fill="#000" text-anchor="end" textLength="59.8" lengthAdjust="spacingAndGlyphs">−0.50</text>
<line x1="590.5" y1="721.25" x2="595" y2="721.25" stroke="#000" stroke-width="1.1"/>
<text x="588" y="728.4" font-size="20.67" fill="#000" text-anchor="end" textLength="59.8" lengthAdjust="spacingAndGlyphs">−0.75</text>
<line x1="595" y1="736.75" x2="595" y2="741.25" stroke="#000" stroke-width="1.1"/>
<text x="595" y="758.8" font-size="20.67" fill="#000" text-anchor="middle" textLength="12.4" lengthAdjust="spacingAndGlyphs">6</text>
<line x1="676.25" y1="736.75" x2="676.25" y2="741.25" stroke="#000" stroke-width="1.1"/>
<text x="676.2" y="758.8" font-size="20.67" fill="#000" text-anchor="middle" textLength="12.4" lengthAdjust="spacingAndGlyphs">5</text>
<line x1="757.5" y1="736.75" x2="757.5" y2="741.25" stroke="#000" stroke-width="1.1"/>
<text x="757.5" y="758.8" font-size="20.67" fill="#000" text-anchor="middle" textLength="12.4" lengthAdjust="spacingAndGlyphs">4</text>
<line x1="838.75" y1="736.75" x2="838.75" y2="741.25" stroke="#000" stroke-width="1.1"/>
<text x="838.8" y="758.8" font-size="20.67" fill="#000" text-anchor="middle" textLength="12.4" lengthAdjust="spacingAndGlyphs">3</text>
<line x1="919.7" y1="736.75" x2="919.7" y2="741.25" stroke="#000" stroke-width="1.1"/>
<text x="919.7" y="758.8" font-size="20.67" fill="#000" text-anchor="middle" textLength="12.4" lengthAdjust="spacingAndGlyphs">2</text>
<line x1="1001.2" y1="736.75" x2="1001.2" y2="741.25" stroke="#000" stroke-width="1.1"/>
<text x="1001.2" y="758.8" font-size="20.67" fill="#000" text-anchor="middle" textLength="12.4" lengthAdjust="spacingAndGlyphs">1</text>
<line x1="133.5" y1="813.5" x2="1080.5" y2="813.5" stroke="#b0b0b0" stroke-opacity="0.33" stroke-width="1"/>
<line x1="133.5" y1="858.5" x2="1080.5" y2="858.5" stroke="#b0b0b0" stroke-opacity="0.33" stroke-width="1"/>
<line x1="133.5" y1="904.5" x2="1080.5" y2="904.5" stroke="#b0b0b0" stroke-opacity="0.33" stroke-width="1"/>
<line x1="133.5" y1="950.5" x2="1080.5" y2="950.5" stroke="#b0b0b0" stroke-opacity="0.33" stroke-width="1"/>
<line x1="133.5" y1="995.5" x2="1080.5" y2="995.5" stroke="#b0b0b0" stroke-opacity="0.33" stroke-width="1"/>
<line x1="133.5" y1="1041.5" x2="1080.5" y2="1041.5" stroke="#b0b0b0" stroke-opacity="0.33" stroke-width="1"/>
<line x1="133.5" y1="1086.5" x2="1080.5" y2="1086.5" stroke="#b0b0b0" stroke-opacity="0.33" stroke-width="1"/>
<line x1="133.5" y1="1132.5" x2="1080.5" y2="1132.5" stroke="#b0b0b0" stroke-opacity="0.33" stroke-width="1"/>
<line x1="133.5" y1="1177.5" x2="1080.5" y2="1177.5" stroke="#b0b0b0" stroke-opacity="0.33" stroke-width="1"/>
<line x1="271.5" y1="786.2" x2="271.5" y2="1178.3" stroke="#b0b0b0" stroke-opacity="0.33" stroke-width="1"/>
<line x1="433.5" y1="786.2" x2="433.5" y2="1178.3" stroke="#b0b0b0" stroke-opacity="0.33" stroke-width="1"/>
<line x1="594.5" y1="786.2" x2="594.5" y2="1178.3" stroke="#b0b0b0" stroke-opacity="0.33" stroke-width="1"/>
<line x1="757.5" y1="786.2" x2="757.5" y2="1178.3" stroke="#b0b0b0" stroke-opacity="0.33" stroke-width="1"/>
<line x1="918.5" y1="786.2" x2="918.5" y2="1178.3" stroke="#b0b0b0" stroke-opacity="0.33" stroke-width="1"/>
<line x1="1080.5" y1="786.2" x2="1080.5" y2="1178.3" stroke="#b0b0b0" stroke-opacity="0.33" stroke-width="1"/>
<g clip-path="url(#clipC)">
<path d="M133,837 L155,838.8 L187.5,832.5 L225,815 L262.5,800.5 L305,798.8 L342.5,796.2 L380,795.5 L430,795 L495,791.2 L570,791.2 L620,795 L670,797.5 L700,797.9 L830,801 L927.5,806 L1073.7,813.5 L1073.7,813.5 L1041.2,825.5 L1008.8,836.9 L960,856.4 L911.2,874.2 L895,884 L862.5,890.5 L807.2,910 L758.5,931.1 L700,948 L650,962 L595,978.8 L570,990 L545,1005 L507.5,1030 L470,1046.2 L430,1077.5 L395,1088.8 L360,1100 L327.5,1118 L292.5,1122.5 L262.5,1133.2 L230,1133.8 L192.5,1146.2 L162.5,1154.2 L133,1154.2 Z" fill="#fbc896" fill-opacity="0.35"/>
<path d="M133,882.5 L150,863.8 L167.5,851.2 L185,843.8 L217.5,835 L262.5,825.8 L345,825.8 L380,818.8 L425,813 L470,801.2 L507.5,798.8 L557.5,800 L595,800.5 L620,797.5 L670,788.8 L707.5,785 L839.7,785.9 L921,797.9 L992.5,806 L1073.7,813.5 L1073.7,813.5 L943.8,819 L882,827.1 L830,834.6 L755.2,862.9 L734,867.1 L700,893.8 L670,898.8 L635,918.8 L595,932.5 L570,947.5 L552.5,962.5 L525,1015 L505,1051.2 L470,1063.8 L425,1078.2 L390,1077.5 L360,1078.2 L345,1085 L312.5,1089.5 L295,1092.5 L262.5,1108.8 L235,1117.5 L215,1121.2 L133,1122.5 Z" fill="#b2cbe4" fill-opacity="0.56"/>
<path d="M133,910 L180,893.8 L230,877.5 L262.5,870 L305,865 L345,855 L392.5,847.5 L407.5,846.2 L425,815 L470,801.2 L507.5,798.8 L557.5,800 L595,801.2 L620,801.2 L670,801 L700,801.5 L830,803.4 L1073.7,813.5 L1073.7,813.5 L927.5,816.4 L830,818.4 L716,822.2 L695,825 L645,847.5 L595,880 L532.5,932.5 L490,966.2 L457.5,977.5 L430,990 L410,1002.5 L392.5,1019.5 L375,1026.2 L360,1031.2 L342.5,1060 L330,1071.2 L312.5,1080 L262.5,1085 L230,1086.2 L215,1088.8 L182.5,1097.5 L133,1097.5 Z" fill="#7393b0" fill-opacity="0.5"/>
<path d="M133,837 L155,838.8 L187.5,832.5 L225,815 L262.5,800.5 L305,798.8 L342.5,796.2 L380,795.5 L430,795 L495,791.2 L570,791.2 L620,795 L670,797.5 L700,797.9 L830,801 L927.5,806 L1073.7,813.5" fill="none" stroke="#c8602e" stroke-width="0.6000000000000001" stroke-dasharray="2.5,1.5"/>
<path d="M133,1154.2 L162.5,1154.2 L192.5,1146.2 L230,1133.8 L262.5,1133.2 L292.5,1122.5 L327.5,1118 L360,1100 L395,1088.8 L430,1077.5 L470,1046.2 L507.5,1030 L545,1005 L570,990 L595,978.8 L650,962 L700,948 L758.5,931.1 L807.2,910 L862.5,890.5 L895,884 L911.2,874.2 L960,856.4 L1008.8,836.9 L1041.2,825.5 L1073.7,813.5" fill="none" stroke="#c8602e" stroke-width="0.6000000000000001" stroke-dasharray="2.5,1.5"/>
<path d="M133,882.5 L150,863.8 L167.5,851.2 L185,843.8 L217.5,835 L262.5,825.8 L345,825.8 L380,818.8 L425,813 L470,801.2 L507.5,798.8 L557.5,800 L595,800.5 L620,797.5 L670,788.8 L707.5,785 L839.7,785.9 L921,797.9 L992.5,806 L1073.7,813.5" fill="none" stroke="#000" stroke-width="0.6000000000000001"/>
<path d="M133,1122.5 L215,1121.2 L235,1117.5 L262.5,1108.8 L295,1092.5 L312.5,1089.5 L345,1085 L360,1078.2 L390,1077.5 L425,1078.2 L470,1063.8 L505,1051.2 L525,1015 L552.5,962.5 L570,947.5 L595,932.5 L635,918.8 L670,898.8 L700,893.8 L734,867.1 L755.2,862.9 L830,834.6 L882,827.1 L943.8,819 L1073.7,813.5" fill="none" stroke="#000" stroke-width="0.6000000000000001"/>
<path d="M133,910 L180,893.8 L230,877.5 L262.5,870 L305,865 L345,855 L392.5,847.5 L407.5,846.2 L425,815 L470,801.2 L507.5,798.8 L557.5,800 L595,801.2 L620,801.2 L670,801 L700,801.5 L830,803.4 L1073.7,813.5" fill="none" stroke="#3c4c5c" stroke-width="0.6400000000000001" stroke-opacity="0.8"/>
<path d="M133,1097.5 L182.5,1097.5 L215,1088.8 L230,1086.2 L262.5,1085 L312.5,1080 L330,1071.2 L342.5,1060 L360,1031.2 L375,1026.2 L392.5,1019.5 L410,1002.5 L430,990 L457.5,977.5 L490,966.2 L532.5,932.5 L595,880 L645,847.5 L695,825 L716,822.2 L830,818.4 L927.5,816.4 L1073.7,813.5" fill="none" stroke="#3c4c5c" stroke-width="0.6400000000000001" stroke-opacity="0.8"/>
<path d="M133,984.5 L167.5,983.8 L205,979.2 L255,973.8 L280,966.2 L330,960 L345,960 L392.5,952.5 L410,947 L430,943.8 L440,940 L470,925 L507.5,912.5 L537.5,905 L557.5,897.5 L582.5,890 L607.5,877.5 L637.5,868.8 L670,860 L700,854.8 L732.5,846.6 L797.5,835.2 L862.5,825.5 L927.5,819 L992.5,815.8 L1073.7,813.5" fill="none" stroke="#c08a80" stroke-width="1.5"/>
<path d="M133,1017 L150,1020.5 L197.5,1022 L215,1021.2 L230,1005 L247.5,983.8 L262.5,971.2 L295,955 L310,952.5 L327.5,947.5 L345,933 L360,926.2 L377.5,911.2 L407.5,888.8 L425,867.5 L430,865 L457.5,856.2 L490,851.2 L507.5,845 L537.5,837.5 L555,830 L595,825 L632.5,820 L670,815 L700,812.5 L755,809.2 L830,808.6 L911.2,808.6 L992.5,810.9 L1073.7,813.5" fill="none" stroke="#000" stroke-width="1.8"/>
<rect x="595" y="799.5" width="466.7" height="28.6" fill="none" stroke="#444" stroke-width="1.2"/>
</g>
<line x1="133.3" y1="786.2" x2="133.3" y2="1178.3" stroke="#000" stroke-width="1.3"/>
<line x1="128.8" y1="813.3" x2="133.3" y2="813.3" stroke="#000" stroke-width="1.1"/>
<text x="126.3" y="820.4" font-size="20.67" fill="#000" text-anchor="end" textLength="31.0" lengthAdjust="spacingAndGlyphs">0.0</text>
<line x1="128.8" y1="858.9" x2="133.3" y2="858.9" stroke="#000" stroke-width="1.1"/>
<text x="126.3" y="866" font-size="20.67" fill="#000" text-anchor="end" textLength="31.0" lengthAdjust="spacingAndGlyphs">2.5</text>
<line x1="128.8" y1="904.4" x2="133.3" y2="904.4" stroke="#000" stroke-width="1.1"/>
<text x="126.3" y="911.5" font-size="20.67" fill="#000" text-anchor="end" textLength="31.0" lengthAdjust="spacingAndGlyphs">5.0</text>
<line x1="128.8" y1="950" x2="133.3" y2="950" stroke="#000" stroke-width="1.1"/>
<text x="126.3" y="957.1" font-size="20.67" fill="#000" text-anchor="end" textLength="31.0" lengthAdjust="spacingAndGlyphs">7.5</text>
<line x1="128.8" y1="995.6" x2="133.3" y2="995.6" stroke="#000" stroke-width="1.1"/>
<text x="126.3" y="1002.7" font-size="20.67" fill="#000" text-anchor="end" textLength="43.4" lengthAdjust="spacingAndGlyphs">10.0</text>
<line x1="128.8" y1="1041.2" x2="133.3" y2="1041.2" stroke="#000" stroke-width="1.1"/>
<text x="126.3" y="1048.3" font-size="20.67" fill="#000" text-anchor="end" textLength="43.4" lengthAdjust="spacingAndGlyphs">12.5</text>
<line x1="128.8" y1="1086.8" x2="133.3" y2="1086.8" stroke="#000" stroke-width="1.1"/>
<text x="126.3" y="1093.8" font-size="20.67" fill="#000" text-anchor="end" textLength="43.4" lengthAdjust="spacingAndGlyphs">15.0</text>
<line x1="128.8" y1="1132.3" x2="133.3" y2="1132.3" stroke="#000" stroke-width="1.1"/>
<text x="126.3" y="1139.4" font-size="20.67" fill="#000" text-anchor="end" textLength="43.4" lengthAdjust="spacingAndGlyphs">17.5</text>
<line x1="128.8" y1="1177.9" x2="133.3" y2="1177.9" stroke="#000" stroke-width="1.1"/>
<text x="126.3" y="1185" font-size="20.67" fill="#000" text-anchor="end" textLength="43.4" lengthAdjust="spacingAndGlyphs">20.0</text>
<rect x="158.75" y="812.5" width="30" height="34.5" fill="#fff"/>
<text x="161" y="837.5" font-size="34.45" fill="#708090" text-anchor="start" font-weight="bold" textLength="23.9" lengthAdjust="spacingAndGlyphs">C</text>
<text x="73.1" y="982.6" font-size="24.80" fill="#000" text-anchor="middle" textLength="339.5" lengthAdjust="spacingAndGlyphs" transform="rotate(-90 73.1 982.6)">Antarctic Ice Volume (m SLE)</text>
<rect x="595.2" y="933.4" width="466.70000000000005" height="195.5000000000001" fill="#fff"/>
<g clip-path="url(#clipCi)">
<line x1="595.2" y1="957.9" x2="1061.9" y2="957.9" stroke="#a8a8a8" stroke-width="2"/>
<line x1="595.2" y1="982.4" x2="1061.9" y2="982.4" stroke="#a8a8a8" stroke-width="2"/>
<line x1="595.2" y1="1007.1" x2="1061.9" y2="1007.1" stroke="#a8a8a8" stroke-width="2"/>
<line x1="595.2" y1="1031.6" x2="1061.9" y2="1031.6" stroke="#a8a8a8" stroke-width="2"/>
<line x1="595.2" y1="1056.1" x2="1061.9" y2="1056.1" stroke="#a8a8a8" stroke-width="2"/>
<line x1="595.2" y1="1080.8" x2="1061.9" y2="1080.8" stroke="#a8a8a8" stroke-width="2"/>
<line x1="595.2" y1="1105.3" x2="1061.9" y2="1105.3" stroke="#a8a8a8" stroke-width="2"/>
<line x1="676.4" y1="933.4" x2="676.4" y2="1128.9" stroke="#a8a8a8" stroke-width="2"/>
<line x1="757.7" y1="933.4" x2="757.7" y2="1128.9" stroke="#a8a8a8" stroke-width="2"/>
<line x1="838.9" y1="933.4" x2="838.9" y2="1128.9" stroke="#a8a8a8" stroke-width="2"/>
<line x1="919.7" y1="933.4" x2="919.7" y2="1128.9" stroke="#a8a8a8" stroke-width="2"/>
<line x1="1001.1" y1="933.4" x2="1001.1" y2="1128.9" stroke="#a8a8a8" stroke-width="2"/>
<path d="M595,900 L740,915 L757.7,933.4 L798.8,952.5 L831,947 L865,953.8 L878.5,960.5 L914.5,980.8 L928,986.4 L964,995.4 L988.8,995.4 L1011.2,1001 L1062,1025.8 L1062,1066.2 L1038.3,1129.3 L1030,1150 L595,1300 Z" fill="#fbc896" fill-opacity="0.35"/>
<path d="M595,945 L603,947.7 L621,933.4 L640,915 L920,915 L930.3,933.5 L959.5,960.5 L991,987.5 L1006.8,996.5 L1027,1004.4 L1042.8,1010 L1062,1022.4 L1062,1035.9 L1022.5,1047.1 L1000,1055 L977.5,1065.1 L964,1067.4 L943.8,1074.1 L912.2,1091 L894.2,1107.9 L875.1,1129.3 L860,1150 L595,1250 Z" fill="#b2cbe4" fill-opacity="0.56"/>
<path d="M595,963.3 L603.8,964.4 L619,960 L634.2,941.7 L651.5,933.4 L665,915 L672,915 L681.8,933.4 L699.2,948.2 L718.7,955.8 L753.3,963.3 L783.7,967.2 L820,966.1 L831.2,965 L865,971.8 L914.5,985.2 L943.8,986.8 L966.2,990.9 L995.5,1001 L1022.5,1005.5 L1062,1024.6 L1062,1034.8 L1000,1038.1 L977.5,1040.4 L943.8,1046 L912.2,1047.1 L887.5,1051.6 L842.5,1060.6 L818.4,1063 L785.9,1069.5 L753.3,1080.3 L717.6,1092.3 L701.3,1115 L694.8,1128.7 L680,1150 L595,1200 Z" fill="#7393b0" fill-opacity="0.5"/>
<path d="M595,900 L740,915 L757.7,933.4 L798.8,952.5 L831,947 L865,953.8 L878.5,960.5 L914.5,980.8 L928,986.4 L964,995.4 L988.8,995.4 L1011.2,1001 L1062,1025.8" fill="none" stroke="#c8602e" stroke-width="0.675" stroke-dasharray="2.5,1.5"/>
<path d="M595,1300 L1030,1150 L1038.3,1129.3 L1062,1066.2" fill="none" stroke="#c8602e" stroke-width="0.675" stroke-dasharray="2.5,1.5"/>
<path d="M595,945 L603,947.7 L621,933.4 L640,915 L920,915 L930.3,933.5 L959.5,960.5 L991,987.5 L1006.8,996.5 L1027,1004.4 L1042.8,1010 L1062,1022.4" fill="none" stroke="#000" stroke-width="0.675"/>
<path d="M595,1250 L860,1150 L875.1,1129.3 L894.2,1107.9 L912.2,1091 L943.8,1074.1 L964,1067.4 L977.5,1065.1 L1000,1055 L1022.5,1047.1 L1062,1035.9" fill="none" stroke="#000" stroke-width="0.675"/>
<path d="M595,963.3 L603.8,964.4 L619,960 L634.2,941.7 L651.5,933.4 L665,915 L672,915 L681.8,933.4 L699.2,948.2 L718.7,955.8 L753.3,963.3 L783.7,967.2 L820,966.1 L831.2,965 L865,971.8 L914.5,985.2 L943.8,986.8 L966.2,990.9 L995.5,1001 L1022.5,1005.5 L1062,1024.6" fill="none" stroke="#3c4c5c" stroke-width="0.7200000000000001" stroke-opacity="0.8"/>
<path d="M595,1200 L680,1150 L694.8,1128.7 L701.3,1115 L717.6,1092.3 L753.3,1080.3 L785.9,1069.5 L818.4,1063 L842.5,1060.6 L887.5,1051.6 L912.2,1047.1 L943.8,1046 L977.5,1040.4 L1000,1038.1 L1062,1034.8" fill="none" stroke="#3c4c5c" stroke-width="0.7200000000000001" stroke-opacity="0.8"/>
<path d="M595,1250 L810,1150 L824.5,1129.3 L831.2,1119.1 L865,1109 L878.5,1098.9 L894.2,1085.4 L914.5,1075.3 L943.8,1066.2 L977.5,1051.6 L1000,1046 L1022.5,1041.5 L1062,1034.8" fill="none" stroke="#a8868a" stroke-width="1.6"/>
<path d="M595,1111.8 L603.8,1104.2 L619,1084.7 L638.5,1067.3 L666.7,1043.5 L684,1033.8 L716.5,1021.8 L749,1006.7 L775,1002.3 L807.5,998 L831.2,996.5 L847,1000.6 L865,1001.5 L887.5,997.6 L912.2,994.2 L932.5,997.6 L955,1005.5 L977.5,1011.8 L1000,1014.5 L1022.5,1019 L1062,1029.1" fill="none" stroke="#000" stroke-width="2.0"/>
</g>
<rect x="595.2" y="933.4" width="466.70000000000005" height="195.5000000000001" fill="none" stroke="#333" stroke-width="1.3"/>
<line x1="1061.9" y1="957.9" x2="1066.4" y2="957.9" stroke="#000" stroke-width="1.1"/>
<text x="1069.9" y="965" font-size="20.67" fill="#000" text-anchor="start" textLength="47.4" lengthAdjust="spacingAndGlyphs">−0.6</text>
<line x1="1061.9" y1="982.4" x2="1066.4" y2="982.4" stroke="#000" stroke-width="1.1"/>
<text x="1069.9" y="989.5" font-size="20.67" fill="#000" text-anchor="start" textLength="47.4" lengthAdjust="spacingAndGlyphs">−0.4</text>
<line x1="1061.9" y1="1007.1" x2="1066.4" y2="1007.1" stroke="#000" stroke-width="1.1"/>
<text x="1069.9" y="1014.2" font-size="20.67" fill="#000" text-anchor="start" textLength="47.4" lengthAdjust="spacingAndGlyphs">−0.2</text>
<line x1="1061.9" y1="1031.6" x2="1066.4" y2="1031.6" stroke="#000" stroke-width="1.1"/>
<text x="1069.9" y="1038.7" font-size="20.67" fill="#000" text-anchor="start" textLength="31.0" lengthAdjust="spacingAndGlyphs">0.0</text>
<line x1="1061.9" y1="1056.1" x2="1066.4" y2="1056.1" stroke="#000" stroke-width="1.1"/>
<text x="1069.9" y="1063.2" font-size="20.67" fill="#000" text-anchor="start" textLength="31.0" lengthAdjust="spacingAndGlyphs">0.2</text>
<line x1="1061.9" y1="1080.8" x2="1066.4" y2="1080.8" stroke="#000" stroke-width="1.1"/>
<text x="1069.9" y="1087.9" font-size="20.67" fill="#000" text-anchor="start" textLength="31.0" lengthAdjust="spacingAndGlyphs">0.4</text>
<line x1="1061.9" y1="1105.3" x2="1066.4" y2="1105.3" stroke="#000" stroke-width="1.1"/>
<text x="1069.9" y="1112.4" font-size="20.67" fill="#000" text-anchor="start" textLength="31.0" lengthAdjust="spacingAndGlyphs">0.6</text>
<line x1="595.2" y1="1128.9" x2="595.2" y2="1133.4" stroke="#000" stroke-width="1.1"/>
<text x="595.2" y="1150.9" font-size="20.67" fill="#000" text-anchor="middle" textLength="12.4" lengthAdjust="spacingAndGlyphs">6</text>
<line x1="676.4" y1="1128.9" x2="676.4" y2="1133.4" stroke="#000" stroke-width="1.1"/>
<text x="676.4" y="1150.9" font-size="20.67" fill="#000" text-anchor="middle" textLength="12.4" lengthAdjust="spacingAndGlyphs">5</text>
<line x1="757.7" y1="1128.9" x2="757.7" y2="1133.4" stroke="#000" stroke-width="1.1"/>
<text x="757.7" y="1150.9" font-size="20.67" fill="#000" text-anchor="middle" textLength="12.4" lengthAdjust="spacingAndGlyphs">4</text>
<line x1="838.9" y1="1128.9" x2="838.9" y2="1133.4" stroke="#000" stroke-width="1.1"/>
<text x="838.9" y="1150.9" font-size="20.67" fill="#000" text-anchor="middle" textLength="12.4" lengthAdjust="spacingAndGlyphs">3</text>
<line x1="919.7" y1="1128.9" x2="919.7" y2="1133.4" stroke="#000" stroke-width="1.1"/>
<text x="919.7" y="1150.9" font-size="20.67" fill="#000" text-anchor="middle" textLength="12.4" lengthAdjust="spacingAndGlyphs">2</text>
<line x1="1001.1" y1="1128.9" x2="1001.1" y2="1133.4" stroke="#000" stroke-width="1.1"/>
<text x="1001.1" y="1150.9" font-size="20.67" fill="#000" text-anchor="middle" textLength="12.4" lengthAdjust="spacingAndGlyphs">1</text>
<line x1="133.5" y1="1216.5" x2="1080.5" y2="1216.5" stroke="#b0b0b0" stroke-opacity="0.33" stroke-width="1"/>
<line x1="133.5" y1="1279.5" x2="1080.5" y2="1279.5" stroke="#b0b0b0" stroke-opacity="0.33" stroke-width="1"/>
<line x1="133.5" y1="1343.5" x2="1080.5" y2="1343.5" stroke="#b0b0b0" stroke-opacity="0.33" stroke-width="1"/>
<line x1="133.5" y1="1406.5" x2="1080.5" y2="1406.5" stroke="#b0b0b0" stroke-opacity="0.33" stroke-width="1"/>
<line x1="133.5" y1="1469.5" x2="1080.5" y2="1469.5" stroke="#b0b0b0" stroke-opacity="0.33" stroke-width="1"/>
<line x1="133.5" y1="1532.5" x2="1080.5" y2="1532.5" stroke="#b0b0b0" stroke-opacity="0.33" stroke-width="1"/>
<line x1="271.5" y1="1178.3" x2="271.5" y2="1570.5" stroke="#b0b0b0" stroke-opacity="0.33" stroke-width="1"/>
<line x1="433.5" y1="1178.3" x2="433.5" y2="1570.5" stroke="#b0b0b0" stroke-opacity="0.33" stroke-width="1"/>
<line x1="594.5" y1="1178.3" x2="594.5" y2="1570.5" stroke="#b0b0b0" stroke-opacity="0.33" stroke-width="1"/>
<line x1="757.5" y1="1178.3" x2="757.5" y2="1570.5" stroke="#b0b0b0" stroke-opacity="0.33" stroke-width="1"/>
<line x1="918.5" y1="1178.3" x2="918.5" y2="1570.5" stroke="#b0b0b0" stroke-opacity="0.33" stroke-width="1"/>
<line x1="1080.5" y1="1178.3" x2="1080.5" y2="1570.5" stroke="#b0b0b0" stroke-opacity="0.33" stroke-width="1"/>
<g clip-path="url(#clipD)">
<rect x="402" y="1170" width="21" height="410" fill="#fed695"/>
<rect x="474.5" y="1170" width="79.3" height="410" fill="#fdd3d6"/>
<line x1="133.5" y1="1216.5" x2="1080.5" y2="1216.5" stroke="#b0b0b0" stroke-opacity="0.33" stroke-width="1"/>
<line x1="133.5" y1="1279.5" x2="1080.5" y2="1279.5" stroke="#b0b0b0" stroke-opacity="0.33" stroke-width="1"/>
<line x1="133.5" y1="1343.5" x2="1080.5" y2="1343.5" stroke="#b0b0b0" stroke-opacity="0.33" stroke-width="1"/>
<line x1="133.5" y1="1406.5" x2="1080.5" y2="1406.5" stroke="#b0b0b0" stroke-opacity="0.33" stroke-width="1"/>
<line x1="133.5" y1="1469.5" x2="1080.5" y2="1469.5" stroke="#b0b0b0" stroke-opacity="0.33" stroke-width="1"/>
<line x1="133.5" y1="1532.5" x2="1080.5" y2="1532.5" stroke="#b0b0b0" stroke-opacity="0.33" stroke-width="1"/>
<line x1="271.5" y1="1178.3" x2="271.5" y2="1570.5" stroke="#b0b0b0" stroke-opacity="0.33" stroke-width="1"/>
<line x1="433.5" y1="1178.3" x2="433.5" y2="1570.5" stroke="#b0b0b0" stroke-opacity="0.33" stroke-width="1"/>
<line x1="594.5" y1="1178.3" x2="594.5" y2="1570.5" stroke="#b0b0b0" stroke-opacity="0.33" stroke-width="1"/>
<line x1="757.5" y1="1178.3" x2="757.5" y2="1570.5" stroke="#b0b0b0" stroke-opacity="0.33" stroke-width="1"/>
<line x1="918.5" y1="1178.3" x2="918.5" y2="1570.5" stroke="#b0b0b0" stroke-opacity="0.33" stroke-width="1"/>
<line x1="1080.5" y1="1178.3" x2="1080.5" y2="1570.5" stroke="#b0b0b0" stroke-opacity="0.33" stroke-width="1"/>
<path d="M133,1309.1 L135,1305.5 L137,1299.7 L139,1296 L141,1290.2 L143,1284.9 L145,1282.1 L147,1284.2 L149,1294.3 L151,1308 L153,1319.8 L155,1328.9 L157,1327.8 L159,1327.2 L161,1324.6 L163,1323.6 L165,1322.4 L167,1320.1 L169,1317.6 L171,1317.4 L173,1315.9 L175,1315.6 L177,1314.2 L179,1316.2 L181,1318.9 L183,1322 L185,1319.4 L187,1315.1 L189,1311.3 L191,1311.5 L193,1310.3 L195,1313.9 L197,1315.2 L199,1313.4 L201,1310.1 L203,1308.1 L205,1304 L207,1307.3 L209,1310.2 L211,1311.7 L213,1313.9 L215,1318.3 L217,1312.8 L219,1308.8 L221,1302.9 L223,1298.6 L225,1296.5 L227,1295.9 L229,1297.5 L231,1297.2 L233,1300.1 L235,1300.2 L237,1298.1 L239,1298.1 L241,1296.8 L243,1299 L245,1298.2 L247,1296.5 L249,1296.8 L251,1294.3 L253,1296.2 L255,1298.5 L257,1299 L259,1301.4 L261,1302 L263,1302.8 L265,1300.6 L267,1297 L269,1295.5 L271,1292.2 L273,1289.1 L275,1287.3 L277,1286.7 L279,1289.1 L281,1292.4 L283,1295.4 L285,1296.7 L287,1298.9 L289,1298.9 L291,1300.5 L293,1299.8 L295,1295.4 L297,1291.4 L299,1284.2 L301,1279.3 L303,1275.8 L305,1274.9 L307,1273.3 L309,1272 L311,1273.2 L313,1273.1 L315,1274.4 L317,1274 L319,1275.8 L321,1272.8 L323,1267.9 L325,1261.9 L327,1258.8 L329,1252.5 L331,1248.9 L333,1248.2 L335,1249.6 L337,1247.9 L339,1247.5 L341,1247.1 L343,1246.1 L345,1244.8 L347,1246.3 L349,1248.5 L351,1249 L353,1251.7 L355,1256.3 L357,1258.3 L359,1262.1 L361,1266.5 L363,1268.5 L365,1269 L367,1269.3 L369,1268.7 L371,1270.2 L373,1273.5 L375,1275.5 L377,1275.4 L379,1278 L381,1280.7 L383,1284.1 L385,1288.5 L387,1290.1 L389,1294.1 L391,1296 L393,1299.8 L395,1303.1 L397,1297.9 L399,1293.9 L401,1289.5 L403,1285.2 L405,1282.3 L407,1277.3 L409,1277.3 L411,1279.4 L413,1282.2 L415,1284.8 L417,1284.3 L419,1279.6 L421,1277.2 L423,1276.1 L425,1273.6 L427,1273.9 L429,1279.1 L431,1284.1 L433,1290.3 L435,1294.9 L437,1293 L439,1293.4 L441,1293.8 L443,1292.5 L445,1282.8 L447,1275.6 L449,1270 L451,1263.3 L453,1262.8 L455,1261.2 L457,1259.6 L459,1256.6 L461,1255.4 L463,1254.7 L465,1251 L467,1252.1 L469,1250.1 L471,1249.4 L473,1251.1 L475,1248.9 L477,1251.1 L479,1251.1 L481,1252.3 L483,1251.4 L485,1251.7 L487,1252.2 L489,1253.5 L491,1254.4 L493,1255.1 L495,1258.2 L497,1258.4 L499,1259.8 L501,1261.2 L503,1262.7 L505,1263.9 L507,1259.1 L509,1253.7 L511,1251.2 L513,1246.7 L515,1243.1 L517,1245.1 L519,1247.4 L521,1249.5 L523,1251.5 L525,1251.3 L527,1248 L529,1245.6 L531,1239.7 L533,1236.9 L535,1233 L537,1234.5 L539,1237.6 L541,1239.7 L543,1237.7 L545,1233.9 L547,1230.6 L549,1225.2 L551,1224.1 L553,1228.7 L555,1233.3 L557,1235.7 L559,1237.9 L561,1238.7 L563,1239.4 L565,1237.8 L567,1237.3 L569,1236.9 L571,1234.3 L573,1235.8 L575,1240.8 L577,1246.4 L579,1252.9 L581,1258.3 L583,1264.8 L585,1271.3 L587,1268.2 L589,1267.7 L591,1266.5 L593,1264.9 L595,1261.8 L597,1259.7 L599,1257.6 L601,1254.9 L603,1251.3 L605,1249.9 L607,1247.3 L609,1245 L611,1243.6 L613,1243.2 L615,1245.5 L617,1245.9 L619,1247.4 L621,1246.2 L623,1243.4 L625,1241.5 L627,1238.2 L629,1234.8 L631,1235.9 L633,1238.7 L635,1241.6 L637,1244.5 L639,1248.1 L641,1249.2 L643,1246.9 L645,1245.8 L647,1244.5 L649,1241.9 L651,1240.1 L653,1240.5 L655,1238.1 L657,1236.2 L659,1234.9 L661,1233.3 L663,1231.6 L665,1229.1 L667,1228.9 L669,1230.2 L671,1230.6 L673,1228.8 L675,1229.8 L677,1233.8 L679,1235.9 L681,1241.2 L683,1240.8 L685,1233.5 L687,1226.9 L689,1219.5 L691,1214.1 L693,1215.4 L695,1215.3 L697,1214.1 L699,1215.1 L701,1219.3 L703,1219.8 L705,1221.6 L707,1224.2 L709,1226.3 L711,1229 L713,1229.6 L715,1225.5 L717,1221.1 L719,1217.7 L721,1214.3 L723,1211.5 L725,1208.5 L727,1209.3 L729,1207.6 L731,1206.4 L733,1205.7 L735,1203.4 L737,1207.2 L739,1211.3 L741,1214.3 L743,1218.7 L745,1221.4 L747,1221.7 L749,1220.9 L751,1219.8 L753,1218.5 L755,1216.5 L757,1213.3 L759,1209.5 L761,1207.4 L763,1204.5 L765,1201.4 L767,1205.3 L769,1210.4 L771,1217.2 L773,1222.2 L775,1220.8 L777,1219.9 L779,1218.5 L781,1219.7 L783,1218.9 L785,1218.3 L787,1224.1 L789,1230.5 L791,1235.7 L793,1239.8 L795,1243.5 L797,1246.3 L799,1247.2 L801,1250.4 L803,1251.4 L805,1255.5 L807,1258.3 L809,1260.8 L811,1262.6 L813,1265.8 L815,1269.2 L817,1274.1 L819,1277.9 L821,1278.2 L823,1274.6 L825,1271.4 L827,1269.3 L829,1266.4 L831,1269.3 L833,1272.9 L835,1274 L837,1271.8 L839,1269.2 L841,1266.6 L843,1263 L845,1264.6 L847,1268.5 L849,1272.5 L851,1277.9 L853,1271 L855,1267.1 L857,1261.4 L859,1257.3 L861,1257 L863,1254.3 L865,1254.7 L867,1253.3 L869,1254.1 L871,1251.5 L873,1250.5 L875,1250.4 L877,1254.4 L879,1259.8 L881,1263.5 L883,1268.6 L885,1269.5 L887,1266.1 L889,1262.2 L891,1257.9 L893,1254.2 L895,1255.3 L897,1259.7 L899,1262.1 L901,1265 L903,1267.6 L905,1270.6 L907,1274.3 L909,1277.3 L911,1282.5 L913,1285.7 L915,1289 L917,1290.7 L919,1289.7 L921,1289.1 L923,1286.5 L925,1275.6 L927,1268 L929,1262.9 L931,1271.8 L933,1281.4 L935,1287.3 L937,1287 L939,1286.8 L941,1285.9 L943,1283.8 L945,1283.8 L947,1284.6 L949,1285.1 L951,1283.2 L953,1278.9 L955,1273.6 L957,1269.6 L959,1265.4 L961,1262.6 L963,1257.8 L965,1258 L967,1259.5 L969,1260.1 L971,1262.2 L973,1262.2 L975,1264.7 L977,1267.3 L979,1270.7 L981,1277 L983,1280 L985,1285.5 L987,1292.1 L989,1297.3 L991,1302.7 L993,1307.2 L995,1311.9 L997,1316.2 L999,1321.3 L1001,1326.8 L1003,1330.4 L1005,1334.9 L1007,1347.8 L1009,1354.2 L1011,1362.4 L1013,1376 L1015,1381.4 L1017,1373 L1019,1367.5 L1021,1364.8 L1023,1364.1 L1025,1369.3 L1027,1370.4 L1029,1364.8 L1031,1366.7 L1033,1382.8 L1035,1410.4 L1037,1371.5 L1039,1346.5 L1041,1385.7 L1043,1376.2 L1045,1359 L1047,1362.2 L1049,1367.2 L1051,1384.7 L1053,1364.2 L1055,1340 L1057,1335 L1059,1330.5 L1061,1347.9 L1063,1391.2 L1065,1392.5 L1067,1371 L1069,1395 L1071,1400.8 L1073,1390 L1075,1395 L1077,1359 L1079,1344 L1081,1350 L1081,1360 L1079,1354 L1077,1369 L1075,1405 L1073,1400 L1071,1410.8 L1069,1405 L1067,1381 L1065,1402.5 L1063,1401.2 L1061,1357.9 L1059,1340.5 L1057,1345 L1055,1350 L1053,1374.2 L1051,1394.7 L1049,1377.2 L1047,1372.2 L1045,1369 L1043,1386.2 L1041,1395.7 L1039,1356.5 L1037,1381.5 L1035,1420.4 L1033,1392.8 L1031,1376.7 L1029,1374.8 L1027,1380.4 L1025,1379.3 L1023,1374.1 L1021,1374.8 L1019,1377.5 L1017,1383 L1015,1391.4 L1013,1386 L1011,1372.4 L1009,1364.2 L1007,1357.8 L1005,1359.9 L1003,1357.4 L1001,1355.8 L999,1352.3 L997,1349.2 L995,1346.9 L993,1344.2 L991,1341.7 L989,1338.3 L987,1335.1 L985,1330.5 L983,1326.4 L981,1324.9 L979,1319.9 L977,1318 L975,1316.8 L973,1315.8 L971,1317.2 L969,1316.5 L967,1317.3 L965,1317.3 L963,1318.5 L961,1324.8 L959,1329 L957,1334.6 L955,1340 L953,1346.8 L951,1352.5 L949,1355.1 L947,1354.6 L945,1353.8 L943,1353.8 L941,1355.9 L939,1356.8 L937,1357 L935,1357.3 L933,1351.4 L931,1341.8 L929,1332.9 L927,1338 L925,1345.6 L923,1356.5 L921,1359.1 L919,1359.7 L917,1360.7 L915,1359 L913,1355.7 L911,1352.5 L909,1347.3 L907,1344.3 L905,1340.6 L903,1337.6 L901,1335 L899,1332.2 L897,1330 L895,1325.8 L893,1324.9 L891,1328.8 L889,1333.3 L887,1337.4 L885,1341 L883,1340.3 L881,1335.4 L879,1331.9 L877,1326.7 L875,1322.9 L873,1323.2 L871,1324.4 L869,1327.2 L867,1326.6 L865,1328.2 L863,1328 L861,1330.9 L859,1331.4 L857,1335.7 L855,1341.6 L853,1345.7 L851,1352.8 L849,1348 L847,1345 L845,1342.1 L843,1341.5 L841,1346.1 L839,1349.7 L837,1353.3 L835,1356.5 L833,1356.4 L831,1353.8 L829,1351.9 L827,1355.8 L825,1358.9 L823,1363.1 L821,1367.7 L819,1368.8 L817,1366.6 L815,1363.4 L813,1361.6 L811,1360.1 L809,1360 L807,1359.1 L805,1358 L803,1355.6 L801,1356.2 L799,1354.7 L797,1355.5 L795,1354.4 L793,1352.3 L791,1349.9 L789,1345.5 L787,1338.9 L785,1333 L783,1333.5 L781,1334.2 L779,1332.9 L777,1334.2 L775,1335 L773,1336.3 L771,1331.1 L769,1324.2 L767,1319 L765,1315 L763,1318 L761,1320.8 L759,1322.8 L757,1326.5 L755,1329.5 L753,1331.5 L751,1332.6 L749,1333.6 L747,1334.3 L745,1333.9 L743,1331.1 L741,1326.5 L739,1323.5 L737,1319.3 L735,1315.4 L733,1317.5 L731,1318.2 L729,1319.2 L727,1320.8 L725,1319.9 L723,1322.7 L721,1325.5 L719,1328.8 L717,1332 L715,1336.3 L713,1340.3 L711,1339.6 L709,1336.8 L707,1334.6 L705,1331.9 L703,1329.9 L701,1329.3 L699,1325.1 L697,1324.1 L695,1325.3 L693,1325.4 L691,1324.1 L689,1329.5 L687,1336.9 L685,1343.5 L683,1350.8 L681,1351.2 L679,1345.9 L677,1343.8 L675,1339.8 L673,1338.8 L671,1340.6 L669,1340.2 L667,1338.9 L665,1339.1 L663,1341.6 L661,1343.3 L659,1344.9 L657,1346.2 L655,1348.1 L653,1350.5 L651,1350.1 L649,1351.9 L647,1354.5 L645,1355.8 L643,1356.9 L641,1359.2 L639,1358.1 L637,1354.5 L635,1351.6 L633,1348.7 L631,1345.9 L629,1344.8 L627,1348.2 L625,1351.5 L623,1353.4 L621,1356.2 L619,1357.4 L617,1355.9 L615,1355.5 L613,1353.2 L611,1353.6 L609,1355 L607,1357.3 L605,1359.9 L603,1361.3 L601,1364.9 L599,1367.8 L597,1370.3 L595,1372.8 L593,1376.3 L591,1378.3 L589,1379.9 L587,1380.8 L585,1384.3 L583,1378.2 L581,1372.1 L579,1367.1 L577,1361 L575,1355.8 L573,1351.2 L571,1350.1 L569,1353.1 L567,1353.9 L565,1354.8 L563,1356.8 L561,1356.5 L559,1356.1 L557,1354.3 L555,1352.3 L553,1348.1 L551,1343.9 L549,1345.5 L547,1351.5 L545,1355.4 L543,1359.8 L541,1362.4 L539,1360.9 L537,1358.4 L535,1357.5 L533,1362 L531,1365.4 L529,1371.9 L527,1374.9 L525,1378.8 L523,1379.6 L521,1378.2 L519,1376.7 L517,1375 L515,1373.6 L513,1377.8 L511,1382.9 L509,1386 L507,1392 L505,1397.4 L503,1396.8 L501,1395.9 L499,1395.1 L497,1394.3 L495,1394.7 L493,1392.2 L491,1392.1 L489,1391.8 L487,1391.1 L485,1391.2 L483,1391.5 L481,1393 L479,1392.4 L477,1393 L475,1391.4 L473,1394.2 L471,1393.1 L469,1394.4 L467,1397 L465,1396.5 L463,1400.8 L461,1402.1 L459,1403.9 L457,1407.5 L455,1409.7 L453,1411.9 L451,1413 L449,1420.2 L447,1426.2 L445,1433.8 L443,1443.9 L441,1445.6 L439,1445.6 L437,1445.6 L435,1447.9 L433,1443.7 L431,1437.9 L429,1433.3 L427,1428.5 L425,1428.6 L423,1431.5 L421,1433 L419,1435.8 L417,1440.9 L415,1441.8 L413,1439.6 L411,1437.2 L409,1435.5 L407,1435.9 L405,1441.3 L403,1444.6 L401,1449.3 L399,1454.1 L397,1458.4 L395,1463.9 L393,1460.9 L391,1457.4 L389,1455.9 L387,1452.2 L385,1450.9 L383,1446.8 L381,1443.8 L379,1441.4 L377,1439.1 L375,1439.5 L373,1437.8 L371,1434.9 L369,1433.6 L367,1434.6 L365,1434.6 L363,1434.4 L361,1432.8 L359,1428.7 L357,1425.1 L355,1423.5 L353,1419.2 L351,1416.8 L349,1416.7 L347,1415.1 L345,1414 L343,1415.8 L341,1417.3 L339,1418.1 L337,1419 L335,1421.2 L333,1420.2 L331,1421.5 L329,1425.5 L327,1432.3 L325,1435.9 L323,1442.3 L321,1447.8 L319,1451.3 L317,1450 L315,1450.8 L313,1450 L311,1450.6 L309,1449.9 L307,1451.6 L305,1453.7 L303,1455.1 L301,1459 L299,1464.4 L297,1472.2 L295,1476.8 L293,1481.8 L291,1483 L289,1482 L287,1482.5 L285,1480.9 L283,1480.1 L281,1477.7 L279,1474.9 L277,1473 L275,1474.2 L273,1476.6 L271,1480.2 L269,1484.1 L267,1486.2 L265,1490.4 L263,1493.1 L261,1492.9 L259,1492.7 L257,1490.9 L255,1491 L253,1489.3 L251,1487.9 L249,1491 L247,1491.2 L245,1493.5 L243,1494.8 L241,1493.1 L239,1495 L237,1495.6 L235,1498.3 L233,1498.7 L231,1496.4 L229,1497.2 L227,1496.1 L225,1497.4 L223,1500 L221,1504.9 L219,1511.3 L217,1515.9 L215,1522 L213,1518.1 L211,1516.4 L209,1515.7 L207,1513.6 L205,1511.3 L203,1516.2 L201,1519.2 L199,1523.4 L197,1526.1 L195,1525.7 L193,1523.1 L191,1525.2 L189,1525.8 L187,1530.5 L185,1535.8 L183,1539.3 L181,1537.1 L179,1535.3 L177,1534.2 L175,1536.5 L173,1537.7 L171,1540.1 L169,1541.3 L167,1544.6 L165,1547.9 L163,1550 L161,1551.9 L159,1555.4 L157,1556.9 L155,1558.9 L153,1550.7 L151,1539.8 L149,1527 L147,1517.8 L145,1516.6 L143,1520.4 L141,1526.6 L139,1533.3 L137,1537.8 L135,1544.6 L133,1549.1 Z" fill="#d2d9b4" style="mix-blend-mode:multiply"/>
<path d="M133,1420 L133.4,1421.8 L134,1424 L135,1423.8 L136.4,1419.2 L138.1,1412.2 L140,1405 L142.1,1397.3 L144.3,1389.5 L146.2,1385 L147.6,1385.2 L148.8,1388.7 L150,1395 L151.5,1406 L153.1,1419.7 L155,1430 L157.4,1433.8 L160.1,1434.2 L162.5,1433.8 L164.3,1433.4 L165.7,1432.2 L167.5,1430 L170,1426.1 L172.8,1421.2 L175,1417.5 L176.1,1415.9 L176.6,1415.5 L177.5,1416.2 L179.3,1419.3 L181.5,1423.4 L183.8,1425 L185.8,1421.4 L187.8,1415.3 L190,1411.2 L192.4,1412.1 L195,1415.1 L197.5,1416.2 L199.9,1412.7 L202.3,1407.3 L205,1405 L208.2,1409.9 L211.7,1417.8 L215,1421.2 L218,1415.2 L220.9,1404.7 L223.8,1397.5 L226.6,1397.7 L229.5,1401.2 L232.5,1403.8 L235.6,1403.7 L238.9,1402.6 L242.5,1401.2 L246.7,1399.3 L251.1,1397 L255,1396.2 L257.7,1399.2 L259.8,1403.6 L262.5,1405 L266.6,1400.1 L271.2,1392.2 L275,1386.2 L277.1,1384 L278.4,1383.7 L280,1385 L282.4,1389 L285,1394.7 L287.5,1398.8 L289.6,1400.3 L291.5,1400.2 L293.8,1397.5 L296.5,1390.2 L299.6,1380.3 L302.5,1372.5 L305.1,1368.7 L307.5,1366.9 L310,1366.2 L312.5,1367.5 L315,1369.8 L317.5,1370 L320,1366.4 L322.5,1360.8 L325,1355 L327.6,1349 L330.2,1342.9 L332.5,1338.8 L334.2,1338.1 L335.6,1339.4 L337.5,1340 L340.6,1338.6 L344.2,1336.4 L347.5,1335 L350.1,1334.4 L352.4,1334.5 L355,1336.2 L358.3,1341.1 L361.9,1347.6 L365,1352.5 L366.9,1353.8 L368.3,1353.5 L370,1353.8 L372.2,1354.9 L374.7,1356.5 L377.5,1360 L380.7,1366.8 L384.3,1375.4 L387.5,1382.5 L390.2,1387.1 L392.7,1390.1 L395,1391.2 L397.2,1390 L399.2,1386.8 L401.2,1382.5 L403.3,1375.8 L405.3,1368 L407.5,1363.8 L409.9,1366.9 L412.4,1373.6 L415,1377.5 L417.9,1374.9 L421,1369.4 L423.8,1366.2 L426.1,1367.5 L428.1,1371 L430,1375 L431.7,1379.8 L433.2,1385.2 L435,1388.8 L437.3,1390.2 L439.9,1389.8 L442.5,1386.2 L445,1377.1 L447.5,1364.7 L450,1355 L452.4,1351 L454.8,1349.7 L457.5,1347.5 L460.5,1342.6 L463.7,1336.9 L467.5,1332.5 L471.9,1330.5 L476.8,1329.8 L482.5,1330 L489.8,1332.3 L498,1335.5 L505,1335 L510.1,1326.9 L514.1,1315.1 L517.5,1307.5 L520.3,1309.2 L522.5,1315.1 L525,1317.5 L528.2,1311.8 L531.8,1302.5 L535,1296.2 L537.7,1296.9 L540.1,1300.5 L542.5,1301.2 L545,1295.1 L547.5,1286.2 L550,1281.2 L552.4,1284.5 L554.8,1291.9 L557.5,1297.5 L560.7,1299.3 L564.3,1299.4 L567.5,1298.8 L570,1296 L572.3,1292.6 L575,1293.8 L578.6,1304.4 L582.5,1319.7 L586.2,1330 L589.1,1331 L591.7,1327 L595,1321.2 L599.7,1313.1 L605.1,1303.1 L610,1296.2 L613.7,1296.2 L616.9,1299.3 L620,1300 L623.4,1294.6 L626.9,1286.9 L630,1282.5 L632.7,1284.9 L635.1,1290.6 L637.5,1295 L639.9,1296.5 L642.3,1296.6 L645,1295 L647.9,1291 L651,1285.3 L655,1280 L660.6,1274.9 L667.1,1270.2 L672.5,1268.8 L675.7,1274.3 L677.9,1283 L680,1286.2 L682.3,1278.2 L684.6,1264.7 L687.5,1255 L691.3,1253 L695.6,1254.7 L700,1257.5 L704.3,1261.9 L708.5,1267.4 L712.5,1270 L716.1,1266.8 L719.4,1260.7 L722.7,1256 L726.1,1254.8 L729.4,1254.9 L732.2,1254.4 L734,1251.4 L735.3,1247.6 L736.9,1246.5 L739.4,1250.5 L742.2,1257.1 L744.8,1262.3 L747,1264.5 L749.1,1265.4 L751.2,1265.5 L753.2,1265.6 L755.3,1265 L757.5,1262.3 L759.9,1254.5 L762.5,1244.5 L765.4,1240.2 L769,1247.4 L772.9,1260.3 L776.5,1268.7 L779.3,1266.5 L781.6,1260 L784.4,1257.6 L787.8,1264.3 L791.6,1275.2 L795.5,1284.5 L799.6,1289.6 L803.9,1293 L808.2,1297.2 L812.6,1303.8 L817.1,1311 L820.8,1316.2 L823.3,1316.9 L825.1,1315.5 L827.2,1316.2 L830.3,1322.2 L833.7,1330.3 L836.7,1335.2 L838.9,1333.3 L840.8,1328.3 L843,1325.7 L845.9,1329.8 L849.2,1336.3 L852.5,1338.3 L855.5,1331.2 L858.6,1319.5 L862,1309.8 L866.1,1304 L870.6,1300.1 L874.7,1298.7 L878,1301.9 L880.9,1307.6 L884.2,1309.8 L888.3,1304.3 L892.7,1295.2 L896.8,1289.2 L900.1,1288.8 L903,1291.4 L906.3,1295.6 L910.4,1303.5 L914.9,1312.9 L919,1316.2 L922.4,1306.1 L925.4,1289.9 L928.5,1281.3 L931.8,1288.6 L935.2,1303.5 L938.7,1315.3 L942.4,1319.6 L946.1,1320.8 L949.3,1320.7 L951.4,1320.8 L952.9,1319.7 L954.7,1315.3 L957.3,1304.3 L960.2,1290.1 L962.7,1280.7 L964.4,1280.6 L965.7,1285.2 L967,1289 L968.3,1290.2 L969.6,1290.6 L970.7,1290 L971.5,1287.6 L972.3,1284.2 L973.3,1282 L975,1281.9 L977,1282.9 L978.7,1284.7 L979.7,1287.5 L980.3,1291 L981.3,1294 L982.9,1296 L984.9,1297.5 L986.7,1299.3 L988.1,1301.2 L989.4,1303.3 L990.7,1307.3 L992,1314.5 L993.3,1323.5 L994.7,1331.3 L996.3,1336.7 L998.1,1340.9 L1000,1344.5 L1002.3,1347.3 L1004.7,1349.4 L1006.8,1352 L1008.2,1355.2 L1009.4,1358.8 L1010.5,1364 L1011.8,1373 L1013,1383.6 L1014.2,1389.5 L1015.5,1387 L1016.7,1379.8 L1018,1373.8 L1019.5,1370.5 L1021,1368.3 L1022.5,1367.8 L1023.8,1370.6 L1025,1375.2 L1026.2,1377.5 L1027.6,1374.7 L1028.9,1369.7 L1030,1367 L1030.8,1367.8 L1031.5,1370.9 L1032.2,1377.5 L1033.2,1391.2 L1034.3,1408.3 L1035.2,1418.8 L1035.9,1418.9 L1036.4,1412.3 L1036.8,1400 L1037,1376.5 L1037.2,1347.2 L1037.5,1329.5 L1038.2,1332.8 L1039,1347.6 L1039.8,1362.5 L1040.2,1376.2 L1040.6,1389.9 L1041.2,1396.3 L1042.3,1389 L1043.7,1374.4 L1045,1364 L1046.3,1362.4 L1047.6,1365.1 L1048.8,1370 L1049.8,1380 L1050.8,1392.3 L1051.8,1396.3 L1052.5,1384.1 L1053.2,1363.5 L1054,1347.5 L1054.9,1341.9 L1056,1340.9 L1057,1340 L1058,1335.8 L1059.1,1331.7 L1060,1333.2 L1060.8,1344.5 L1061.6,1361.4 L1062.2,1377.5 L1062.8,1393.4 L1063.2,1408.6 L1063.8,1415 L1064.7,1404.3 L1065.8,1384.8 L1066.8,1373 L1067.6,1377.1 L1068.4,1388.8 L1069,1400 L1069.3,1409.8 L1069.4,1419.1 L1069.8,1422.5 L1070.4,1415 L1071.1,1401.7 L1072,1392.5 L1072.9,1394.5 L1074,1400.7 L1075,1400 L1076,1384.2 L1077,1361.6 L1078,1346 L1079.1,1344.7 L1080.2,1350.3 L1081,1355" fill="none" stroke="#5e7e06" stroke-width="4.5" stroke-linejoin="round"/>
<path d="M207.5,1400.5 L209,1400.4 L210.5,1401.1 L212,1401.7 L213.5,1399.1 L215,1398.4 L216.5,1398.4 L218,1400 L219.5,1397.1 L221,1399 L222.5,1398.1 L224,1395.5 L225.5,1396.6 L227,1395.8 L228.5,1395.2 L230,1397 L231.5,1393 L233,1392.4 L234.5,1395.7 L236,1393.2 L237.5,1392 L239,1392.2 L240.5,1392 L242,1394 L243.5,1390.7 L245,1390.3 L246.5,1391.5 L248,1391 L249.5,1392.2 L251,1391.4 L252.5,1389.1 L254,1388.2 L255.5,1390.3 L257,1390.6 L258.5,1386.4 L260,1388.9 L261.5,1389.1 L263,1387.8 L264.5,1385.8 L266,1387.7 L267.5,1387.1 L269,1384.6 L270.5,1386 L272,1384 L273.5,1383.2 L275,1384.5 L276.5,1384.6 L278,1385 L279.5,1386.1 L281,1387 L282.5,1387.6 L284,1387.8 L285.5,1388 L287,1387.3 L288.5,1385.5 L290,1385.1 L291.5,1387 L293,1386.8 L294.5,1387.4 L296,1385.2 L297.5,1385.7 L299,1388.7 L300.5,1387.6 L302,1388.1 L303.5,1385.8 L305,1387.1 L306.5,1389 L308,1387.8 L309.5,1389 L311,1385.7 L312.5,1386.6 L314,1387.8 L315.5,1386.2 L317,1387.5 L318.5,1386.4 L320,1384.5 L321.5,1384.2 L323,1387.6 L324.5,1384 L326,1384.2 L327.5,1384.6 L329,1386 L330.5,1386.4 L332,1384.7 L333.5,1384.6 L335,1385.7 L336.5,1383.5 L338,1383.7 L339.5,1384.5 L341,1384.4 L342.5,1381.9 L344,1381.9 L345.5,1381.8 L347,1383.9 L348.5,1383.5 L350,1384.4 L351.5,1383.3 L353,1381 L354.5,1382.8 L356,1383.4 L357.5,1380.6 L359,1379 L360.5,1380.3 L362,1379.6 L363.5,1379 L365,1378.2 L366.5,1378.2 L368,1381 L369.5,1377.4 L371,1379.5 L372.5,1377.6 L374,1377.3 L375.5,1379.5 L377,1377.2 L378.5,1376.5 L380,1377.3 L381.5,1377.5 L383,1376.1 L384.5,1376.7 L386,1374.1 L387.5,1373.8 L389,1373.9 L390.5,1372.1 L392,1372.4 L393.5,1370.6 L395,1368.5 L396.5,1367.7 L398,1369.6 L399.5,1368.7 L401,1368.8 L402.5,1367 L404,1365.8 L405.5,1363.5 L407,1365.6 L408.5,1362 L410,1362.6 L411.5,1360.9 L413,1361.2 L414.5,1360.3 L416,1360.1 L417.5,1360.6 L419,1359.3 L420.5,1357.5 L422,1359.2 L423.5,1358.5 L425,1358.3 L426.5,1354.6 L428,1356.4 L429.5,1357 L431,1353.9 L432.5,1353.2 L434,1355.1 L435.5,1352.8 L437,1352.4 L438.5,1353.5 L440,1351.3 L441.5,1350 L443,1349.6 L444.5,1349.6 L446,1350.3 L447.5,1348.2 L449,1349.1 L450.5,1345.5 L452,1345.5 L453.5,1346.2 L455,1344.9 L456.5,1344.2 L458,1345.2 L459.5,1341.9 L461,1340.7 L462.5,1339.4 L464,1340.4 L465.5,1338.9 L467,1338.9 L468.5,1336.3 L470,1335.5 L471.5,1335.7 L473,1335.8 L474.5,1332.7 L476,1333.8 L477.5,1331.1 L479,1329 L480.5,1329.2 L482,1325.6 L483.5,1325.8 L485,1325.4 L486.5,1322.8 L488,1320.6 L489.5,1318.3 L491,1318.9 L492.5,1316 L494,1315.4 L495.5,1314.9 L497,1315.6 L498.5,1313.6 L500,1312.1 L501.5,1312.5 L503,1309.4 L504.5,1308.9 L506,1309.1 L507.5,1307.7 L509,1305.5 L510.5,1305.3 L512,1306.1 L513.5,1302.9 L515,1303.8 L516.5,1300.3 L518,1303 L519.5,1301 L521,1299.2 L522.5,1301.6 L524,1300.7 L525.5,1297.6 L527,1298.1 L528.5,1298.9 L530,1300.7 L531.5,1297.1 L533,1296.6 L534.5,1297.4 L536,1296.2 L537.5,1297.4 L539,1297.8 L540.5,1297.5 L542,1296.9 L543.5,1297.1 L545,1300.9 L546.5,1300 L548,1300.8 L549.5,1301.5 L551,1303 L552.5,1304.5 L554,1304.8 L555.5,1305.1 L557,1304.1 L558.5,1304.3 L560,1305 L561.5,1309 L563,1306.8 L564.5,1309.8 L566,1312.1 L567.5,1310.7 L569,1311.9 L570.5,1313 L572,1316.1 L573.5,1316 L575,1317.6 L576.5,1315.5 L578,1319.4 L579.5,1319.4 L581,1320.4 L582.5,1323.1 L584,1323.9 L585.5,1325.8 L587,1326.2 L588.5,1328 L590,1327.2 L591.5,1327.9 L593,1329.1 L594.5,1328 L596,1326.9 L597.5,1328.9 L599,1330.3 L600.5,1330.5 L602,1327.7 L603.5,1329 L605,1328.6 L606.5,1329.2 L608,1332 L609.5,1330.4 L611,1330.5 L612.5,1330.9 L614,1332.1 L615.5,1333.5 L617,1332.8 L618.5,1332.7 L620,1333.4 L621.5,1334 L623,1337.2 L624.5,1334.7 L626,1336.2 L627.5,1332 L629,1333.1 L630.5,1329.5 L632,1329.9 L633.5,1326.9 L635,1323.9 L636.5,1322.4 L638,1323.6 L639.5,1321 L641,1319.2 L642.5,1317.1 L644,1316.8 L645.5,1314.5 L647,1311.6 L648.5,1312.6 L650,1310.3 L651.5,1311.2 L653,1308.8 L654.5,1308.5 L656,1304.7 L657.5,1305.8 L659,1304.2 L660.5,1304 L662,1302.9 L663.5,1300.4 L665,1299.4 L666.5,1298.9 L668,1295.7 L669.5,1295.6 L671,1295 L672.5,1292.6 L674,1290.8 L675.5,1290.4 L677,1289.2 L678.5,1284.7 L680,1282.3 L681.5,1282.8 L683,1279.3 L684.5,1280.9 L686,1277.3 L687.5,1275.9 L689,1275.4 L690.5,1273.9 L692,1269.4 L693.5,1269 L695,1266.2 L696.5,1266.4 L698,1264.1 L699.5,1266 L701,1263 L702.5,1262.1 L704,1263.2 L705.5,1261.9 L707,1258.9 L708.5,1258.6 L710,1258.3 L711.5,1255.1 L713,1253.7 L714.5,1255.4 L716,1251.4 L717.5,1252.3 L719,1251.2 L720.5,1249.4 L722,1247.2 L723.5,1248 L725,1246.5 L726.5,1242.4 L728,1244.5 L729.5,1242.3 L731,1239.7 L732.5,1238 L734,1236.5 L735.5,1238.1 L737,1237.1 L738.5,1234.1 L740,1232.3 L741.5,1230.8 L743,1231 L744.5,1229.5 L746,1227.4 L747.5,1227.3 L749,1228.3 L750.5,1224.1 L752,1224.4 L753.5,1223.8 L755,1221.2 L756.5,1219.6 L758,1218.7 L759.5,1218.5 L761,1223 L762.5,1223.7 L764,1224.3 L765.5,1226.2 L767,1225.1 L768.5,1225.9 L770,1229.6 L771.5,1229.7 L773,1232.2 L774.5,1230.9 L776,1232.1 L777.5,1234.4 L779,1236 L780.5,1234.1 L782,1235.5 L783.5,1235.5 L785,1238.7 L786.5,1241.1 L788,1240.7 L789.5,1240 L791,1243.2 L792.5,1244 L794,1242.9 L795.5,1247.1 L797,1247.1 L798.5,1247.4 L800,1247.8 L801.5,1248.1 L803,1250.3 L804.5,1250.9 L806,1251.4 L807.5,1254 L809,1255.1 L810.5,1257.3 L812,1258.3 L813.5,1257.3 L815,1259.3 L816.5,1258.9 L818,1260.2 L819.5,1261.7 L821,1264.3 L822.5,1261.3 L824,1263.8 L825.5,1264 L827,1266.6 L828.5,1268 L830,1266.8 L831.5,1266 L833,1268.8 L834.5,1269.5 L836,1270.6 L837.5,1271.8 L839,1271.3 L840.5,1272.4 L842,1274 L843.5,1271.8 L845,1273.4 L846.5,1275.9 L848,1277.9 L849.5,1278.5 L851,1276.6 L852.5,1280.1 L854,1277.5 L855.5,1278.3 L857,1277.3 L858.5,1279.2 L860,1278.5 L861.5,1279.8 L863,1281.1 L864.5,1277.9 L866,1280.2 L867.5,1280.1 L869,1278.9 L870.5,1278.1 L872,1281.9 L873.5,1281 L875,1280.9 L876.5,1279 L878,1282.3 L879.5,1280.4 L881,1280.8 L882.5,1281.4 L884,1281.1 L885.5,1283.4 L887,1281.7 L888.5,1282.9 L890,1283.6 L891.5,1284.5 L893,1281.8 L894.5,1282.7 L896,1285.5 L897.5,1284.4 L899,1283.8 L900.5,1286.1 L902,1283.4 L903.5,1284.2 L905,1283.8 L906.5,1286.5 L908,1286.1 L909.5,1285.6 L911,1286.5 L912.5,1286 L914,1288.2 L915.5,1288.7 L917,1287.1 L918.5,1288.9 L920,1285.5 L921.5,1287.4 L923,1285.6 L924.5,1285.3 L926,1286.9 L927.5,1284.9 L929,1284.7 L930.5,1284.8 L932,1285.6 L933.5,1287.2 L935,1284.9 L936.5,1284.1 L938,1286.5 L939.5,1286.6 L941,1287.1 L942.5,1283.2 L944,1283.5 L945.5,1284.4 L947,1286.5 L948.5,1285.2 L950,1287.3 L951.5,1285.4 L953,1287.1 L954.5,1288.7 L956,1287.6 L957.5,1289.6 L959,1291.5 L960.5,1292.2 L962,1292.5 L963.5,1293.8 L965,1295.2 L966.5,1294.4 L968,1293.7 L969.5,1294.4 L971,1294.4 L972.5,1298.6 L974,1298 L975.5,1298.9 L977,1300.7 L978.5,1300.7 L980,1300.7 L981.5,1303 L983,1302.4 L984.5,1304.6 L986,1306.5 L987.5,1309.8 L989,1310.8 L990.5,1312.1 L992,1312.7 L993.5,1314.1 L995,1315.7 L996.5,1315.9 L998,1318.6 L999.5,1322.3 L1001,1323.5 L1002.5,1323.7 L1004,1327.4 L1005.5,1331.2 L1007,1331.7 L1008.5,1335.1 L1010,1338.8 L1011.5,1339.9 L1013,1345.6 L1014.5,1344.8 L1016,1350.9 L1017.5,1352.8 L1019,1354.5 L1020.5,1356.7 L1022,1361.2 L1023.5,1362.7 L1025,1362.9 L1026.5,1365.4 L1028,1366.7 L1029.5,1371 L1031,1372.3 L1032.5,1374 L1034,1377.7 L1035.5,1378 L1037,1379.7 L1038.5,1384.5 L1040,1387 L1041.5,1388.8 L1043,1389.9 L1044.5,1392.7 L1046,1395.5 L1047.5,1394.3 L1049,1397.5 L1050.5,1399.8 L1052,1403.5 L1053.5,1404.1 L1055,1407.9 L1056.5,1408 L1058,1412.9 L1059.5,1413 L1061,1415.8 L1062.5,1418.1 L1064,1421 L1064.7,1421 L1064.7,1505.2 L1064,1502.9 L1062.5,1501.4 L1061,1502.8 L1059.5,1502.5 L1058,1500.2 L1056.5,1497.4 L1055,1497 L1053.5,1496.4 L1052,1496.5 L1050.5,1494.3 L1049,1494.1 L1047.5,1492.7 L1046,1490.4 L1044.5,1489.1 L1043,1489.5 L1041.5,1485.5 L1040,1486.1 L1038.5,1484.9 L1037,1482.2 L1035.5,1480.2 L1034,1478.3 L1032.5,1475.5 L1031,1475 L1029.5,1474.1 L1028,1474.2 L1026.5,1469.2 L1025,1470.6 L1023.5,1466.9 L1022,1468 L1020.5,1463.6 L1019,1464.2 L1017.5,1460.1 L1016,1459.6 L1014.5,1453.6 L1013,1453.7 L1011.5,1450.8 L1010,1447.4 L1008.5,1444.8 L1007,1444.2 L1005.5,1438.4 L1004,1436.8 L1002.5,1437 L1001,1432.5 L999.5,1431.3 L998,1428.4 L996.5,1429 L995,1427.6 L993.5,1424.4 L992,1424.3 L990.5,1420.6 L989,1418.7 L987.5,1418.4 L986,1416.2 L984.5,1414.5 L983,1410.8 L981.5,1411.5 L980,1410.6 L978.5,1408.3 L977,1407.7 L975.5,1407.2 L974,1406.9 L972.5,1405.1 L971,1403.5 L969.5,1403.7 L968,1404.8 L966.5,1401.9 L965,1401.1 L963.5,1401.7 L962,1399.2 L960.5,1402.1 L959,1399.5 L957.5,1398.2 L956,1397.6 L954.5,1398.2 L953,1397.4 L951.5,1397.5 L950,1395.6 L948.5,1397 L947,1394 L945.5,1395 L944,1397 L942.5,1396.3 L941,1396.9 L939.5,1397.9 L938,1397.1 L936.5,1395 L935,1394.7 L933.5,1397.9 L932,1395.4 L930.5,1395.6 L929,1397.9 L927.5,1398 L926,1395.9 L924.5,1397.3 L923,1399.4 L921.5,1398.7 L920,1398.7 L918.5,1399.9 L917,1398.2 L915.5,1398.9 L914,1400.1 L912.5,1397.1 L911,1399.9 L909.5,1399.1 L908,1398.4 L906.5,1401.1 L905,1399.9 L903.5,1399.3 L902,1400.3 L900.5,1398.8 L899,1398.9 L897.5,1398.4 L896,1399.4 L894.5,1401.5 L893,1400.9 L891.5,1401.8 L890,1400 L888.5,1401.5 L887,1401.9 L885.5,1403.3 L884,1403.6 L882.5,1401.8 L881,1404.9 L879.5,1404.4 L878,1405.4 L876.5,1402.8 L875,1404.5 L873.5,1405.7 L872,1404.6 L870.5,1407.1 L869,1409.6 L867.5,1406.4 L866,1410.9 L864.5,1409.3 L863,1409.2 L861.5,1409.5 L860,1410.7 L858.5,1411.7 L857,1412.3 L855.5,1412.4 L854,1413.3 L852.5,1413.9 L851,1413.1 L849.5,1413 L848,1413.3 L846.5,1414.5 L845,1412 L843.5,1413 L842,1413 L840.5,1413.1 L839,1410.8 L837.5,1409.6 L836,1410.4 L834.5,1411.1 L833,1409.1 L831.5,1409.4 L830,1409.4 L828.5,1411.4 L827,1410.9 L825.5,1410.2 L824,1408.6 L822.5,1407.6 L821,1407.7 L819.5,1406.7 L818,1405.2 L816.5,1406.5 L815,1402.4 L813.5,1404.2 L812,1401.9 L810.5,1400.3 L809,1397.9 L807.5,1396.5 L806,1396.2 L804.5,1393.9 L803,1393.7 L801.5,1391.5 L800,1392.6 L798.5,1390.8 L797,1386.9 L795.5,1387.8 L794,1388.3 L792.5,1383.9 L791,1382.3 L789.5,1381.7 L788,1383.5 L786.5,1382.1 L785,1381 L783.5,1381 L782,1377.6 L780.5,1379.1 L779,1377.4 L777.5,1377.1 L776,1376.1 L774.5,1373 L773,1372.3 L771.5,1371.4 L770,1372.1 L768.5,1368 L767,1369.2 L765.5,1367.9 L764,1367.9 L762.5,1365 L761,1365.8 L759.5,1363.4 L758,1363.5 L756.5,1363.8 L755,1367 L753.5,1366.4 L752,1366.4 L750.5,1365.2 L749,1367.9 L747.5,1369.1 L746,1369.2 L744.5,1368.1 L743,1369.3 L741.5,1372.2 L740,1371.8 L738.5,1371.3 L737,1373.2 L735.5,1371.5 L734,1372.9 L732.5,1375.9 L731,1377.2 L729.5,1375.8 L728,1378.9 L726.5,1377.5 L725,1379.6 L723.5,1379.9 L722,1382.3 L720.5,1382.5 L719,1384.7 L717.5,1386.2 L716,1386.5 L714.5,1385.4 L713,1388.9 L711.5,1388.8 L710,1387.2 L708.5,1388.9 L707,1391.3 L705.5,1393.3 L704,1395.3 L702.5,1395.9 L701,1394 L699.5,1397.3 L698,1397.2 L696.5,1398.6 L695,1398.2 L693.5,1401.1 L692,1405.2 L690.5,1405.8 L689,1407.7 L687.5,1411.1 L686,1412.1 L684.5,1412.7 L683,1415.3 L681.5,1418.8 L680,1420.5 L678.5,1418.5 L677,1421.4 L675.5,1421.7 L674,1423.3 L672.5,1422.6 L671,1425.1 L669.5,1426 L668,1425.4 L666.5,1426.5 L665,1427.2 L663.5,1425.9 L662,1426.6 L660.5,1428.2 L659,1428.1 L657.5,1430.1 L656,1429.6 L654.5,1433.6 L653,1431.8 L651.5,1433.5 L650,1432.5 L648.5,1434.3 L647,1436.8 L645.5,1437.3 L644,1437.5 L642.5,1439.7 L641,1440.6 L639.5,1439.1 L638,1440.2 L636.5,1443.8 L635,1443.1 L633.5,1446.2 L632,1446 L630.5,1448.8 L629,1446.6 L627.5,1448.4 L626,1452.5 L624.5,1454.2 L623,1455.6 L621.5,1454.3 L620,1457.1 L618.5,1456.8 L617,1457.5 L615.5,1455.1 L614,1456.9 L612.5,1456.7 L611,1455.8 L609.5,1454.7 L608,1454.7 L606.5,1456.3 L605,1456.6 L603.5,1457.4 L602,1457.1 L600.5,1457.3 L599,1457.2 L597.5,1456 L596,1454.4 L594.5,1456.4 L593,1454.2 L591.5,1454.1 L590,1454.6 L588.5,1455.4 L587,1455.1 L585.5,1455.5 L584,1455.1 L582.5,1456.9 L581,1454 L579.5,1451.4 L578,1453.7 L576.5,1450.5 L575,1451.4 L573.5,1447.7 L572,1449.7 L570.5,1445.9 L569,1446.1 L567.5,1446.4 L566,1443.4 L564.5,1445.5 L563,1443.6 L561.5,1443.2 L560,1443.3 L558.5,1439 L557,1441 L555.5,1439.6 L554,1439.7 L552.5,1436.6 L551,1435.9 L549.5,1436.1 L548,1436.2 L546.5,1435.8 L545,1433.8 L543.5,1433.8 L542,1432.7 L540.5,1435.1 L539,1432.4 L537.5,1431.6 L536,1434.4 L534.5,1434.6 L533,1434 L531.5,1437.5 L530,1439.1 L528.5,1437.6 L527,1440.2 L525.5,1442.8 L524,1440.6 L522.5,1444.4 L521,1443.8 L519.5,1444.4 L518,1448.4 L516.5,1446.4 L515,1448.4 L513.5,1450.3 L512,1453.4 L510.5,1454.5 L509,1456.5 L507.5,1457.1 L506,1456.7 L504.5,1459.3 L503,1461.7 L501.5,1460.3 L500,1462.8 L498.5,1465.8 L497,1465.2 L495.5,1467.1 L494,1467.6 L492.5,1472.3 L491,1470.4 L489.5,1474.8 L488,1474.8 L486.5,1478.4 L485,1480.3 L483.5,1480.1 L482,1482 L480.5,1483.6 L479,1486.5 L477.5,1486.9 L476,1489.6 L474.5,1493.2 L473,1493.5 L471.5,1496.4 L470,1497.6 L468.5,1500.4 L467,1497.5 L465.5,1501.2 L464,1503.1 L462.5,1503.9 L461,1502.7 L459.5,1502.2 L458,1504.5 L456.5,1504.3 L455,1506.9 L453.5,1507.1 L452,1509.7 L450.5,1509.5 L449,1511.9 L447.5,1512.5 L446,1512.3 L444.5,1514.3 L443,1512.2 L441.5,1513 L440,1513.9 L438.5,1516.7 L437,1516.4 L435.5,1517.9 L434,1517.8 L432.5,1521.4 L431,1523.2 L429.5,1524.1 L428,1522.7 L426.5,1525.6 L425,1524.9 L423.5,1528.2 L422,1529.3 L420.5,1528.5 L419,1529.6 L417.5,1529.8 L416,1533.2 L414.5,1532.8 L413,1535.1 L411.5,1536.6 L410,1535.4 L408.5,1538.1 L407,1539 L405.5,1540.5 L404,1539.5 L402.5,1540 L401,1542.9 L399.5,1544.3 L398,1544.9 L396.5,1544.3 L395,1547.8 L393.5,1548.4 L392,1546.7 L390.5,1548.5 L389,1550.9 L387.5,1552.4 L386,1550.6 L384.5,1554.1 L383,1552.8 L381.5,1552.7 L380,1554.6 L378.5,1555.3 L377,1555.5 L375.5,1555.5 L374,1556 L372.5,1556.7 L371,1557.2 L369.5,1558.5 L368,1558.3 L366.5,1559.1 L365,1558.8 L363.5,1559.3 L362,1557.7 L360.5,1560.1 L359,1559.6 L357.5,1559.4 L356,1558.4 L354.5,1562 L353,1561.5 L351.5,1559.9 L350,1562.6 L348.5,1562.5 L347,1559.6 L345.5,1563.2 L344,1562.2 L342.5,1560.6 L341,1562.8 L339.5,1562.1 L338,1563.6 L336.5,1564.2 L335,1562.5 L333.5,1561.8 L332,1561.1 L330.5,1563.2 L329,1562.3 L327.5,1563.9 L326,1565.4 L324.5,1562.9 L323,1563.5 L321.5,1563.6 L320,1565.3 L318.5,1565.6 L317,1564 L315.5,1564.3 L314,1566.1 L312.5,1563.6 L311,1567 L309.5,1566.1 L308,1567.7 L306.5,1567.1 L305,1567.8 L303.5,1566.5 L302,1565.8 L300.5,1568.5 L299,1565.8 L297.5,1566.7 L296,1567.3 L294.5,1565.8 L293,1566.7 L291.5,1566 L290,1567 L288.5,1567 L287,1567.3 L285.5,1566.9 L284,1568.3 L282.5,1568.3 L281,1570.7 L279.5,1569.9 L278,1567.5 L276.5,1570.8 L275,1568.8 L273.5,1570.7 L272,1569.4 L270.5,1571.1 L269,1571.6 L267.5,1569.1 L266,1568.5 L264.5,1569.1 L263,1571.2 L261.5,1571 L260,1570.3 L258.5,1571.3 L257,1569 L255.5,1569.7 L254,1569.6 L252.5,1570.3 L251,1570.4 L249.5,1570.1 L248,1568.8 L246.5,1569.3 L245,1569.2 L243.5,1570.5 L242,1570.4 L240.5,1571.7 L239,1571.2 L237.5,1571.4 L236,1570.2 L234.5,1569 L233,1568.2 L231.5,1568.3 L230,1571 L228.5,1571.1 L227,1570.4 L225.5,1569.1 L224,1568.6 L222.5,1570 L221,1568.4 L219.5,1569.2 L218,1569.7 L216.5,1571.8 L215,1569.5 L213.5,1571.5 L212,1571.6 L210.5,1571.4 L209,1570.3 L207.5,1570.1 Z" fill="#00701a" fill-opacity="0.22"/>
<path d="M207.5,1448.3 L209,1448.4 L210.5,1448.2 L212,1450.1 L213.5,1448 L215,1448.4 L216.5,1445.4 L218,1446.5 L219.5,1447.4 L221,1445.6 L222.5,1446.8 L224,1446 L225.5,1443.5 L227,1441.5 L228.5,1444 L230,1441 L231.5,1440.2 L233,1442.8 L234.5,1443 L236,1442.6 L237.5,1442.8 L239,1439.5 L240.5,1438.7 L242,1438.6 L243.5,1441.7 L245,1437.9 L246.5,1437.8 L248,1437 L249.5,1436.8 L251,1436.5 L252.5,1437.4 L254,1436.4 L255.5,1436.6 L257,1438.8 L258.5,1435.5 L260,1437.8 L261.5,1437.2 L263,1436.2 L264.5,1435.9 L266,1436.4 L267.5,1435.3 L269,1433.6 L270.5,1433.7 L272,1433.1 L273.5,1433.4 L275,1435.5 L276.5,1432.9 L278,1431.2 L279.5,1432.5 L281,1433.8 L282.5,1432.3 L284,1433.3 L285.5,1430.9 L287,1430.7 L288.5,1433.1 L290,1430.7 L291.5,1431.7 L293,1432 L294.5,1431.3 L296,1430.6 L297.5,1430.5 L299,1434.3 L300.5,1433.3 L302,1434.3 L303.5,1432.5 L305,1434.3 L306.5,1434 L308,1433 L309.5,1432.6 L311,1432.5 L312.5,1431.4 L314,1432 L315.5,1433.4 L317,1431.3 L318.5,1433.9 L320,1432.5 L321.5,1432.9 L323,1433.8 L324.5,1433.1 L326,1431 L327.5,1431.5 L329,1430.5 L330.5,1430.5 L332,1434 L333.5,1432.3 L335,1433.6 L336.5,1432.6 L338,1430.6 L339.5,1432.9 L341,1432.5 L342.5,1430.5 L344,1428.7 L345.5,1429.4 L347,1428.6 L348.5,1429.2 L350,1427.8 L351.5,1430.1 L353,1431 L354.5,1427.7 L356,1429.7 L357.5,1428.7 L359,1428.1 L360.5,1429.6 L362,1427.2 L363.5,1428.8 L365,1425.4 L366.5,1428.9 L368,1425.5 L369.5,1424.6 L371,1427.9 L372.5,1427 L374,1426.6 L375.5,1426.7 L377,1425 L378.5,1423.7 L380,1424.3 L381.5,1426.1 L383,1425.4 L384.5,1421.7 L386,1421.8 L387.5,1421.1 L389,1422.1 L390.5,1417.8 L392,1420.3 L393.5,1417.3 L395,1417.7 L396.5,1415.3 L398,1414.3 L399.5,1416.8 L401,1414.5 L402.5,1415.6 L404,1414.5 L405.5,1413.3 L407,1409.8 L408.5,1411.1 L410,1412 L411.5,1409.3 L413,1406.8 L414.5,1406.5 L416,1409 L417.5,1408.2 L419,1404.5 L420.5,1404.1 L422,1405.1 L423.5,1403.6 L425,1401.7 L426.5,1404.3 L428,1402.3 L429.5,1400.7 L431,1398.7 L432.5,1400 L434,1400.4 L435.5,1397.5 L437,1396.5 L438.5,1398.5 L440,1398.7 L441.5,1395.9 L443,1395.7 L444.5,1395.7 L446,1394.6 L447.5,1392.3 L449,1392.1 L450.5,1391.1 L452,1390.3 L453.5,1389.1 L455,1389.6 L456.5,1388.1 L458,1389.9 L459.5,1387 L461,1388.9 L462.5,1387.5 L464,1384.6 L465.5,1383.4 L467,1384.3 L468.5,1383.1 L470,1382.6 L471.5,1379.2 L473,1379 L474.5,1378.1 L476,1375.1 L477.5,1372.5 L479,1373.4 L480.5,1369.1 L482,1370.1 L483.5,1367.1 L485,1362.5 L486.5,1362.5 L488,1359.5 L489.5,1360.2 L491,1357 L492.5,1353.8 L494,1355.5 L495.5,1353.4 L497,1351.7 L498.5,1350.7 L500,1347.8 L501.5,1350.5 L503,1346.9 L504.5,1346.9 L506,1345.9 L507.5,1344.9 L509,1342.2 L510.5,1344.8 L512,1342.3 L513.5,1341 L515,1341.9 L516.5,1341 L518,1339.6 L519.5,1339.4 L521,1336.5 L522.5,1335 L524,1335.4 L525.5,1335.8 L527,1336 L528.5,1335.3 L530,1334.3 L531.5,1333.6 L533,1333.3 L534.5,1332.4 L536,1329.6 L537.5,1331.1 L539,1329.5 L540.5,1328.5 L542,1331.1 L543.5,1332.5 L545,1330.8 L546.5,1332.8 L548,1333.2 L549.5,1333.9 L551,1335.2 L552.5,1335 L554,1333 L555.5,1336 L557,1336.4 L558.5,1338.2 L560,1340.7 L561.5,1340.2 L563,1343.5 L564.5,1346.3 L566,1344.3 L567.5,1348.9 L569,1349.8 L570.5,1350 L572,1352.7 L573.5,1351.1 L575,1352.6 L576.5,1357.2 L578,1356.9 L579.5,1356.3 L581,1357.3 L582.5,1359.8 L584,1360.2 L585.5,1362 L587,1358.7 L588.5,1360.5 L590,1359.8 L591.5,1360.2 L593,1361.8 L594.5,1358.5 L596,1361.3 L597.5,1360.9 L599,1359.1 L600.5,1358.5 L602,1361 L603.5,1361.4 L605,1359.4 L606.5,1358.6 L608,1360.2 L609.5,1360.7 L611,1359.9 L612.5,1360.9 L614,1360.4 L615.5,1361.3 L617,1362.4 L618.5,1365.3 L620,1363.5 L621.5,1362.6 L623,1362.5 L624.5,1360.2 L626,1359.2 L627.5,1359.9 L629,1356.7 L630.5,1356.8 L632,1353.7 L633.5,1354.3 L635,1353.8 L636.5,1351.6 L638,1349.4 L639.5,1347.5 L641,1347.3 L642.5,1346.6 L644,1344.2 L645.5,1344.3 L647,1343.4 L648.5,1340.5 L650,1341.7 L651.5,1341.6 L653,1339.4 L654.5,1337.2 L656,1337.5 L657.5,1336.8 L659,1335.6 L660.5,1334.4 L662,1332.5 L663.5,1332 L665,1330 L666.5,1327.1 L668,1325.1 L669.5,1325.3 L671,1325.2 L672.5,1322.6 L674,1322 L675.5,1320 L677,1319 L678.5,1318.9 L680,1320.4 L681.5,1316.3 L683,1315.8 L684.5,1315.9 L686,1317.3 L687.5,1313.4 L689,1311.8 L690.5,1310.9 L692,1311.2 L693.5,1308.9 L695,1310.7 L696.5,1306.5 L698,1305.2 L699.5,1303 L701,1302 L702.5,1299.6 L704,1298.1 L705.5,1296.5 L707,1294.9 L708.5,1294.7 L710,1291.9 L711.5,1290 L713,1288 L714.5,1290.2 L716,1288.9 L717.5,1288.1 L719,1285.9 L720.5,1283.6 L722,1281.9 L723.5,1280.2 L725,1279.9 L726.5,1278.6 L728,1279.5 L729.5,1275.3 L731,1276.1 L732.5,1275 L734,1273.5 L735.5,1272.1 L737,1269 L738.5,1268.5 L740,1269.1 L741.5,1268.5 L743,1269.1 L744.5,1267.5 L746,1264.3 L747.5,1263.1 L749,1264.7 L750.5,1260.8 L752,1263.5 L753.5,1259.3 L755,1260.4 L756.5,1260.5 L758,1256.6 L759.5,1256.3 L761,1259.6 L762.5,1261.2 L764,1259.5 L765.5,1262.5 L767,1265 L768.5,1266.1 L770,1265.8 L771.5,1265.4 L773,1269 L774.5,1269.9 L776,1270.6 L777.5,1272.5 L779,1273.6 L780.5,1274.4 L782,1275.8 L783.5,1277.1 L785,1279.1 L786.5,1280.3 L788,1278.4 L789.5,1282.6 L791,1281.5 L792.5,1283.3 L794,1283.5 L795.5,1285 L797,1286.4 L798.5,1287.6 L800,1287.3 L801.5,1289.1 L803,1290.8 L804.5,1291.6 L806,1293.2 L807.5,1292.4 L809,1295.4 L810.5,1297.9 L812,1298.3 L813.5,1298.6 L815,1300.6 L816.5,1300 L818,1300.2 L819.5,1303 L821,1302.6 L822.5,1303.3 L824,1305.9 L825.5,1305.4 L827,1304.7 L828.5,1305.5 L830,1308.1 L831.5,1308.4 L833,1310 L834.5,1309.9 L836,1308.7 L837.5,1311 L839,1312.3 L840.5,1312.9 L842,1313.6 L843.5,1311.2 L845,1312.2 L846.5,1312.5 L848,1315.7 L849.5,1315.8 L851,1315.8 L852.5,1315 L854,1316 L855.5,1317.3 L857,1314.8 L858.5,1318.4 L860,1317.8 L861.5,1318.7 L863,1319 L864.5,1317.4 L866,1316.7 L867.5,1317.2 L869,1317.8 L870.5,1318.4 L872,1317.2 L873.5,1317.4 L875,1318.5 L876.5,1319.5 L878,1316.7 L879.5,1320.4 L881,1319.6 L882.5,1319.1 L884,1319.5 L885.5,1320.6 L887,1319 L888.5,1318.6 L890,1317.7 L891.5,1318.6 L893,1317.5 L894.5,1318.3 L896,1319.9 L897.5,1318.7 L899,1320.9 L900.5,1319.2 L902,1320.6 L903.5,1318.1 L905,1321.2 L906.5,1320.7 L908,1320.9 L909.5,1320.5 L911,1319.4 L912.5,1317.9 L914,1320.7 L915.5,1321.1 L917,1318.9 L918.5,1319.8 L920,1319 L921.5,1319.2 L923,1319.5 L924.5,1318.2 L926,1315.8 L927.5,1316.7 L929,1316.8 L930.5,1315.3 L932,1316.9 L933.5,1315.1 L935,1313.8 L936.5,1314.6 L938,1315.8 L939.5,1315.1 L941,1313.6 L942.5,1313.7 L944,1314.5 L945.5,1314.8 L947,1311.5 L948.5,1312.2 L950,1313.7 L951.5,1313.5 L953,1313.9 L954.5,1315 L956,1315 L957.5,1315.2 L959,1317.3 L960.5,1318 L962,1319.3 L963.5,1321.1 L965,1321.8 L966.5,1320.5 L968,1320.3 L969.5,1322.3 L971,1322.2 L972.5,1323.4 L974,1325.3 L975.5,1325.3 L977,1326.8 L978.5,1326.7 L980,1327.7 L981.5,1330.3 L983,1331 L984.5,1332.8 L986,1334.2 L987.5,1337.1 L989,1337 L990.5,1338.2 L992,1340.8 L993.5,1340.8 L995,1344.9 L996.5,1345.6 L998,1346.7 L999.5,1349.6 L1001,1351.5 L1002.5,1353.4 L1004,1354.8 L1005.5,1358.1 L1007,1358.6 L1008.5,1362.6 L1010,1363.6 L1011.5,1368.4 L1013,1368.8 L1014.5,1372 L1016,1376.6 L1017.5,1378.9 L1019,1379.4 L1020.5,1381.1 L1022,1386.7 L1023.5,1386.5 L1025,1387 L1026.5,1390.8 L1028,1393.9 L1029.5,1394.9 L1031,1395.6 L1032.5,1398.4 L1034,1399.8 L1035.5,1404 L1037,1405.3 L1038.5,1404.9 L1040,1408.4 L1041.5,1411.1 L1043,1410.5 L1044.5,1411.8 L1046,1415 L1047.5,1416.7 L1049,1417.4 L1050.5,1419.3 L1052,1421.1 L1053.5,1422.9 L1055,1422 L1056.5,1424.5 L1058,1425.2 L1059.5,1427 L1061,1431.3 L1062.5,1431.6 L1064,1433.9 L1064.7,1432.9 L1064.7,1481.6 L1064,1478.7 L1062.5,1478 L1061,1480.5 L1059.5,1479.3 L1058,1478.8 L1056.5,1475.5 L1055,1474.4 L1053.5,1476.1 L1052,1473.1 L1050.5,1474.1 L1049,1470.9 L1047.5,1470.4 L1046,1468.5 L1044.5,1467.4 L1043,1467.9 L1041.5,1468.9 L1040,1464.2 L1038.5,1465.4 L1037,1462.9 L1035.5,1462.5 L1034,1460.5 L1032.5,1460.5 L1031,1460.2 L1029.5,1456.6 L1028,1457.4 L1026.5,1455.2 L1025,1453.5 L1023.5,1451.8 L1022,1448.9 L1020.5,1450.1 L1019,1446.2 L1017.5,1443.6 L1016,1440.1 L1014.5,1438.5 L1013,1434.3 L1011.5,1431.4 L1010,1429.7 L1008.5,1425.5 L1007,1423.7 L1005.5,1417.9 L1004,1415.3 L1002.5,1415.3 L1001,1412.5 L999.5,1410.5 L998,1407.1 L996.5,1406.5 L995,1401.6 L993.5,1401.6 L992,1397.2 L990.5,1399 L989,1397.3 L987.5,1393.2 L986,1391.3 L984.5,1388.9 L983,1386.3 L981.5,1386.6 L980,1385 L978.5,1382.3 L977,1380.1 L975.5,1382.2 L974,1381 L972.5,1381.2 L971,1377.5 L969.5,1378.7 L968,1379.7 L966.5,1379.6 L965,1375.5 L963.5,1377.5 L962,1377.8 L960.5,1374.2 L959,1375.6 L957.5,1375.1 L956,1372 L954.5,1374.8 L953,1371.9 L951.5,1370.1 L950,1372.9 L948.5,1370.6 L947,1369.1 L945.5,1371.8 L944,1371.2 L942.5,1372 L941,1370.6 L939.5,1368.9 L938,1372.8 L936.5,1370.4 L935,1371 L933.5,1372.5 L932,1370.4 L930.5,1370 L929,1373.2 L927.5,1373.5 L926,1373.8 L924.5,1372.1 L923,1370.5 L921.5,1370.6 L920,1374.3 L918.5,1374.6 L917,1372.8 L915.5,1372 L914,1373 L912.5,1374.8 L911,1375.5 L909.5,1374.4 L908,1375.3 L906.5,1375.5 L905,1372.9 L903.5,1373.3 L902,1374.9 L900.5,1376.2 L899,1375.9 L897.5,1375.6 L896,1376.4 L894.5,1375.5 L893,1376 L891.5,1374.2 L890,1374.6 L888.5,1374.2 L887,1376.8 L885.5,1375.1 L884,1378.2 L882.5,1378.1 L881,1375.6 L879.5,1377.2 L878,1379.1 L876.5,1377.7 L875,1378.3 L873.5,1379.5 L872,1379.8 L870.5,1379.6 L869,1382.1 L867.5,1381.7 L866,1382 L864.5,1384.7 L863,1385.2 L861.5,1386 L860,1386.1 L858.5,1386.1 L857,1385.3 L855.5,1388.3 L854,1387.8 L852.5,1388.5 L851,1388.1 L849.5,1386 L848,1384.1 L846.5,1385.3 L845,1385.9 L843.5,1383.8 L842,1385.6 L840.5,1385 L839,1382.6 L837.5,1380.8 L836,1381.7 L834.5,1379.2 L833,1380.8 L831.5,1381.7 L830,1377.6 L828.5,1377.7 L827,1377.8 L825.5,1376.4 L824,1376.3 L822.5,1378.4 L821,1375.8 L819.5,1374.4 L818,1373.9 L816.5,1373 L815,1370.6 L813.5,1371.7 L812,1370.4 L810.5,1370.4 L809,1368.9 L807.5,1368.1 L806,1365.6 L804.5,1365.5 L803,1365.8 L801.5,1361.8 L800,1360.5 L798.5,1361.3 L797,1359.1 L795.5,1357.4 L794,1355.6 L792.5,1356.6 L791,1355 L789.5,1353.8 L788,1353.9 L786.5,1351.9 L785,1351.7 L783.5,1349.6 L782,1347 L780.5,1345 L779,1346.8 L777.5,1343.3 L776,1344.4 L774.5,1342 L773,1339 L771.5,1337.8 L770,1336.8 L768.5,1338.4 L767,1336.5 L765.5,1333 L764,1332.4 L762.5,1333.2 L761,1331 L759.5,1328.3 L758,1329.2 L756.5,1330.6 L755,1332.1 L753.5,1332.6 L752,1333.2 L750.5,1333.6 L749,1332.3 L747.5,1334.6 L746,1333.5 L744.5,1335.6 L743,1336.7 L741.5,1336.3 L740,1338.2 L738.5,1338 L737,1338.5 L735.5,1338.7 L734,1339.6 L732.5,1340.4 L731,1340.3 L729.5,1341.8 L728,1343.5 L726.5,1344.9 L725,1345.1 L723.5,1345.2 L722,1344.1 L720.5,1347.3 L719,1346.2 L717.5,1350.1 L716,1348.6 L714.5,1351.1 L713,1350.2 L711.5,1353.6 L710,1353.5 L708.5,1354.4 L707,1356.3 L705.5,1360.6 L704,1360.6 L702.5,1366.1 L701,1368.1 L699.5,1368.8 L698,1372.6 L696.5,1373.7 L695,1376.7 L693.5,1379.1 L692,1378.3 L690.5,1380.3 L689,1382.3 L687.5,1384.5 L686,1385.3 L684.5,1384.1 L683,1386.2 L681.5,1387.1 L680,1386.2 L678.5,1389.4 L677,1389.3 L675.5,1391.5 L674,1391.5 L672.5,1392.4 L671,1393.5 L669.5,1394.7 L668,1397 L666.5,1395.1 L665,1395.5 L663.5,1398.5 L662,1400 L660.5,1397.5 L659,1398.7 L657.5,1399.7 L656,1398.9 L654.5,1403.2 L653,1400.8 L651.5,1403.1 L650,1404 L648.5,1403.8 L647,1402.3 L645.5,1403 L644,1405.2 L642.5,1407 L641,1409.2 L639.5,1411.6 L638,1413.1 L636.5,1416.8 L635,1416.3 L633.5,1418.5 L632,1418.5 L630.5,1422.1 L629,1420.2 L627.5,1424.6 L626,1425.1 L624.5,1423.3 L623,1424.9 L621.5,1426 L620,1428.1 L618.5,1426.7 L617,1428.7 L615.5,1427.8 L614,1427.8 L612.5,1428.4 L611,1426.2 L609.5,1427.2 L608,1426.2 L606.5,1424.9 L605,1425.2 L603.5,1426.1 L602,1428.3 L600.5,1428 L599,1426.9 L597.5,1425.4 L596,1427.6 L594.5,1426.1 L593,1425.2 L591.5,1427.8 L590,1428.3 L588.5,1428.6 L587,1428.4 L585.5,1426.4 L584,1428.8 L582.5,1426.7 L581,1425.3 L579.5,1424 L578,1425.6 L576.5,1422.5 L575,1420.6 L573.5,1420.5 L572,1419.3 L570.5,1417.1 L569,1416.9 L567.5,1416 L566,1417.1 L564.5,1415.4 L563,1413.6 L561.5,1411.9 L560,1411.6 L558.5,1412.2 L557,1411.7 L555.5,1410.5 L554,1406.6 L552.5,1407.8 L551,1408.4 L549.5,1407.6 L548,1405.3 L546.5,1403 L545,1402.1 L543.5,1404 L542,1401.9 L540.5,1400.2 L539,1401.8 L537.5,1402.5 L536,1402.7 L534.5,1403.2 L533,1404.9 L531.5,1405.7 L530,1409.2 L528.5,1407.5 L527,1409.8 L525.5,1411 L524,1413.5 L522.5,1415.1 L521,1415 L519.5,1414.3 L518,1417.1 L516.5,1419.4 L515,1419.9 L513.5,1419.3 L512,1422.7 L510.5,1422.3 L509,1425.3 L507.5,1423.8 L506,1425 L504.5,1427.9 L503,1426.9 L501.5,1431.3 L500,1430.5 L498.5,1433.4 L497,1433.5 L495.5,1435.8 L494,1435 L492.5,1435.9 L491,1440.6 L489.5,1440.4 L488,1444.5 L486.5,1444.9 L485,1447.9 L483.5,1446.1 L482,1448.7 L480.5,1452.9 L479,1451.2 L477.5,1452.4 L476,1454.8 L474.5,1458.5 L473,1458.3 L471.5,1460.4 L470,1462.3 L468.5,1461.6 L467,1465.9 L465.5,1464.9 L464,1465.7 L462.5,1467.2 L461,1468.1 L459.5,1468.2 L458,1469 L456.5,1470.9 L455,1473.6 L453.5,1473.9 L452,1475.3 L450.5,1477.4 L449,1475.7 L447.5,1477.9 L446,1477.7 L444.5,1478.7 L443,1479.6 L441.5,1479.7 L440,1480.8 L438.5,1482.4 L437,1483.2 L435.5,1483.2 L434,1483.7 L432.5,1483.5 L431,1484.9 L429.5,1486.7 L428,1488.3 L426.5,1485.4 L425,1486.1 L423.5,1489.9 L422,1490.2 L420.5,1491.7 L419,1492.1 L417.5,1492.6 L416,1493.9 L414.5,1493.1 L413,1493.1 L411.5,1494.6 L410,1497.8 L408.5,1498.8 L407,1496.7 L405.5,1497.8 L404,1498.9 L402.5,1502.3 L401,1503.3 L399.5,1501.9 L398,1504.6 L396.5,1501.4 L395,1504.7 L393.5,1506.6 L392,1505.5 L390.5,1506.9 L389,1508.1 L387.5,1505.3 L386,1509.4 L384.5,1507 L383,1507.6 L381.5,1509.7 L380,1510.3 L378.5,1509.5 L377,1509.3 L375.5,1510.3 L374,1512.7 L372.5,1512.8 L371,1514.1 L369.5,1513.2 L368,1513.9 L366.5,1515.1 L365,1516 L363.5,1516.7 L362,1516.6 L360.5,1515.6 L359,1517.6 L357.5,1518.6 L356,1518.2 L354.5,1518.1 L353,1517.2 L351.5,1519 L350,1519.8 L348.5,1518.2 L347,1518.3 L345.5,1519.6 L344,1522 L342.5,1520.8 L341,1519.8 L339.5,1522.1 L338,1524.5 L336.5,1524.6 L335,1522.5 L333.5,1524 L332,1524.1 L330.5,1524.7 L329,1526 L327.5,1525.7 L326,1523.7 L324.5,1523.7 L323,1526.2 L321.5,1525.8 L320,1524.6 L318.5,1527 L317,1527.9 L315.5,1525.7 L314,1526.4 L312.5,1526.9 L311,1525 L309.5,1528.5 L308,1525.6 L306.5,1528.5 L305,1527 L303.5,1527.6 L302,1526.1 L300.5,1527.2 L299,1529.2 L297.5,1528.4 L296,1527.8 L294.5,1528.4 L293,1528.5 L291.5,1529.5 L290,1527.8 L288.5,1528 L287,1528.4 L285.5,1527.7 L284,1528.9 L282.5,1528.2 L281,1528.5 L279.5,1528.6 L278,1530.7 L276.5,1531.8 L275,1532.6 L273.5,1529.6 L272,1530.2 L270.5,1530.9 L269,1532.1 L267.5,1532 L266,1533.2 L264.5,1531.5 L263,1532.9 L261.5,1533.1 L260,1533.8 L258.5,1533.3 L257,1536.2 L255.5,1537.1 L254,1534.7 L252.5,1535.3 L251,1538.5 L249.5,1535.1 L248,1535.7 L246.5,1538.3 L245,1538.1 L243.5,1539.9 L242,1539.9 L240.5,1538.6 L239,1540.2 L237.5,1540 L236,1538.1 L234.5,1540.2 L233,1539.8 L231.5,1540.1 L230,1541.8 L228.5,1543.9 L227,1542.9 L225.5,1544.1 L224,1546.8 L222.5,1545.8 L221,1547.2 L219.5,1548.3 L218,1547.3 L216.5,1551.1 L215,1552 L213.5,1551.9 L212,1551.4 L210.5,1554.4 L209,1554.6 L207.5,1555.3 Z" fill="#0b8a3a" fill-opacity="0.55"/>
<clipPath id="oliveClip"><path d="M133,1309.1 L135,1305.5 L137,1299.7 L139,1296 L141,1290.2 L143,1284.9 L145,1282.1 L147,1284.2 L149,1294.3 L151,1308 L153,1319.8 L155,1328.9 L157,1327.8 L159,1327.2 L161,1324.6 L163,1323.6 L165,1322.4 L167,1320.1 L169,1317.6 L171,1317.4 L173,1315.9 L175,1315.6 L177,1314.2 L179,1316.2 L181,1318.9 L183,1322 L185,1319.4 L187,1315.1 L189,1311.3 L191,1311.5 L193,1310.3 L195,1313.9 L197,1315.2 L199,1313.4 L201,1310.1 L203,1308.1 L205,1304 L207,1307.3 L209,1310.2 L211,1311.7 L213,1313.9 L215,1318.3 L217,1312.8 L219,1308.8 L221,1302.9 L223,1298.6 L225,1296.5 L227,1295.9 L229,1297.5 L231,1297.2 L233,1300.1 L235,1300.2 L237,1298.1 L239,1298.1 L241,1296.8 L243,1299 L245,1298.2 L247,1296.5 L249,1296.8 L251,1294.3 L253,1296.2 L255,1298.5 L257,1299 L259,1301.4 L261,1302 L263,1302.8 L265,1300.6 L267,1297 L269,1295.5 L271,1292.2 L273,1289.1 L275,1287.3 L277,1286.7 L279,1289.1 L281,1292.4 L283,1295.4 L285,1296.7 L287,1298.9 L289,1298.9 L291,1300.5 L293,1299.8 L295,1295.4 L297,1291.4 L299,1284.2 L301,1279.3 L303,1275.8 L305,1274.9 L307,1273.3 L309,1272 L311,1273.2 L313,1273.1 L315,1274.4 L317,1274 L319,1275.8 L321,1272.8 L323,1267.9 L325,1261.9 L327,1258.8 L329,1252.5 L331,1248.9 L333,1248.2 L335,1249.6 L337,1247.9 L339,1247.5 L341,1247.1 L343,1246.1 L345,1244.8 L347,1246.3 L349,1248.5 L351,1249 L353,1251.7 L355,1256.3 L357,1258.3 L359,1262.1 L361,1266.5 L363,1268.5 L365,1269 L367,1269.3 L369,1268.7 L371,1270.2 L373,1273.5 L375,1275.5 L377,1275.4 L379,1278 L381,1280.7 L383,1284.1 L385,1288.5 L387,1290.1 L389,1294.1 L391,1296 L393,1299.8 L395,1303.1 L397,1297.9 L399,1293.9 L401,1289.5 L403,1285.2 L405,1282.3 L407,1277.3 L409,1277.3 L411,1279.4 L413,1282.2 L415,1284.8 L417,1284.3 L419,1279.6 L421,1277.2 L423,1276.1 L425,1273.6 L427,1273.9 L429,1279.1 L431,1284.1 L433,1290.3 L435,1294.9 L437,1293 L439,1293.4 L441,1293.8 L443,1292.5 L445,1282.8 L447,1275.6 L449,1270 L451,1263.3 L453,1262.8 L455,1261.2 L457,1259.6 L459,1256.6 L461,1255.4 L463,1254.7 L465,1251 L467,1252.1 L469,1250.1 L471,1249.4 L473,1251.1 L475,1248.9 L477,1251.1 L479,1251.1 L481,1252.3 L483,1251.4 L485,1251.7 L487,1252.2 L489,1253.5 L491,1254.4 L493,1255.1 L495,1258.2 L497,1258.4 L499,1259.8 L501,1261.2 L503,1262.7 L505,1263.9 L507,1259.1 L509,1253.7 L511,1251.2 L513,1246.7 L515,1243.1 L517,1245.1 L519,1247.4 L521,1249.5 L523,1251.5 L525,1251.3 L527,1248 L529,1245.6 L531,1239.7 L533,1236.9 L535,1233 L537,1234.5 L539,1237.6 L541,1239.7 L543,1237.7 L545,1233.9 L547,1230.6 L549,1225.2 L551,1224.1 L553,1228.7 L555,1233.3 L557,1235.7 L559,1237.9 L561,1238.7 L563,1239.4 L565,1237.8 L567,1237.3 L569,1236.9 L571,1234.3 L573,1235.8 L575,1240.8 L577,1246.4 L579,1252.9 L581,1258.3 L583,1264.8 L585,1271.3 L587,1268.2 L589,1267.7 L591,1266.5 L593,1264.9 L595,1261.8 L597,1259.7 L599,1257.6 L601,1254.9 L603,1251.3 L605,1249.9 L607,1247.3 L609,1245 L611,1243.6 L613,1243.2 L615,1245.5 L617,1245.9 L619,1247.4 L621,1246.2 L623,1243.4 L625,1241.5 L627,1238.2 L629,1234.8 L631,1235.9 L633,1238.7 L635,1241.6 L637,1244.5 L639,1248.1 L641,1249.2 L643,1246.9 L645,1245.8 L647,1244.5 L649,1241.9 L651,1240.1 L653,1240.5 L655,1238.1 L657,1236.2 L659,1234.9 L661,1233.3 L663,1231.6 L665,1229.1 L667,1228.9 L669,1230.2 L671,1230.6 L673,1228.8 L675,1229.8 L677,1233.8 L679,1235.9 L681,1241.2 L683,1240.8 L685,1233.5 L687,1226.9 L689,1219.5 L691,1214.1 L693,1215.4 L695,1215.3 L697,1214.1 L699,1215.1 L701,1219.3 L703,1219.8 L705,1221.6 L707,1224.2 L709,1226.3 L711,1229 L713,1229.6 L715,1225.5 L717,1221.1 L719,1217.7 L721,1214.3 L723,1211.5 L725,1208.5 L727,1209.3 L729,1207.6 L731,1206.4 L733,1205.7 L735,1203.4 L737,1207.2 L739,1211.3 L741,1214.3 L743,1218.7 L745,1221.4 L747,1221.7 L749,1220.9 L751,1219.8 L753,1218.5 L755,1216.5 L757,1213.3 L759,1209.5 L761,1207.4 L763,1204.5 L765,1201.4 L767,1205.3 L769,1210.4 L771,1217.2 L773,1222.2 L775,1220.8 L777,1219.9 L779,1218.5 L781,1219.7 L783,1218.9 L785,1218.3 L787,1224.1 L789,1230.5 L791,1235.7 L793,1239.8 L795,1243.5 L797,1246.3 L799,1247.2 L801,1250.4 L803,1251.4 L805,1255.5 L807,1258.3 L809,1260.8 L811,1262.6 L813,1265.8 L815,1269.2 L817,1274.1 L819,1277.9 L821,1278.2 L823,1274.6 L825,1271.4 L827,1269.3 L829,1266.4 L831,1269.3 L833,1272.9 L835,1274 L837,1271.8 L839,1269.2 L841,1266.6 L843,1263 L845,1264.6 L847,1268.5 L849,1272.5 L851,1277.9 L853,1271 L855,1267.1 L857,1261.4 L859,1257.3 L861,1257 L863,1254.3 L865,1254.7 L867,1253.3 L869,1254.1 L871,1251.5 L873,1250.5 L875,1250.4 L877,1254.4 L879,1259.8 L881,1263.5 L883,1268.6 L885,1269.5 L887,1266.1 L889,1262.2 L891,1257.9 L893,1254.2 L895,1255.3 L897,1259.7 L899,1262.1 L901,1265 L903,1267.6 L905,1270.6 L907,1274.3 L909,1277.3 L911,1282.5 L913,1285.7 L915,1289 L917,1290.7 L919,1289.7 L921,1289.1 L923,1286.5 L925,1275.6 L927,1268 L929,1262.9 L931,1271.8 L933,1281.4 L935,1287.3 L937,1287 L939,1286.8 L941,1285.9 L943,1283.8 L945,1283.8 L947,1284.6 L949,1285.1 L951,1283.2 L953,1278.9 L955,1273.6 L957,1269.6 L959,1265.4 L961,1262.6 L963,1257.8 L965,1258 L967,1259.5 L969,1260.1 L971,1262.2 L973,1262.2 L975,1264.7 L977,1267.3 L979,1270.7 L981,1277 L983,1280 L985,1285.5 L987,1292.1 L989,1297.3 L991,1302.7 L993,1307.2 L995,1311.9 L997,1316.2 L999,1321.3 L1001,1326.8 L1003,1330.4 L1005,1334.9 L1007,1347.8 L1009,1354.2 L1011,1362.4 L1013,1376 L1015,1381.4 L1017,1373 L1019,1367.5 L1021,1364.8 L1023,1364.1 L1025,1369.3 L1027,1370.4 L1029,1364.8 L1031,1366.7 L1033,1382.8 L1035,1410.4 L1037,1371.5 L1039,1346.5 L1041,1385.7 L1043,1376.2 L1045,1359 L1047,1362.2 L1049,1367.2 L1051,1384.7 L1053,1364.2 L1055,1340 L1057,1335 L1059,1330.5 L1061,1347.9 L1063,1391.2 L1065,1392.5 L1067,1371 L1069,1395 L1071,1400.8 L1073,1390 L1075,1395 L1077,1359 L1079,1344 L1081,1350 L1081,1360 L1079,1354 L1077,1369 L1075,1405 L1073,1400 L1071,1410.8 L1069,1405 L1067,1381 L1065,1402.5 L1063,1401.2 L1061,1357.9 L1059,1340.5 L1057,1345 L1055,1350 L1053,1374.2 L1051,1394.7 L1049,1377.2 L1047,1372.2 L1045,1369 L1043,1386.2 L1041,1395.7 L1039,1356.5 L1037,1381.5 L1035,1420.4 L1033,1392.8 L1031,1376.7 L1029,1374.8 L1027,1380.4 L1025,1379.3 L1023,1374.1 L1021,1374.8 L1019,1377.5 L1017,1383 L1015,1391.4 L1013,1386 L1011,1372.4 L1009,1364.2 L1007,1357.8 L1005,1359.9 L1003,1357.4 L1001,1355.8 L999,1352.3 L997,1349.2 L995,1346.9 L993,1344.2 L991,1341.7 L989,1338.3 L987,1335.1 L985,1330.5 L983,1326.4 L981,1324.9 L979,1319.9 L977,1318 L975,1316.8 L973,1315.8 L971,1317.2 L969,1316.5 L967,1317.3 L965,1317.3 L963,1318.5 L961,1324.8 L959,1329 L957,1334.6 L955,1340 L953,1346.8 L951,1352.5 L949,1355.1 L947,1354.6 L945,1353.8 L943,1353.8 L941,1355.9 L939,1356.8 L937,1357 L935,1357.3 L933,1351.4 L931,1341.8 L929,1332.9 L927,1338 L925,1345.6 L923,1356.5 L921,1359.1 L919,1359.7 L917,1360.7 L915,1359 L913,1355.7 L911,1352.5 L909,1347.3 L907,1344.3 L905,1340.6 L903,1337.6 L901,1335 L899,1332.2 L897,1330 L895,1325.8 L893,1324.9 L891,1328.8 L889,1333.3 L887,1337.4 L885,1341 L883,1340.3 L881,1335.4 L879,1331.9 L877,1326.7 L875,1322.9 L873,1323.2 L871,1324.4 L869,1327.2 L867,1326.6 L865,1328.2 L863,1328 L861,1330.9 L859,1331.4 L857,1335.7 L855,1341.6 L853,1345.7 L851,1352.8 L849,1348 L847,1345 L845,1342.1 L843,1341.5 L841,1346.1 L839,1349.7 L837,1353.3 L835,1356.5 L833,1356.4 L831,1353.8 L829,1351.9 L827,1355.8 L825,1358.9 L823,1363.1 L821,1367.7 L819,1368.8 L817,1366.6 L815,1363.4 L813,1361.6 L811,1360.1 L809,1360 L807,1359.1 L805,1358 L803,1355.6 L801,1356.2 L799,1354.7 L797,1355.5 L795,1354.4 L793,1352.3 L791,1349.9 L789,1345.5 L787,1338.9 L785,1333 L783,1333.5 L781,1334.2 L779,1332.9 L777,1334.2 L775,1335 L773,1336.3 L771,1331.1 L769,1324.2 L767,1319 L765,1315 L763,1318 L761,1320.8 L759,1322.8 L757,1326.5 L755,1329.5 L753,1331.5 L751,1332.6 L749,1333.6 L747,1334.3 L745,1333.9 L743,1331.1 L741,1326.5 L739,1323.5 L737,1319.3 L735,1315.4 L733,1317.5 L731,1318.2 L729,1319.2 L727,1320.8 L725,1319.9 L723,1322.7 L721,1325.5 L719,1328.8 L717,1332 L715,1336.3 L713,1340.3 L711,1339.6 L709,1336.8 L707,1334.6 L705,1331.9 L703,1329.9 L701,1329.3 L699,1325.1 L697,1324.1 L695,1325.3 L693,1325.4 L691,1324.1 L689,1329.5 L687,1336.9 L685,1343.5 L683,1350.8 L681,1351.2 L679,1345.9 L677,1343.8 L675,1339.8 L673,1338.8 L671,1340.6 L669,1340.2 L667,1338.9 L665,1339.1 L663,1341.6 L661,1343.3 L659,1344.9 L657,1346.2 L655,1348.1 L653,1350.5 L651,1350.1 L649,1351.9 L647,1354.5 L645,1355.8 L643,1356.9 L641,1359.2 L639,1358.1 L637,1354.5 L635,1351.6 L633,1348.7 L631,1345.9 L629,1344.8 L627,1348.2 L625,1351.5 L623,1353.4 L621,1356.2 L619,1357.4 L617,1355.9 L615,1355.5 L613,1353.2 L611,1353.6 L609,1355 L607,1357.3 L605,1359.9 L603,1361.3 L601,1364.9 L599,1367.8 L597,1370.3 L595,1372.8 L593,1376.3 L591,1378.3 L589,1379.9 L587,1380.8 L585,1384.3 L583,1378.2 L581,1372.1 L579,1367.1 L577,1361 L575,1355.8 L573,1351.2 L571,1350.1 L569,1353.1 L567,1353.9 L565,1354.8 L563,1356.8 L561,1356.5 L559,1356.1 L557,1354.3 L555,1352.3 L553,1348.1 L551,1343.9 L549,1345.5 L547,1351.5 L545,1355.4 L543,1359.8 L541,1362.4 L539,1360.9 L537,1358.4 L535,1357.5 L533,1362 L531,1365.4 L529,1371.9 L527,1374.9 L525,1378.8 L523,1379.6 L521,1378.2 L519,1376.7 L517,1375 L515,1373.6 L513,1377.8 L511,1382.9 L509,1386 L507,1392 L505,1397.4 L503,1396.8 L501,1395.9 L499,1395.1 L497,1394.3 L495,1394.7 L493,1392.2 L491,1392.1 L489,1391.8 L487,1391.1 L485,1391.2 L483,1391.5 L481,1393 L479,1392.4 L477,1393 L475,1391.4 L473,1394.2 L471,1393.1 L469,1394.4 L467,1397 L465,1396.5 L463,1400.8 L461,1402.1 L459,1403.9 L457,1407.5 L455,1409.7 L453,1411.9 L451,1413 L449,1420.2 L447,1426.2 L445,1433.8 L443,1443.9 L441,1445.6 L439,1445.6 L437,1445.6 L435,1447.9 L433,1443.7 L431,1437.9 L429,1433.3 L427,1428.5 L425,1428.6 L423,1431.5 L421,1433 L419,1435.8 L417,1440.9 L415,1441.8 L413,1439.6 L411,1437.2 L409,1435.5 L407,1435.9 L405,1441.3 L403,1444.6 L401,1449.3 L399,1454.1 L397,1458.4 L395,1463.9 L393,1460.9 L391,1457.4 L389,1455.9 L387,1452.2 L385,1450.9 L383,1446.8 L381,1443.8 L379,1441.4 L377,1439.1 L375,1439.5 L373,1437.8 L371,1434.9 L369,1433.6 L367,1434.6 L365,1434.6 L363,1434.4 L361,1432.8 L359,1428.7 L357,1425.1 L355,1423.5 L353,1419.2 L351,1416.8 L349,1416.7 L347,1415.1 L345,1414 L343,1415.8 L341,1417.3 L339,1418.1 L337,1419 L335,1421.2 L333,1420.2 L331,1421.5 L329,1425.5 L327,1432.3 L325,1435.9 L323,1442.3 L321,1447.8 L319,1451.3 L317,1450 L315,1450.8 L313,1450 L311,1450.6 L309,1449.9 L307,1451.6 L305,1453.7 L303,1455.1 L301,1459 L299,1464.4 L297,1472.2 L295,1476.8 L293,1481.8 L291,1483 L289,1482 L287,1482.5 L285,1480.9 L283,1480.1 L281,1477.7 L279,1474.9 L277,1473 L275,1474.2 L273,1476.6 L271,1480.2 L269,1484.1 L267,1486.2 L265,1490.4 L263,1493.1 L261,1492.9 L259,1492.7 L257,1490.9 L255,1491 L253,1489.3 L251,1487.9 L249,1491 L247,1491.2 L245,1493.5 L243,1494.8 L241,1493.1 L239,1495 L237,1495.6 L235,1498.3 L233,1498.7 L231,1496.4 L229,1497.2 L227,1496.1 L225,1497.4 L223,1500 L221,1504.9 L219,1511.3 L217,1515.9 L215,1522 L213,1518.1 L211,1516.4 L209,1515.7 L207,1513.6 L205,1511.3 L203,1516.2 L201,1519.2 L199,1523.4 L197,1526.1 L195,1525.7 L193,1523.1 L191,1525.2 L189,1525.8 L187,1530.5 L185,1535.8 L183,1539.3 L181,1537.1 L179,1535.3 L177,1534.2 L175,1536.5 L173,1537.7 L171,1540.1 L169,1541.3 L167,1544.6 L165,1547.9 L163,1550 L161,1551.9 L159,1555.4 L157,1556.9 L155,1558.9 L153,1550.7 L151,1539.8 L149,1527 L147,1517.8 L145,1516.6 L143,1520.4 L141,1526.6 L139,1533.3 L137,1537.8 L135,1544.6 L133,1549.1 Z"/></clipPath>
<path d="M207.5,1448.3 L209,1448.4 L210.5,1448.2 L212,1450.1 L213.5,1448 L215,1448.4 L216.5,1445.4 L218,1446.5 L219.5,1447.4 L221,1445.6 L222.5,1446.8 L224,1446 L225.5,1443.5 L227,1441.5 L228.5,1444 L230,1441 L231.5,1440.2 L233,1442.8 L234.5,1443 L236,1442.6 L237.5,1442.8 L239,1439.5 L240.5,1438.7 L242,1438.6 L243.5,1441.7 L245,1437.9 L246.5,1437.8 L248,1437 L249.5,1436.8 L251,1436.5 L252.5,1437.4 L254,1436.4 L255.5,1436.6 L257,1438.8 L258.5,1435.5 L260,1437.8 L261.5,1437.2 L263,1436.2 L264.5,1435.9 L266,1436.4 L267.5,1435.3 L269,1433.6 L270.5,1433.7 L272,1433.1 L273.5,1433.4 L275,1435.5 L276.5,1432.9 L278,1431.2 L279.5,1432.5 L281,1433.8 L282.5,1432.3 L284,1433.3 L285.5,1430.9 L287,1430.7 L288.5,1433.1 L290,1430.7 L291.5,1431.7 L293,1432 L294.5,1431.3 L296,1430.6 L297.5,1430.5 L299,1434.3 L300.5,1433.3 L302,1434.3 L303.5,1432.5 L305,1434.3 L306.5,1434 L308,1433 L309.5,1432.6 L311,1432.5 L312.5,1431.4 L314,1432 L315.5,1433.4 L317,1431.3 L318.5,1433.9 L320,1432.5 L321.5,1432.9 L323,1433.8 L324.5,1433.1 L326,1431 L327.5,1431.5 L329,1430.5 L330.5,1430.5 L332,1434 L333.5,1432.3 L335,1433.6 L336.5,1432.6 L338,1430.6 L339.5,1432.9 L341,1432.5 L342.5,1430.5 L344,1428.7 L345.5,1429.4 L347,1428.6 L348.5,1429.2 L350,1427.8 L351.5,1430.1 L353,1431 L354.5,1427.7 L356,1429.7 L357.5,1428.7 L359,1428.1 L360.5,1429.6 L362,1427.2 L363.5,1428.8 L365,1425.4 L366.5,1428.9 L368,1425.5 L369.5,1424.6 L371,1427.9 L372.5,1427 L374,1426.6 L375.5,1426.7 L377,1425 L378.5,1423.7 L380,1424.3 L381.5,1426.1 L383,1425.4 L384.5,1421.7 L386,1421.8 L387.5,1421.1 L389,1422.1 L390.5,1417.8 L392,1420.3 L393.5,1417.3 L395,1417.7 L396.5,1415.3 L398,1414.3 L399.5,1416.8 L401,1414.5 L402.5,1415.6 L404,1414.5 L405.5,1413.3 L407,1409.8 L408.5,1411.1 L410,1412 L411.5,1409.3 L413,1406.8 L414.5,1406.5 L416,1409 L417.5,1408.2 L419,1404.5 L420.5,1404.1 L422,1405.1 L423.5,1403.6 L425,1401.7 L426.5,1404.3 L428,1402.3 L429.5,1400.7 L431,1398.7 L432.5,1400 L434,1400.4 L435.5,1397.5 L437,1396.5 L438.5,1398.5 L440,1398.7 L441.5,1395.9 L443,1395.7 L444.5,1395.7 L446,1394.6 L447.5,1392.3 L449,1392.1 L450.5,1391.1 L452,1390.3 L453.5,1389.1 L455,1389.6 L456.5,1388.1 L458,1389.9 L459.5,1387 L461,1388.9 L462.5,1387.5 L464,1384.6 L465.5,1383.4 L467,1384.3 L468.5,1383.1 L470,1382.6 L471.5,1379.2 L473,1379 L474.5,1378.1 L476,1375.1 L477.5,1372.5 L479,1373.4 L480.5,1369.1 L482,1370.1 L483.5,1367.1 L485,1362.5 L486.5,1362.5 L488,1359.5 L489.5,1360.2 L491,1357 L492.5,1353.8 L494,1355.5 L495.5,1353.4 L497,1351.7 L498.5,1350.7 L500,1347.8 L501.5,1350.5 L503,1346.9 L504.5,1346.9 L506,1345.9 L507.5,1344.9 L509,1342.2 L510.5,1344.8 L512,1342.3 L513.5,1341 L515,1341.9 L516.5,1341 L518,1339.6 L519.5,1339.4 L521,1336.5 L522.5,1335 L524,1335.4 L525.5,1335.8 L527,1336 L528.5,1335.3 L530,1334.3 L531.5,1333.6 L533,1333.3 L534.5,1332.4 L536,1329.6 L537.5,1331.1 L539,1329.5 L540.5,1328.5 L542,1331.1 L543.5,1332.5 L545,1330.8 L546.5,1332.8 L548,1333.2 L549.5,1333.9 L551,1335.2 L552.5,1335 L554,1333 L555.5,1336 L557,1336.4 L558.5,1338.2 L560,1340.7 L561.5,1340.2 L563,1343.5 L564.5,1346.3 L566,1344.3 L567.5,1348.9 L569,1349.8 L570.5,1350 L572,1352.7 L573.5,1351.1 L575,1352.6 L576.5,1357.2 L578,1356.9 L579.5,1356.3 L581,1357.3 L582.5,1359.8 L584,1360.2 L585.5,1362 L587,1358.7 L588.5,1360.5 L590,1359.8 L591.5,1360.2 L593,1361.8 L594.5,1358.5 L596,1361.3 L597.5,1360.9 L599,1359.1 L600.5,1358.5 L602,1361 L603.5,1361.4 L605,1359.4 L606.5,1358.6 L608,1360.2 L609.5,1360.7 L611,1359.9 L612.5,1360.9 L614,1360.4 L615.5,1361.3 L617,1362.4 L618.5,1365.3 L620,1363.5 L621.5,1362.6 L623,1362.5 L624.5,1360.2 L626,1359.2 L627.5,1359.9 L629,1356.7 L630.5,1356.8 L632,1353.7 L633.5,1354.3 L635,1353.8 L636.5,1351.6 L638,1349.4 L639.5,1347.5 L641,1347.3 L642.5,1346.6 L644,1344.2 L645.5,1344.3 L647,1343.4 L648.5,1340.5 L650,1341.7 L651.5,1341.6 L653,1339.4 L654.5,1337.2 L656,1337.5 L657.5,1336.8 L659,1335.6 L660.5,1334.4 L662,1332.5 L663.5,1332 L665,1330 L666.5,1327.1 L668,1325.1 L669.5,1325.3 L671,1325.2 L672.5,1322.6 L674,1322 L675.5,1320 L677,1319 L678.5,1318.9 L680,1320.4 L681.5,1316.3 L683,1315.8 L684.5,1315.9 L686,1317.3 L687.5,1313.4 L689,1311.8 L690.5,1310.9 L692,1311.2 L693.5,1308.9 L695,1310.7 L696.5,1306.5 L698,1305.2 L699.5,1303 L701,1302 L702.5,1299.6 L704,1298.1 L705.5,1296.5 L707,1294.9 L708.5,1294.7 L710,1291.9 L711.5,1290 L713,1288 L714.5,1290.2 L716,1288.9 L717.5,1288.1 L719,1285.9 L720.5,1283.6 L722,1281.9 L723.5,1280.2 L725,1279.9 L726.5,1278.6 L728,1279.5 L729.5,1275.3 L731,1276.1 L732.5,1275 L734,1273.5 L735.5,1272.1 L737,1269 L738.5,1268.5 L740,1269.1 L741.5,1268.5 L743,1269.1 L744.5,1267.5 L746,1264.3 L747.5,1263.1 L749,1264.7 L750.5,1260.8 L752,1263.5 L753.5,1259.3 L755,1260.4 L756.5,1260.5 L758,1256.6 L759.5,1256.3 L761,1259.6 L762.5,1261.2 L764,1259.5 L765.5,1262.5 L767,1265 L768.5,1266.1 L770,1265.8 L771.5,1265.4 L773,1269 L774.5,1269.9 L776,1270.6 L777.5,1272.5 L779,1273.6 L780.5,1274.4 L782,1275.8 L783.5,1277.1 L785,1279.1 L786.5,1280.3 L788,1278.4 L789.5,1282.6 L791,1281.5 L792.5,1283.3 L794,1283.5 L795.5,1285 L797,1286.4 L798.5,1287.6 L800,1287.3 L801.5,1289.1 L803,1290.8 L804.5,1291.6 L806,1293.2 L807.5,1292.4 L809,1295.4 L810.5,1297.9 L812,1298.3 L813.5,1298.6 L815,1300.6 L816.5,1300 L818,1300.2 L819.5,1303 L821,1302.6 L822.5,1303.3 L824,1305.9 L825.5,1305.4 L827,1304.7 L828.5,1305.5 L830,1308.1 L831.5,1308.4 L833,1310 L834.5,1309.9 L836,1308.7 L837.5,1311 L839,1312.3 L840.5,1312.9 L842,1313.6 L843.5,1311.2 L845,1312.2 L846.5,1312.5 L848,1315.7 L849.5,1315.8 L851,1315.8 L852.5,1315 L854,1316 L855.5,1317.3 L857,1314.8 L858.5,1318.4 L860,1317.8 L861.5,1318.7 L863,1319 L864.5,1317.4 L866,1316.7 L867.5,1317.2 L869,1317.8 L870.5,1318.4 L872,1317.2 L873.5,1317.4 L875,1318.5 L876.5,1319.5 L878,1316.7 L879.5,1320.4 L881,1319.6 L882.5,1319.1 L884,1319.5 L885.5,1320.6 L887,1319 L888.5,1318.6 L890,1317.7 L891.5,1318.6 L893,1317.5 L894.5,1318.3 L896,1319.9 L897.5,1318.7 L899,1320.9 L900.5,1319.2 L902,1320.6 L903.5,1318.1 L905,1321.2 L906.5,1320.7 L908,1320.9 L909.5,1320.5 L911,1319.4 L912.5,1317.9 L914,1320.7 L915.5,1321.1 L917,1318.9 L918.5,1319.8 L920,1319 L921.5,1319.2 L923,1319.5 L924.5,1318.2 L926,1315.8 L927.5,1316.7 L929,1316.8 L930.5,1315.3 L932,1316.9 L933.5,1315.1 L935,1313.8 L936.5,1314.6 L938,1315.8 L939.5,1315.1 L941,1313.6 L942.5,1313.7 L944,1314.5 L945.5,1314.8 L947,1311.5 L948.5,1312.2 L950,1313.7 L951.5,1313.5 L953,1313.9 L954.5,1315 L956,1315 L957.5,1315.2 L959,1317.3 L960.5,1318 L962,1319.3 L963.5,1321.1 L965,1321.8 L966.5,1320.5 L968,1320.3 L969.5,1322.3 L971,1322.2 L972.5,1323.4 L974,1325.3 L975.5,1325.3 L977,1326.8 L978.5,1326.7 L980,1327.7 L981.5,1330.3 L983,1331 L984.5,1332.8 L986,1334.2 L987.5,1337.1 L989,1337 L990.5,1338.2 L992,1340.8 L993.5,1340.8 L995,1344.9 L996.5,1345.6 L998,1346.7 L999.5,1349.6 L1001,1351.5 L1002.5,1353.4 L1004,1354.8 L1005.5,1358.1 L1007,1358.6 L1008.5,1362.6 L1010,1363.6 L1011.5,1368.4 L1013,1368.8 L1014.5,1372 L1016,1376.6 L1017.5,1378.9 L1019,1379.4 L1020.5,1381.1 L1022,1386.7 L1023.5,1386.5 L1025,1387 L1026.5,1390.8 L1028,1393.9 L1029.5,1394.9 L1031,1395.6 L1032.5,1398.4 L1034,1399.8 L1035.5,1404 L1037,1405.3 L1038.5,1404.9 L1040,1408.4 L1041.5,1411.1 L1043,1410.5 L1044.5,1411.8 L1046,1415 L1047.5,1416.7 L1049,1417.4 L1050.5,1419.3 L1052,1421.1 L1053.5,1422.9 L1055,1422 L1056.5,1424.5 L1058,1425.2 L1059.5,1427 L1061,1431.3 L1062.5,1431.6 L1064,1433.9 L1064.7,1432.9 L1064.7,1481.6 L1064,1478.7 L1062.5,1478 L1061,1480.5 L1059.5,1479.3 L1058,1478.8 L1056.5,1475.5 L1055,1474.4 L1053.5,1476.1 L1052,1473.1 L1050.5,1474.1 L1049,1470.9 L1047.5,1470.4 L1046,1468.5 L1044.5,1467.4 L1043,1467.9 L1041.5,1468.9 L1040,1464.2 L1038.5,1465.4 L1037,1462.9 L1035.5,1462.5 L1034,1460.5 L1032.5,1460.5 L1031,1460.2 L1029.5,1456.6 L1028,1457.4 L1026.5,1455.2 L1025,1453.5 L1023.5,1451.8 L1022,1448.9 L1020.5,1450.1 L1019,1446.2 L1017.5,1443.6 L1016,1440.1 L1014.5,1438.5 L1013,1434.3 L1011.5,1431.4 L1010,1429.7 L1008.5,1425.5 L1007,1423.7 L1005.5,1417.9 L1004,1415.3 L1002.5,1415.3 L1001,1412.5 L999.5,1410.5 L998,1407.1 L996.5,1406.5 L995,1401.6 L993.5,1401.6 L992,1397.2 L990.5,1399 L989,1397.3 L987.5,1393.2 L986,1391.3 L984.5,1388.9 L983,1386.3 L981.5,1386.6 L980,1385 L978.5,1382.3 L977,1380.1 L975.5,1382.2 L974,1381 L972.5,1381.2 L971,1377.5 L969.5,1378.7 L968,1379.7 L966.5,1379.6 L965,1375.5 L963.5,1377.5 L962,1377.8 L960.5,1374.2 L959,1375.6 L957.5,1375.1 L956,1372 L954.5,1374.8 L953,1371.9 L951.5,1370.1 L950,1372.9 L948.5,1370.6 L947,1369.1 L945.5,1371.8 L944,1371.2 L942.5,1372 L941,1370.6 L939.5,1368.9 L938,1372.8 L936.5,1370.4 L935,1371 L933.5,1372.5 L932,1370.4 L930.5,1370 L929,1373.2 L927.5,1373.5 L926,1373.8 L924.5,1372.1 L923,1370.5 L921.5,1370.6 L920,1374.3 L918.5,1374.6 L917,1372.8 L915.5,1372 L914,1373 L912.5,1374.8 L911,1375.5 L909.5,1374.4 L908,1375.3 L906.5,1375.5 L905,1372.9 L903.5,1373.3 L902,1374.9 L900.5,1376.2 L899,1375.9 L897.5,1375.6 L896,1376.4 L894.5,1375.5 L893,1376 L891.5,1374.2 L890,1374.6 L888.5,1374.2 L887,1376.8 L885.5,1375.1 L884,1378.2 L882.5,1378.1 L881,1375.6 L879.5,1377.2 L878,1379.1 L876.5,1377.7 L875,1378.3 L873.5,1379.5 L872,1379.8 L870.5,1379.6 L869,1382.1 L867.5,1381.7 L866,1382 L864.5,1384.7 L863,1385.2 L861.5,1386 L860,1386.1 L858.5,1386.1 L857,1385.3 L855.5,1388.3 L854,1387.8 L852.5,1388.5 L851,1388.1 L849.5,1386 L848,1384.1 L846.5,1385.3 L845,1385.9 L843.5,1383.8 L842,1385.6 L840.5,1385 L839,1382.6 L837.5,1380.8 L836,1381.7 L834.5,1379.2 L833,1380.8 L831.5,1381.7 L830,1377.6 L828.5,1377.7 L827,1377.8 L825.5,1376.4 L824,1376.3 L822.5,1378.4 L821,1375.8 L819.5,1374.4 L818,1373.9 L816.5,1373 L815,1370.6 L813.5,1371.7 L812,1370.4 L810.5,1370.4 L809,1368.9 L807.5,1368.1 L806,1365.6 L804.5,1365.5 L803,1365.8 L801.5,1361.8 L800,1360.5 L798.5,1361.3 L797,1359.1 L795.5,1357.4 L794,1355.6 L792.5,1356.6 L791,1355 L789.5,1353.8 L788,1353.9 L786.5,1351.9 L785,1351.7 L783.5,1349.6 L782,1347 L780.5,1345 L779,1346.8 L777.5,1343.3 L776,1344.4 L774.5,1342 L773,1339 L771.5,1337.8 L770,1336.8 L768.5,1338.4 L767,1336.5 L765.5,1333 L764,1332.4 L762.5,1333.2 L761,1331 L759.5,1328.3 L758,1329.2 L756.5,1330.6 L755,1332.1 L753.5,1332.6 L752,1333.2 L750.5,1333.6 L749,1332.3 L747.5,1334.6 L746,1333.5 L744.5,1335.6 L743,1336.7 L741.5,1336.3 L740,1338.2 L738.5,1338 L737,1338.5 L735.5,1338.7 L734,1339.6 L732.5,1340.4 L731,1340.3 L729.5,1341.8 L728,1343.5 L726.5,1344.9 L725,1345.1 L723.5,1345.2 L722,1344.1 L720.5,1347.3 L719,1346.2 L717.5,1350.1 L716,1348.6 L714.5,1351.1 L713,1350.2 L711.5,1353.6 L710,1353.5 L708.5,1354.4 L707,1356.3 L705.5,1360.6 L704,1360.6 L702.5,1366.1 L701,1368.1 L699.5,1368.8 L698,1372.6 L696.5,1373.7 L695,1376.7 L693.5,1379.1 L692,1378.3 L690.5,1380.3 L689,1382.3 L687.5,1384.5 L686,1385.3 L684.5,1384.1 L683,1386.2 L681.5,1387.1 L680,1386.2 L678.5,1389.4 L677,1389.3 L675.5,1391.5 L674,1391.5 L672.5,1392.4 L671,1393.5 L669.5,1394.7 L668,1397 L666.5,1395.1 L665,1395.5 L663.5,1398.5 L662,1400 L660.5,1397.5 L659,1398.7 L657.5,1399.7 L656,1398.9 L654.5,1403.2 L653,1400.8 L651.5,1403.1 L650,1404 L648.5,1403.8 L647,1402.3 L645.5,1403 L644,1405.2 L642.5,1407 L641,1409.2 L639.5,1411.6 L638,1413.1 L636.5,1416.8 L635,1416.3 L633.5,1418.5 L632,1418.5 L630.5,1422.1 L629,1420.2 L627.5,1424.6 L626,1425.1 L624.5,1423.3 L623,1424.9 L621.5,1426 L620,1428.1 L618.5,1426.7 L617,1428.7 L615.5,1427.8 L614,1427.8 L612.5,1428.4 L611,1426.2 L609.5,1427.2 L608,1426.2 L606.5,1424.9 L605,1425.2 L603.5,1426.1 L602,1428.3 L600.5,1428 L599,1426.9 L597.5,1425.4 L596,1427.6 L594.5,1426.1 L593,1425.2 L591.5,1427.8 L590,1428.3 L588.5,1428.6 L587,1428.4 L585.5,1426.4 L584,1428.8 L582.5,1426.7 L581,1425.3 L579.5,1424 L578,1425.6 L576.5,1422.5 L575,1420.6 L573.5,1420.5 L572,1419.3 L570.5,1417.1 L569,1416.9 L567.5,1416 L566,1417.1 L564.5,1415.4 L563,1413.6 L561.5,1411.9 L560,1411.6 L558.5,1412.2 L557,1411.7 L555.5,1410.5 L554,1406.6 L552.5,1407.8 L551,1408.4 L549.5,1407.6 L548,1405.3 L546.5,1403 L545,1402.1 L543.5,1404 L542,1401.9 L540.5,1400.2 L539,1401.8 L537.5,1402.5 L536,1402.7 L534.5,1403.2 L533,1404.9 L531.5,1405.7 L530,1409.2 L528.5,1407.5 L527,1409.8 L525.5,1411 L524,1413.5 L522.5,1415.1 L521,1415 L519.5,1414.3 L518,1417.1 L516.5,1419.4 L515,1419.9 L513.5,1419.3 L512,1422.7 L510.5,1422.3 L509,1425.3 L507.5,1423.8 L506,1425 L504.5,1427.9 L503,1426.9 L501.5,1431.3 L500,1430.5 L498.5,1433.4 L497,1433.5 L495.5,1435.8 L494,1435 L492.5,1435.9 L491,1440.6 L489.5,1440.4 L488,1444.5 L486.5,1444.9 L485,1447.9 L483.5,1446.1 L482,1448.7 L480.5,1452.9 L479,1451.2 L477.5,1452.4 L476,1454.8 L474.5,1458.5 L473,1458.3 L471.5,1460.4 L470,1462.3 L468.5,1461.6 L467,1465.9 L465.5,1464.9 L464,1465.7 L462.5,1467.2 L461,1468.1 L459.5,1468.2 L458,1469 L456.5,1470.9 L455,1473.6 L453.5,1473.9 L452,1475.3 L450.5,1477.4 L449,1475.7 L447.5,1477.9 L446,1477.7 L444.5,1478.7 L443,1479.6 L441.5,1479.7 L440,1480.8 L438.5,1482.4 L437,1483.2 L435.5,1483.2 L434,1483.7 L432.5,1483.5 L431,1484.9 L429.5,1486.7 L428,1488.3 L426.5,1485.4 L425,1486.1 L423.5,1489.9 L422,1490.2 L420.5,1491.7 L419,1492.1 L417.5,1492.6 L416,1493.9 L414.5,1493.1 L413,1493.1 L411.5,1494.6 L410,1497.8 L408.5,1498.8 L407,1496.7 L405.5,1497.8 L404,1498.9 L402.5,1502.3 L401,1503.3 L399.5,1501.9 L398,1504.6 L396.5,1501.4 L395,1504.7 L393.5,1506.6 L392,1505.5 L390.5,1506.9 L389,1508.1 L387.5,1505.3 L386,1509.4 L384.5,1507 L383,1507.6 L381.5,1509.7 L380,1510.3 L378.5,1509.5 L377,1509.3 L375.5,1510.3 L374,1512.7 L372.5,1512.8 L371,1514.1 L369.5,1513.2 L368,1513.9 L366.5,1515.1 L365,1516 L363.5,1516.7 L362,1516.6 L360.5,1515.6 L359,1517.6 L357.5,1518.6 L356,1518.2 L354.5,1518.1 L353,1517.2 L351.5,1519 L350,1519.8 L348.5,1518.2 L347,1518.3 L345.5,1519.6 L344,1522 L342.5,1520.8 L341,1519.8 L339.5,1522.1 L338,1524.5 L336.5,1524.6 L335,1522.5 L333.5,1524 L332,1524.1 L330.5,1524.7 L329,1526 L327.5,1525.7 L326,1523.7 L324.5,1523.7 L323,1526.2 L321.5,1525.8 L320,1524.6 L318.5,1527 L317,1527.9 L315.5,1525.7 L314,1526.4 L312.5,1526.9 L311,1525 L309.5,1528.5 L308,1525.6 L306.5,1528.5 L305,1527 L303.5,1527.6 L302,1526.1 L300.5,1527.2 L299,1529.2 L297.5,1528.4 L296,1527.8 L294.5,1528.4 L293,1528.5 L291.5,1529.5 L290,1527.8 L288.5,1528 L287,1528.4 L285.5,1527.7 L284,1528.9 L282.5,1528.2 L281,1528.5 L279.5,1528.6 L278,1530.7 L276.5,1531.8 L275,1532.6 L273.5,1529.6 L272,1530.2 L270.5,1530.9 L269,1532.1 L267.5,1532 L266,1533.2 L264.5,1531.5 L263,1532.9 L261.5,1533.1 L260,1533.8 L258.5,1533.3 L257,1536.2 L255.5,1537.1 L254,1534.7 L252.5,1535.3 L251,1538.5 L249.5,1535.1 L248,1535.7 L246.5,1538.3 L245,1538.1 L243.5,1539.9 L242,1539.9 L240.5,1538.6 L239,1540.2 L237.5,1540 L236,1538.1 L234.5,1540.2 L233,1539.8 L231.5,1540.1 L230,1541.8 L228.5,1543.9 L227,1542.9 L225.5,1544.1 L224,1546.8 L222.5,1545.8 L221,1547.2 L219.5,1548.3 L218,1547.3 L216.5,1551.1 L215,1552 L213.5,1551.9 L212,1551.4 L210.5,1554.4 L209,1554.6 L207.5,1555.3 Z" fill="#3a9d50" fill-opacity="0.8" clip-path="url(#oliveClip)"/>
<path d="M207.5,1508.5 L209,1507.1 L210.5,1505.8 L212,1506.6 L213.5,1504.7 L215,1504 L216.5,1502.6 L218,1501.1 L219.5,1500.9 L221,1499.9 L222.5,1499.8 L224,1499.1 L225.5,1499 L227,1497.5 L228.5,1496.3 L230,1495.8 L231.5,1496.7 L233,1494.9 L234.5,1495.5 L236,1495 L237.5,1493.1 L239,1494.3 L240.5,1492 L242,1493.5 L243.5,1493.1 L245,1491.2 L246.5,1492 L248,1491.7 L249.5,1489.8 L251,1490.8 L252.5,1489.1 L254,1490.6 L255.5,1489.7 L257,1490 L258.5,1487.4 L260,1487.7 L261.5,1488 L263,1487.6 L264.5,1486.2 L266,1487.6 L267.5,1487.1 L269,1485.2 L270.5,1484.2 L272,1484.9 L273.5,1483.6 L275,1483.6 L276.5,1482.6 L278,1481.8 L279.5,1480.3 L281,1480.5 L282.5,1481.5 L284,1482.4 L285.5,1481.9 L287,1482.9 L288.5,1482.6 L290,1483.7 L291.5,1483.3 L293,1482.8 L294.5,1482.6 L296,1482.6 L297.5,1482.8 L299,1485 L300.5,1485.2 L302,1485.2 L303.5,1483.8 L305,1485.4 L306.5,1484 L308,1485.6 L309.5,1484.9 L311,1485 L312.5,1484.5 L314,1483.9 L315.5,1484.8 L317,1484.9 L318.5,1483 L320,1483.3 L321.5,1483.9 L323,1483.6 L324.5,1482.8 L326,1482.8 L327.5,1483.9 L329,1482.1 L330.5,1481.7 L332,1482.4 L333.5,1481 L335,1482 L336.5,1480.2 L338,1481.2 L339.5,1479.5 L341,1480.3 L342.5,1479.5 L344,1479.1 L345.5,1477.4 L347,1476.8 L348.5,1476.6 L350,1477.2 L351.5,1478.7 L353,1477.6 L354.5,1478.3 L356,1479.4 L357.5,1478.7 L359,1479.4 L360.5,1479.2 L362,1479.7 L363.5,1477.8 L365,1479.3 L366.5,1477.8 L368,1477.5 L369.5,1476.6 L371,1475.9 L372.5,1476.4 L374,1475.7 L375.5,1475 L377,1472.5 L378.5,1473.3 L380,1473.6 L381.5,1471.9 L383,1470.7 L384.5,1470.2 L386,1468.1 L387.5,1468.5 L389,1467.8 L390.5,1465.2 L392,1465.3 L393.5,1464.6 L395,1463.1 L396.5,1463 L398,1462.7 L399.5,1461.8 L401,1459.4 L402.5,1458.2 L404,1458.9 L405.5,1457.6 L407,1457.6 L408.5,1457.2 L410,1455.3 L411.5,1455.5 L413,1454.4 L414.5,1455 L416,1454.3 L417.5,1452.7 L419,1452.8 L420.5,1452.7 L422,1451.7 L423.5,1451.4 L425,1451.9 L426.5,1450.8 L428,1451.7 L429.5,1452.6 L431,1452.2 L432.5,1450.2 L434,1450.7 L435.5,1449.1 L437,1447.7 L438.5,1444.7 L440,1445.1 L441.5,1442.4 L443,1442.5 L444.5,1440 L446,1439.1 L447.5,1437.7 L449,1438.5 L450.5,1436 L452,1436.7 L453.5,1434.9 L455,1433.2 L456.5,1433.5 L458,1432.3 L459.5,1430.4 L461,1431.5 L462.5,1429.4 L464,1428.1 L465.5,1429.1 L467,1428.3 L468.5,1426.7 L470,1425.5 L471.5,1425.3 L473,1424.4 L474.5,1423.6 L476,1422 L477.5,1421.2 L479,1420.5 L480.5,1418.2 L482,1417.1 L483.5,1416.3 L485,1415.1 L486.5,1413.4 L488,1411.7 L489.5,1409 L491,1407.8 L492.5,1404.6 L494,1403.4 L495.5,1401 L497,1401.3 L498.5,1400.2 L500,1397.9 L501.5,1396.6 L503,1394.2 L504.5,1393.7 L506,1390.5 L507.5,1389.7 L509,1388.7 L510.5,1389.1 L512,1386.5 L513.5,1385.6 L515,1384.5 L516.5,1385.4 L518,1383.3 L519.5,1383.8 L521,1381.4 L522.5,1381.6 L524,1379.1 L525.5,1379.8 L527,1379 L528.5,1377.4 L530,1375.5 L531.5,1374.5 L533,1373 L534.5,1371.6 L536,1368.5 L537.5,1368.3 L539,1368.7 L540.5,1368.1 L542,1368.2 L543.5,1370.5 L545,1369.9 L546.5,1370.6 L548,1371.9 L549.5,1371.5 L551,1371.4 L552.5,1372.9 L554,1373.5 L555.5,1373.8 L557,1375.7 L558.5,1377.1 L560,1376.4 L561.5,1378.7 L563,1379.4 L564.5,1379.8 L566,1380.3 L567.5,1382.9 L569,1383.5 L570.5,1384.9 L572,1387.8 L573.5,1387.9 L575,1389 L576.5,1392.3 L578,1394.2 L579.5,1394 L581,1394.9 L582.5,1395.5 L584,1396.3 L585.5,1394.7 L587,1396.5 L588.5,1395.8 L590,1397.7 L591.5,1396.7 L593,1398.2 L594.5,1397.3 L596,1397.5 L597.5,1395.5 L599,1395.3 L600.5,1394.9 L602,1394.6 L603.5,1393.5 L605,1393.6 L606.5,1393.1 L608,1394.7 L609.5,1396 L611,1396.1 L612.5,1395.9 L614,1397.2 L615.5,1397.2 L617,1398.1 L618.5,1398.8 L620,1399 L621.5,1399.1 L623,1397.4 L624.5,1395.3 L626,1393.3 L627.5,1391.8 L629,1390.3 L630.5,1388.5 L632,1386.2 L633.5,1383 L635,1384.1 L636.5,1382 L638,1380.5 L639.5,1379.2 L641,1377.6 L642.5,1375.9 L644,1376.1 L645.5,1374.8 L647,1372 L648.5,1372.5 L650,1371 L651.5,1369.4 L653,1367.1 L654.5,1365.2 L656,1363.9 L657.5,1362.2 L659,1362.1 L660.5,1360.6 L662,1359.5 L663.5,1357.4 L665,1356.3 L666.5,1355.6 L668,1353.5 L669.5,1352.1 L671,1353.7 L672.5,1351.9 L674,1351.9 L675.5,1352.5 L677,1351.5 L678.5,1352.6 L680,1351.7 L681.5,1353.3 L683,1350.9 L684.5,1350.8 L686,1347.7 L687.5,1347.2 L689,1345.4 L690.5,1344 L692,1340.3 L693.5,1340.5 L695,1336.7 L696.5,1335.3 L698,1332.7 L699.5,1332.1 L701,1329.3 L702.5,1328.6 L704,1327.7 L705.5,1325.6 L707,1323.5 L708.5,1320.7 L710,1321.5 L711.5,1318.7 L713,1318.8 L714.5,1315.6 L716,1314.7 L717.5,1314.9 L719,1313.2 L720.5,1310.5 L722,1309.9 L723.5,1308.8 L725,1306.8 L726.5,1305.7 L728,1304.8 L729.5,1305.2 L731,1304.4 L732.5,1303.6 L734,1303.4 L735.5,1302.4 L737,1301.9 L738.5,1302.2 L740,1300.1 L741.5,1299.4 L743,1299.6 L744.5,1298.5 L746,1298.3 L747.5,1298.5 L749,1298.1 L750.5,1297.1 L752,1296.6 L753.5,1294.3 L755,1293.9 L756.5,1292.6 L758,1292.4 L759.5,1292 L761,1292.4 L762.5,1293.1 L764,1295.1 L765.5,1294.6 L767,1296 L768.5,1295.6 L770,1296.7 L771.5,1297 L773,1297.3 L774.5,1299.4 L776,1300.1 L777.5,1301.4 L779,1302.2 L780.5,1303.4 L782,1305.7 L783.5,1307.1 L785,1307.9 L786.5,1311.4 L788,1310.6 L789.5,1313.1 L791,1313.8 L792.5,1315.4 L794,1317.7 L795.5,1319.2 L797,1319 L798.5,1321 L800,1322.6 L801.5,1322.4 L803,1323.8 L804.5,1325.1 L806,1327.5 L807.5,1327.7 L809,1330.7 L810.5,1330.4 L812,1333.1 L813.5,1334.5 L815,1334.6 L816.5,1336.8 L818,1339.5 L819.5,1340 L821,1340.6 L822.5,1342.6 L824,1343.8 L825.5,1344.7 L827,1345.6 L828.5,1347.9 L830,1348.3 L831.5,1348.8 L833,1349.9 L834.5,1351.7 L836,1351.5 L837.5,1352.8 L839,1354 L840.5,1352.9 L842,1353.5 L843.5,1353.8 L845,1355.8 L846.5,1356.6 L848,1356.7 L849.5,1357.1 L851,1356.2 L852.5,1357.5 L854,1358.2 L855.5,1358.4 L857,1357.8 L858.5,1357.5 L860,1356.6 L861.5,1355.7 L863,1356.3 L864.5,1354.5 L866,1354.9 L867.5,1354.3 L869,1354.9 L870.5,1354.6 L872,1353.9 L873.5,1352.8 L875,1354.4 L876.5,1354.3 L878,1354 L879.5,1354.8 L881,1353.5 L882.5,1353.2 L884,1353.5 L885.5,1352.4 L887,1353.6 L888.5,1352.3 L890,1353.5 L891.5,1353.3 L893,1353.4 L894.5,1352.1 L896,1353.3 L897.5,1353.8 L899,1353.8 L900.5,1353.2 L902,1351.5 L903.5,1352.8 L905,1351.2 L906.5,1352.9 L908,1350.5 L909.5,1350.2 L911,1351 L912.5,1350 L914,1351.9 L915.5,1351.7 L917,1349.9 L918.5,1351.1 L920,1349.7 L921.5,1350.6 L923,1348.8 L924.5,1350.6 L926,1349 L927.5,1347.9 L929,1347.8 L930.5,1346.1 L932,1345.6 L933.5,1346.1 L935,1345.8 L936.5,1346.2 L938,1344.4 L939.5,1343.4 L941,1342.6 L942.5,1342 L944,1344.3 L945.5,1343.9 L947,1343 L948.5,1344.2 L950,1344.2 L951.5,1344.2 L953,1343.8 L954.5,1345 L956,1345.2 L957.5,1344.9 L959,1343.6 L960.5,1344.4 L962,1345 L963.5,1345.9 L965,1345.7 L966.5,1346.6 L968,1346.5 L969.5,1347.4 L971,1348.7 L972.5,1350.6 L974,1350.4 L975.5,1352.6 L977,1353.2 L978.5,1353.3 L980,1354.9 L981.5,1356.8 L983,1356.1 L984.5,1358.7 L986,1360.2 L987.5,1361.9 L989,1361.6 L990.5,1363.5 L992,1365.1 L993.5,1365.1 L995,1367.5 L996.5,1368.4 L998,1369.8 L999.5,1369.5 L1001,1371.3 L1002.5,1375.7 L1004,1379.5 L1005.5,1383.8 L1007,1387.8 L1008.5,1391.7 L1010,1396.9 L1011.5,1398 L1013,1398.7 L1014.5,1399.1 L1016,1399.6 L1017.5,1402.2 L1019,1402 L1020.5,1404.4 L1022,1408.2 L1023.5,1408.7 L1025,1412 L1026.5,1414.3 L1028,1415.6 L1029.5,1418.5 L1031,1421.7 L1032.5,1424.1 L1034,1425.9 L1035.5,1430.2 L1037,1432.2 L1038.5,1433.8 L1040,1437.9 L1041.5,1439.9 L1043,1442.2 L1044.5,1444.1 L1046,1445.4 L1047.5,1445.5 L1049,1447.4 L1050.5,1448.9 L1052,1451.5 L1053.5,1452.4 L1055,1456.7 L1056.5,1457 L1058,1459.1 L1059.5,1457 L1061,1451.7 L1062.5,1450.8 L1064,1449.6 L1064.7,1449.9" fill="none" stroke="#006400" stroke-width="4.2" stroke-linejoin="round"/>
</g>
<line x1="133.5" y1="1377.2" x2="1081" y2="1377.2" stroke="#000" stroke-width="1.3"/>
<line x1="133.3" y1="1178.3" x2="133.3" y2="1570.5" stroke="#888" stroke-width="1.3"/>
<line x1="1081" y1="1178.3" x2="1081" y2="1570.5" stroke="#000" stroke-width="1.3"/>
<line x1="128.8" y1="1206.6" x2="133.3" y2="1206.6" stroke="#008000" stroke-width="1.1"/>
<text x="126.3" y="1213.7" font-size="20.67" fill="#008000" text-anchor="end" textLength="31.0" lengthAdjust="spacingAndGlyphs">1.5</text>
<line x1="128.8" y1="1262.6" x2="133.3" y2="1262.6" stroke="#008000" stroke-width="1.1"/>
<text x="126.3" y="1269.7" font-size="20.67" fill="#008000" text-anchor="end" textLength="31.0" lengthAdjust="spacingAndGlyphs">1.0</text>
<line x1="128.8" y1="1318.6" x2="133.3" y2="1318.6" stroke="#008000" stroke-width="1.1"/>
<text x="126.3" y="1325.7" font-size="20.67" fill="#008000" text-anchor="end" textLength="31.0" lengthAdjust="spacingAndGlyphs">0.5</text>
<line x1="128.8" y1="1374.6" x2="133.3" y2="1374.6" stroke="#008000" stroke-width="1.1"/>
<text x="126.3" y="1381.7" font-size="20.67" fill="#008000" text-anchor="end" textLength="31.0" lengthAdjust="spacingAndGlyphs">0.0</text>
<line x1="128.8" y1="1430.6" x2="133.3" y2="1430.6" stroke="#008000" stroke-width="1.1"/>
<text x="126.3" y="1437.7" font-size="20.67" fill="#008000" text-anchor="end" textLength="47.4" lengthAdjust="spacingAndGlyphs">−0.5</text>
<line x1="128.8" y1="1486.6" x2="133.3" y2="1486.6" stroke="#008000" stroke-width="1.1"/>
<text x="126.3" y="1493.7" font-size="20.67" fill="#008000" text-anchor="end" textLength="47.4" lengthAdjust="spacingAndGlyphs">−1.0</text>
<line x1="128.8" y1="1542.6" x2="133.3" y2="1542.6" stroke="#008000" stroke-width="1.1"/>
<text x="126.3" y="1549.7" font-size="20.67" fill="#008000" text-anchor="end" textLength="47.4" lengthAdjust="spacingAndGlyphs">−1.5</text>
<line x1="1081" y1="1216.8" x2="1085.5" y2="1216.8" stroke="#6b8e23" stroke-width="1.1"/>
<text x="1089" y="1223.9" font-size="20.67" fill="#6b8e23" text-anchor="start" textLength="59.8" lengthAdjust="spacingAndGlyphs">−29.0</text>
<line x1="1081" y1="1279.9" x2="1085.5" y2="1279.9" stroke="#6b8e23" stroke-width="1.1"/>
<text x="1089" y="1287" font-size="20.67" fill="#6b8e23" text-anchor="start" textLength="59.8" lengthAdjust="spacingAndGlyphs">−29.5</text>
<line x1="1081" y1="1343.4" x2="1085.5" y2="1343.4" stroke="#6b8e23" stroke-width="1.1"/>
<text x="1089" y="1350.5" font-size="20.67" fill="#6b8e23" text-anchor="start" textLength="59.8" lengthAdjust="spacingAndGlyphs">−30.0</text>
<line x1="1081" y1="1406.5" x2="1085.5" y2="1406.5" stroke="#6b8e23" stroke-width="1.1"/>
<text x="1089" y="1413.6" font-size="20.67" fill="#6b8e23" text-anchor="start" textLength="59.8" lengthAdjust="spacingAndGlyphs">−30.5</text>
<line x1="1081" y1="1469.5" x2="1085.5" y2="1469.5" stroke="#6b8e23" stroke-width="1.1"/>
<text x="1089" y="1476.6" font-size="20.67" fill="#6b8e23" text-anchor="start" textLength="59.8" lengthAdjust="spacingAndGlyphs">−31.0</text>
<line x1="1081" y1="1532.8" x2="1085.5" y2="1532.8" stroke="#6b8e23" stroke-width="1.1"/>
<text x="1089" y="1539.9" font-size="20.67" fill="#6b8e23" text-anchor="start" textLength="59.8" lengthAdjust="spacingAndGlyphs">−31.5</text>
<rect x="158" y="1200" width="34.5" height="34" fill="#fff"/>
<text x="161.5" y="1229.7" font-size="34.45" fill="#006400" text-anchor="start" font-weight="bold" textLength="27.0" lengthAdjust="spacingAndGlyphs">D</text>
<text x="19.2" y="1376.7" font-size="24.80" fill="#008000" text-anchor="middle" textLength="201.6" lengthAdjust="spacingAndGlyphs" transform="rotate(-90 19.2 1376.7)">WAIS summer air</text>
<text x="44.5" y="1374.5" font-size="24.80" fill="#008000" text-anchor="middle" textLength="313.0" lengthAdjust="spacingAndGlyphs" transform="rotate(-90 44.5 1374.5)">temperature anomaly (°C)</text>
<text x="70.5" y="1369.6" font-size="24.80" fill="#008000" text-anchor="middle" textLength="214.6" lengthAdjust="spacingAndGlyphs" transform="rotate(-90 70.5 1369.6)">(Jones et al. 2023)</text>
<text x="1168.5" y="1366.9" font-size="24.80" fill="#6b8e23" text-anchor="middle" textLength="286.0" lengthAdjust="spacingAndGlyphs" transform="rotate(-90 1168.5 1366.9)">WAIS air temperature (°C)</text>
<text x="1196" y="1369.5" font-size="24.80" fill="#6b8e23" text-anchor="middle" textLength="227.9" lengthAdjust="spacingAndGlyphs" transform="rotate(-90 1196 1369.5)">(Cuffey et al. 2016)</text>
<line x1="133.5" y1="1576.5" x2="1080.5" y2="1576.5" stroke="#b0b0b0" stroke-opacity="0.33" stroke-width="1"/>
<line x1="133.5" y1="1635.5" x2="1080.5" y2="1635.5" stroke="#b0b0b0" stroke-opacity="0.33" stroke-width="1"/>
<line x1="133.5" y1="1695.5" x2="1080.5" y2="1695.5" stroke="#b0b0b0" stroke-opacity="0.33" stroke-width="1"/>
<line x1="133.5" y1="1754.5" x2="1080.5" y2="1754.5" stroke="#b0b0b0" stroke-opacity="0.33" stroke-width="1"/>
<line x1="133.5" y1="1814.5" x2="1080.5" y2="1814.5" stroke="#b0b0b0" stroke-opacity="0.33" stroke-width="1"/>
<line x1="133.5" y1="1873.5" x2="1080.5" y2="1873.5" stroke="#b0b0b0" stroke-opacity="0.33" stroke-width="1"/>
<line x1="133.5" y1="1932.5" x2="1080.5" y2="1932.5" stroke="#b0b0b0" stroke-opacity="0.33" stroke-width="1"/>
<line x1="271.5" y1="1569.8" x2="271.5" y2="1962" stroke="#b0b0b0" stroke-opacity="0.33" stroke-width="1"/>
<line x1="433.5" y1="1569.8" x2="433.5" y2="1962" stroke="#b0b0b0" stroke-opacity="0.33" stroke-width="1"/>
<line x1="594.5" y1="1569.8" x2="594.5" y2="1962" stroke="#b0b0b0" stroke-opacity="0.33" stroke-width="1"/>
<line x1="757.5" y1="1569.8" x2="757.5" y2="1962" stroke="#b0b0b0" stroke-opacity="0.33" stroke-width="1"/>
<line x1="918.5" y1="1569.8" x2="918.5" y2="1962" stroke="#b0b0b0" stroke-opacity="0.33" stroke-width="1"/>
<line x1="1080.5" y1="1569.8" x2="1080.5" y2="1962" stroke="#b0b0b0" stroke-opacity="0.33" stroke-width="1"/>
<path d="M128.3,1942 L133.7,1941.4 L141.5,1940.6 L149.2,1939.6 L156.1,1938.3 L163.1,1936.8 L170,1935.4 L176.9,1934.2 L183.9,1933.1 L190.8,1931.7 L197.8,1929.6 L204.7,1927.2 L211.7,1925 L218.8,1923.3 L225.9,1921.8 L232.5,1920 L238.2,1917.7 L243.5,1915.1 L249.2,1912.5 L256,1910.2 L263.2,1907.9 L270,1905.4 L275.6,1902.5 L280.7,1899.4 L286.7,1896.2 L294.7,1893.1 L303.7,1890 L311.7,1886.7 L317.5,1883.4 L322.5,1879.9 L328.3,1876.2 L336.3,1872.2 L345.3,1868 L353.3,1863.8 L359.2,1859.6 L364.1,1855.4 L370,1851.2 L378,1847.2 L387,1843.1 L395,1838.8 L401,1834 L406.1,1829 L411.7,1824.2 L418.5,1819.9 L425.7,1815.9 L432.5,1811.7 L438.1,1807.4 L443.2,1802.9 L449.2,1798.3 L457.2,1793.4 L466.2,1788.3 L474.2,1783.3 L480.2,1778.6 L485.3,1773.9 L490.8,1769.2 L497.5,1764.4 L504.6,1759.6 L511.7,1754.6 L518.6,1749.3 L525.6,1743.8 L532.5,1738.8 L539.6,1734.4 L546.7,1730.4 L553.3,1726.2 L558.9,1721.5 L564,1716.5 L570,1711.7 L578,1707.2 L586.9,1702.7 L595,1698.3 L601.3,1693.7 L606.7,1689.1 L612.5,1684.6 L619.3,1680.3 L626.5,1676.2 L633.3,1672.1 L638.9,1667.9 L644,1663.7 L650,1659.6 L658,1655.7 L667,1652 L675,1648.3 L681,1644.7 L686.1,1641.3 L691.7,1637.9 L698.3,1634.6 L705.4,1631.5 L712.5,1628.3 L719.4,1625 L726.4,1621.7 L733.3,1618.8 L740.3,1616.3 L747.2,1614.1 L754.2,1611.7 L761.1,1608.9 L768.1,1605.9 L775,1603.3 L781.9,1601.4 L788.9,1599.8 L795.8,1598.3 L802.8,1596.5 L809.7,1594.8 L816.7,1593.3 L823.6,1592.3 L830.6,1591.5 L837.5,1590.8 L844.4,1590 L851.4,1589.3 L858.3,1588.8 L865.3,1588.4 L872.2,1588.3 L879.2,1588.3 L886.1,1588.5 L893.1,1588.8 L900,1589.2 L906.9,1589.6 L913.9,1590.1 L920.8,1590.8 L927.8,1591.7 L934.7,1592.9 L941.7,1594.2 L948.6,1595.7 L955.6,1597.3 L962.5,1599.2 L969.6,1601.6 L976.7,1604.3 L983.3,1606.7 L989,1608.4 L994.3,1609.7 L1000,1611.7 L1006.6,1614.8 L1013.7,1618.5 L1020.8,1622.1 L1027.9,1625.3 L1035,1628.4 L1041.7,1631.7 L1047.3,1635.3 L1052.5,1639.1 L1058.3,1642.9 L1066.3,1647.2 L1075.1,1651.5 L1081.2,1654.6" fill="none" stroke="#800080" stroke-width="5" stroke-linejoin="round"/>
<line x1="133.2" y1="1569.8" x2="133.2" y2="1962" stroke="#000" stroke-width="1.3"/>
<line x1="133.2" y1="1962" x2="1081" y2="1962" stroke="#000" stroke-width="1.3"/>
<line x1="128.7" y1="1576.4" x2="133.2" y2="1576.4" stroke="#800080" stroke-width="1.1"/>
<text x="126.2" y="1583.5" font-size="20.67" fill="#800080" text-anchor="end" textLength="37.2" lengthAdjust="spacingAndGlyphs">560</text>
<line x1="128.7" y1="1635.8" x2="133.2" y2="1635.8" stroke="#800080" stroke-width="1.1"/>
<text x="126.2" y="1642.9" font-size="20.67" fill="#800080" text-anchor="end" textLength="37.2" lengthAdjust="spacingAndGlyphs">555</text>
<line x1="128.7" y1="1695.2" x2="133.2" y2="1695.2" stroke="#800080" stroke-width="1.1"/>
<text x="126.2" y="1702.3" font-size="20.67" fill="#800080" text-anchor="end" textLength="37.2" lengthAdjust="spacingAndGlyphs">550</text>
<line x1="128.7" y1="1754.6" x2="133.2" y2="1754.6" stroke="#800080" stroke-width="1.1"/>
<text x="126.2" y="1761.7" font-size="20.67" fill="#800080" text-anchor="end" textLength="37.2" lengthAdjust="spacingAndGlyphs">545</text>
<line x1="128.7" y1="1814" x2="133.2" y2="1814" stroke="#800080" stroke-width="1.1"/>
<text x="126.2" y="1821.1" font-size="20.67" fill="#800080" text-anchor="end" textLength="37.2" lengthAdjust="spacingAndGlyphs">540</text>
<line x1="128.7" y1="1873.4" x2="133.2" y2="1873.4" stroke="#800080" stroke-width="1.1"/>
<text x="126.2" y="1880.5" font-size="20.67" fill="#800080" text-anchor="end" textLength="37.2" lengthAdjust="spacingAndGlyphs">535</text>
<line x1="128.7" y1="1932.8" x2="133.2" y2="1932.8" stroke="#800080" stroke-width="1.1"/>
<text x="126.2" y="1939.9" font-size="20.67" fill="#800080" text-anchor="end" textLength="37.2" lengthAdjust="spacingAndGlyphs">530</text>
<text x="162.5" y="1621.8" font-size="34.45" fill="#800080" text-anchor="start" font-weight="bold" textLength="22.2" lengthAdjust="spacingAndGlyphs">E</text>
<text x="50.5" y="1770.5" font-size="24.80" fill="#800080" text-anchor="middle" textLength="227.6" lengthAdjust="spacingAndGlyphs" transform="rotate(-90 50.5 1770.5)">Antarctic Maximum</text>
<text x="78.5" y="1763.4" font-size="24.80" fill="#800080" text-anchor="middle" textLength="307.0" lengthAdjust="spacingAndGlyphs" transform="rotate(-90 78.5 1763.4)">Insolation Intensity (w/m²)</text>
<rect x="738" y="1807.3" width="336.7" height="147.5" rx="3" fill="#999" fill-opacity="0.55"/>
<rect x="735.4" y="1804.7" width="336.7" height="147.5" rx="3" fill="#fff" stroke="#ccc" stroke-width="1"/>
<rect x="738.4" y="1830.4" width="53.6" height="10.3" fill="#f6bec3"/>
<rect x="738.4" y="1871.3" width="53.6" height="10.3" fill="#fed07f"/>
<rect x="743.3" y="1913.6" width="43.4" height="15.7" fill="#8fc5fb" stroke="#808080" stroke-width="1.4"/>
<text x="804.2" y="1828" font-size="22.37" fill="#000" text-anchor="start" textLength="242.5" lengthAdjust="spacingAndGlyphs">Laurentide termination</text>
<text x="804.2" y="1853.5" font-size="22.37" fill="#000" text-anchor="start" textLength="213.3" lengthAdjust="spacingAndGlyphs" xml:space="preserve"> (Dalton et al. 2020)</text>
<text x="804.2" y="1883.5" font-size="22.37" fill="#000" text-anchor="start" textLength="131.8" lengthAdjust="spacingAndGlyphs">8.2 ka event</text>
<text x="804.2" y="1915.5" font-size="22.37" fill="#000" text-anchor="start" textLength="250.3" lengthAdjust="spacingAndGlyphs">IPCC AR6 mid-Holocene</text>
<text x="804.2" y="1939.5" font-size="22.37" fill="#000" text-anchor="start" textLength="166.0" lengthAdjust="spacingAndGlyphs" xml:space="preserve"> GMSL estimate</text>
<line x1="271.5" y1="394.2" x2="271.5" y2="398.0" stroke="#000" stroke-width="1.1"/>
<line x1="433" y1="394.2" x2="433" y2="398.0" stroke="#000" stroke-width="1.1"/>
<line x1="594.5" y1="394.2" x2="594.5" y2="398.0" stroke="#000" stroke-width="1.1"/>
<line x1="757.2" y1="394.2" x2="757.2" y2="398.0" stroke="#000" stroke-width="1.1"/>
<line x1="918.5" y1="394.2" x2="918.5" y2="398.0" stroke="#000" stroke-width="1.1"/>
<line x1="1080.5" y1="394.2" x2="1080.5" y2="398.0" stroke="#000" stroke-width="1.1"/>
<line x1="271.5" y1="786.2" x2="271.5" y2="790.0" stroke="#000" stroke-width="1.1"/>
<line x1="433" y1="786.2" x2="433" y2="790.0" stroke="#000" stroke-width="1.1"/>
<line x1="594.5" y1="786.2" x2="594.5" y2="790.0" stroke="#000" stroke-width="1.1"/>
<line x1="757.2" y1="786.2" x2="757.2" y2="790.0" stroke="#000" stroke-width="1.1"/>
<line x1="918.5" y1="786.2" x2="918.5" y2="790.0" stroke="#000" stroke-width="1.1"/>
<line x1="1080.5" y1="786.2" x2="1080.5" y2="790.0" stroke="#000" stroke-width="1.1"/>
<line x1="271.5" y1="1178.3" x2="271.5" y2="1182.1" stroke="#000" stroke-width="1.1"/>
<line x1="433" y1="1178.3" x2="433" y2="1182.1" stroke="#000" stroke-width="1.1"/>
<line x1="594.5" y1="1178.3" x2="594.5" y2="1182.1" stroke="#000" stroke-width="1.1"/>
<line x1="757.2" y1="1178.3" x2="757.2" y2="1182.1" stroke="#000" stroke-width="1.1"/>
<line x1="918.5" y1="1178.3" x2="918.5" y2="1182.1" stroke="#000" stroke-width="1.1"/>
<line x1="1080.5" y1="1178.3" x2="1080.5" y2="1182.1" stroke="#000" stroke-width="1.1"/>
<line x1="271.5" y1="1569.8" x2="271.5" y2="1573.6" stroke="#000" stroke-width="1.1"/>
<line x1="433" y1="1569.8" x2="433" y2="1573.6" stroke="#000" stroke-width="1.1"/>
<line x1="594.5" y1="1569.8" x2="594.5" y2="1573.6" stroke="#000" stroke-width="1.1"/>
<line x1="757.2" y1="1569.8" x2="757.2" y2="1573.6" stroke="#000" stroke-width="1.1"/>
<line x1="918.5" y1="1569.8" x2="918.5" y2="1573.6" stroke="#000" stroke-width="1.1"/>
<line x1="1080.5" y1="1569.8" x2="1080.5" y2="1573.6" stroke="#000" stroke-width="1.1"/>
<line x1="271.5" y1="1962" x2="271.5" y2="1966.5" stroke="#000" stroke-width="1.1"/>
<text x="271.5" y="1985" font-size="20.67" fill="#000" text-anchor="middle" textLength="24.8" lengthAdjust="spacingAndGlyphs">10</text>
<line x1="433" y1="1962" x2="433" y2="1966.5" stroke="#000" stroke-width="1.1"/>
<text x="433" y="1985" font-size="20.67" fill="#000" text-anchor="middle" textLength="12.4" lengthAdjust="spacingAndGlyphs">8</text>
<line x1="594.5" y1="1962" x2="594.5" y2="1966.5" stroke="#000" stroke-width="1.1"/>
<text x="594.5" y="1985" font-size="20.67" fill="#000" text-anchor="middle" textLength="12.4" lengthAdjust="spacingAndGlyphs">6</text>
<line x1="757.2" y1="1962" x2="757.2" y2="1966.5" stroke="#000" stroke-width="1.1"/>
<text x="757.2" y="1985" font-size="20.67" fill="#000" text-anchor="middle" textLength="12.4" lengthAdjust="spacingAndGlyphs">4</text>
<line x1="918.5" y1="1962" x2="918.5" y2="1966.5" stroke="#000" stroke-width="1.1"/>
<text x="918.5" y="1985" font-size="20.67" fill="#000" text-anchor="middle" textLength="12.4" lengthAdjust="spacingAndGlyphs">2</text>
<line x1="1080.5" y1="1962" x2="1080.5" y2="1966.5" stroke="#000" stroke-width="1.1"/>
<text x="1080.5" y="1985" font-size="20.67" fill="#000" text-anchor="middle" textLength="12.4" lengthAdjust="spacingAndGlyphs">0</text>
<text x="607" y="2010" font-size="24.80" fill="#000" text-anchor="middle" textLength="256.9" lengthAdjust="spacingAndGlyphs">Age (kyr before 1950)</text>
</svg></body></html>
